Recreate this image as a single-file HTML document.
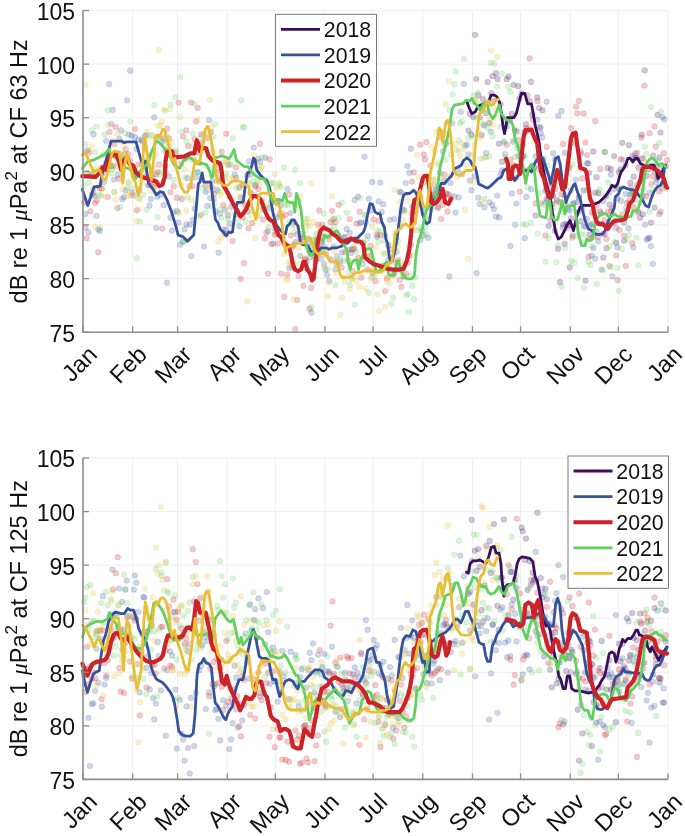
<!DOCTYPE html><html><head><meta charset="utf-8"><style>html,body{margin:0;padding:0;background:#fff;}svg{display:block;will-change:transform}text{font-family:"Liberation Sans", sans-serif;fill:#111}</style></head><body>
<svg width="685" height="836" viewBox="0 0 685 836">
<rect width="685" height="836" fill="#fff"/>
<line x1="132.68" y1="10.5" x2="132.68" y2="332.2" stroke="#efefef" stroke-width="1"/>
<line x1="177.56" y1="10.5" x2="177.56" y2="332.2" stroke="#efefef" stroke-width="1"/>
<line x1="227.25" y1="10.5" x2="227.25" y2="332.2" stroke="#efefef" stroke-width="1"/>
<line x1="275.33" y1="10.5" x2="275.33" y2="332.2" stroke="#efefef" stroke-width="1"/>
<line x1="325.01" y1="10.5" x2="325.01" y2="332.2" stroke="#efefef" stroke-width="1"/>
<line x1="373.10" y1="10.5" x2="373.10" y2="332.2" stroke="#efefef" stroke-width="1"/>
<line x1="422.78" y1="10.5" x2="422.78" y2="332.2" stroke="#efefef" stroke-width="1"/>
<line x1="472.47" y1="10.5" x2="472.47" y2="332.2" stroke="#efefef" stroke-width="1"/>
<line x1="520.55" y1="10.5" x2="520.55" y2="332.2" stroke="#efefef" stroke-width="1"/>
<line x1="570.23" y1="10.5" x2="570.23" y2="332.2" stroke="#efefef" stroke-width="1"/>
<line x1="618.32" y1="10.5" x2="618.32" y2="332.2" stroke="#efefef" stroke-width="1"/>
<line x1="668.00" y1="10.5" x2="668.00" y2="332.2" stroke="#efefef" stroke-width="1"/>
<line x1="83.0" y1="278.58" x2="668.0" y2="278.58" stroke="#efefef" stroke-width="1"/>
<line x1="83.0" y1="224.97" x2="668.0" y2="224.97" stroke="#efefef" stroke-width="1"/>
<line x1="83.0" y1="171.35" x2="668.0" y2="171.35" stroke="#efefef" stroke-width="1"/>
<line x1="83.0" y1="117.73" x2="668.0" y2="117.73" stroke="#efefef" stroke-width="1"/>
<line x1="83.0" y1="64.12" x2="668.0" y2="64.12" stroke="#efefef" stroke-width="1"/>
<line x1="83.0" y1="10.50" x2="668.0" y2="10.50" stroke="#efefef" stroke-width="1"/>
<g fill="#3b0f5e" fill-opacity="0.24" stroke="#3b0f5e" stroke-opacity="0.22" stroke-width="0.6"><circle cx="468.6" cy="130.6" r="2.85"/><circle cx="469.8" cy="113.8" r="2.85"/><circle cx="471.4" cy="134.7" r="2.85"/><circle cx="473.3" cy="117.0" r="2.85"/><circle cx="475.1" cy="34.8" r="2.85"/><circle cx="476.3" cy="79.0" r="2.85"/><circle cx="478.3" cy="95.2" r="2.85"/><circle cx="479.8" cy="117.5" r="2.85"/><circle cx="481.5" cy="135.1" r="2.85"/><circle cx="482.9" cy="99.0" r="2.85"/><circle cx="484.2" cy="125.3" r="2.85"/><circle cx="486.0" cy="113.2" r="2.85"/><circle cx="487.6" cy="82.0" r="2.85"/><circle cx="489.4" cy="122.9" r="2.85"/><circle cx="491.2" cy="93.2" r="2.85"/><circle cx="492.6" cy="76.2" r="2.85"/><circle cx="494.0" cy="101.1" r="2.85"/><circle cx="496.0" cy="73.1" r="2.85"/><circle cx="497.6" cy="78.9" r="2.85"/><circle cx="498.8" cy="143.7" r="2.85"/><circle cx="500.5" cy="104.4" r="2.85"/><circle cx="502.1" cy="161.7" r="2.85"/><circle cx="506.7" cy="79.2" r="2.85"/><circle cx="508.5" cy="76.4" r="2.85"/><circle cx="510.2" cy="120.9" r="2.85"/><circle cx="511.8" cy="113.9" r="2.85"/><circle cx="513.6" cy="84.8" r="2.85"/><circle cx="514.7" cy="130.1" r="2.85"/><circle cx="516.6" cy="131.5" r="2.85"/><circle cx="518.2" cy="86.1" r="2.85"/><circle cx="519.5" cy="98.6" r="2.85"/><circle cx="521.5" cy="93.3" r="2.85"/><circle cx="522.7" cy="156.6" r="2.85"/><circle cx="524.7" cy="131.9" r="2.85"/><circle cx="526.0" cy="124.3" r="2.85"/><circle cx="527.6" cy="131.0" r="2.85"/><circle cx="529.7" cy="101.1" r="2.85"/><circle cx="531.0" cy="81.8" r="2.85"/><circle cx="532.4" cy="114.6" r="2.85"/><circle cx="534.2" cy="167.0" r="2.85"/><circle cx="535.6" cy="215.5" r="2.85"/><circle cx="537.2" cy="97.4" r="2.85"/><circle cx="539.2" cy="108.0" r="2.85"/><circle cx="540.5" cy="127.6" r="2.85"/><circle cx="542.5" cy="110.3" r="2.85"/><circle cx="545.6" cy="190.3" r="2.85"/><circle cx="546.9" cy="199.4" r="2.85"/><circle cx="548.6" cy="225.9" r="2.85"/><circle cx="550.4" cy="187.6" r="2.85"/><circle cx="552.0" cy="204.4" r="2.85"/><circle cx="553.1" cy="195.7" r="2.85"/><circle cx="554.9" cy="231.0" r="2.85"/><circle cx="556.9" cy="200.2" r="2.85"/><circle cx="558.0" cy="248.7" r="2.85"/><circle cx="560.0" cy="282.1" r="2.85"/><circle cx="563.2" cy="224.7" r="2.85"/><circle cx="564.7" cy="243.8" r="2.85"/><circle cx="566.0" cy="223.6" r="2.85"/><circle cx="567.8" cy="225.2" r="2.85"/><circle cx="569.7" cy="267.3" r="2.85"/><circle cx="571.1" cy="218.3" r="2.85"/><circle cx="572.8" cy="203.8" r="2.85"/><circle cx="577.7" cy="212.9" r="2.85"/><circle cx="579.2" cy="196.3" r="2.85"/><circle cx="580.7" cy="221.2" r="2.85"/><circle cx="583.6" cy="190.3" r="2.85"/><circle cx="585.5" cy="280.6" r="2.85"/><circle cx="587.1" cy="163.4" r="2.85"/><circle cx="588.9" cy="173.0" r="2.85"/><circle cx="590.0" cy="234.6" r="2.85"/><circle cx="591.7" cy="224.1" r="2.85"/><circle cx="593.2" cy="151.4" r="2.85"/><circle cx="595.1" cy="192.7" r="2.85"/><circle cx="596.6" cy="177.2" r="2.85"/><circle cx="598.5" cy="193.3" r="2.85"/><circle cx="600.1" cy="211.4" r="2.85"/><circle cx="601.6" cy="224.0" r="2.85"/><circle cx="603.3" cy="257.5" r="2.85"/><circle cx="604.8" cy="152.1" r="2.85"/><circle cx="606.5" cy="248.2" r="2.85"/><circle cx="607.7" cy="167.9" r="2.85"/><circle cx="609.5" cy="204.7" r="2.85"/><circle cx="610.9" cy="169.1" r="2.85"/><circle cx="614.2" cy="156.1" r="2.85"/><circle cx="616.2" cy="242.8" r="2.85"/><circle cx="617.3" cy="198.7" r="2.85"/><circle cx="618.9" cy="172.2" r="2.85"/><circle cx="620.7" cy="169.3" r="2.85"/><circle cx="622.2" cy="142.8" r="2.85"/><circle cx="624.1" cy="240.6" r="2.85"/><circle cx="625.4" cy="165.5" r="2.85"/><circle cx="628.9" cy="145.2" r="2.85"/><circle cx="630.3" cy="182.6" r="2.85"/><circle cx="632.2" cy="156.1" r="2.85"/><circle cx="633.6" cy="176.6" r="2.85"/><circle cx="635.1" cy="157.9" r="2.85"/><circle cx="636.7" cy="158.2" r="2.85"/><circle cx="638.5" cy="167.6" r="2.85"/><circle cx="640.0" cy="217.8" r="2.85"/><circle cx="641.7" cy="134.8" r="2.85"/><circle cx="642.9" cy="214.3" r="2.85"/><circle cx="644.7" cy="70.3" r="2.85"/><circle cx="646.5" cy="175.9" r="2.85"/><circle cx="648.1" cy="169.2" r="2.85"/><circle cx="649.5" cy="237.6" r="2.85"/><circle cx="651.0" cy="222.6" r="2.85"/><circle cx="653.0" cy="155.5" r="2.85"/><circle cx="654.6" cy="207.5" r="2.85"/><circle cx="656.0" cy="166.5" r="2.85"/><circle cx="657.6" cy="114.8" r="2.85"/><circle cx="659.3" cy="157.7" r="2.85"/><circle cx="660.5" cy="132.5" r="2.85"/><circle cx="662.3" cy="165.8" r="2.85"/><circle cx="664.1" cy="182.4" r="2.85"/></g>
<g fill="#36529c" fill-opacity="0.24" stroke="#36529c" stroke-opacity="0.22" stroke-width="0.6"><circle cx="85.4" cy="213.9" r="2.85"/><circle cx="87.1" cy="150.3" r="2.85"/><circle cx="88.5" cy="232.2" r="2.85"/><circle cx="91.8" cy="194.7" r="2.85"/><circle cx="93.5" cy="134.2" r="2.85"/><circle cx="94.9" cy="196.0" r="2.85"/><circle cx="96.4" cy="215.9" r="2.85"/><circle cx="98.2" cy="229.6" r="2.85"/><circle cx="99.9" cy="230.8" r="2.85"/><circle cx="101.3" cy="169.1" r="2.85"/><circle cx="103.0" cy="173.0" r="2.85"/><circle cx="104.3" cy="181.8" r="2.85"/><circle cx="106.1" cy="140.9" r="2.85"/><circle cx="108.1" cy="161.1" r="2.85"/><circle cx="109.2" cy="84.1" r="2.85"/><circle cx="111.2" cy="124.0" r="2.85"/><circle cx="112.7" cy="109.9" r="2.85"/><circle cx="114.0" cy="179.6" r="2.85"/><circle cx="117.7" cy="174.8" r="2.85"/><circle cx="119.1" cy="138.7" r="2.85"/><circle cx="120.9" cy="130.4" r="2.85"/><circle cx="122.2" cy="199.1" r="2.85"/><circle cx="123.9" cy="197.2" r="2.85"/><circle cx="125.7" cy="190.4" r="2.85"/><circle cx="127.2" cy="100.3" r="2.85"/><circle cx="128.9" cy="134.6" r="2.85"/><circle cx="130.2" cy="70.7" r="2.85"/><circle cx="131.6" cy="135.7" r="2.85"/><circle cx="133.5" cy="195.4" r="2.85"/><circle cx="134.9" cy="137.1" r="2.85"/><circle cx="136.6" cy="149.0" r="2.85"/><circle cx="138.6" cy="139.5" r="2.85"/><circle cx="141.7" cy="140.2" r="2.85"/><circle cx="142.9" cy="141.9" r="2.85"/><circle cx="144.6" cy="136.0" r="2.85"/><circle cx="146.5" cy="135.1" r="2.85"/><circle cx="147.8" cy="185.3" r="2.85"/><circle cx="149.5" cy="205.4" r="2.85"/><circle cx="150.9" cy="199.0" r="2.85"/><circle cx="152.6" cy="176.8" r="2.85"/><circle cx="154.2" cy="117.3" r="2.85"/><circle cx="156.2" cy="228.0" r="2.85"/><circle cx="157.3" cy="196.7" r="2.85"/><circle cx="159.1" cy="136.9" r="2.85"/><circle cx="160.5" cy="194.9" r="2.85"/><circle cx="162.1" cy="141.8" r="2.85"/><circle cx="163.7" cy="205.2" r="2.85"/><circle cx="165.7" cy="150.7" r="2.85"/><circle cx="167.0" cy="282.7" r="2.85"/><circle cx="169.0" cy="176.4" r="2.85"/><circle cx="170.4" cy="217.8" r="2.85"/><circle cx="172.0" cy="230.7" r="2.85"/><circle cx="173.3" cy="212.5" r="2.85"/><circle cx="176.9" cy="210.8" r="2.85"/><circle cx="178.5" cy="222.6" r="2.85"/><circle cx="180.2" cy="244.7" r="2.85"/><circle cx="181.7" cy="199.1" r="2.85"/><circle cx="183.1" cy="241.8" r="2.85"/><circle cx="184.6" cy="229.3" r="2.85"/><circle cx="186.4" cy="224.4" r="2.85"/><circle cx="187.7" cy="178.2" r="2.85"/><circle cx="189.9" cy="224.7" r="2.85"/><circle cx="191.5" cy="256.1" r="2.85"/><circle cx="192.9" cy="219.9" r="2.85"/><circle cx="194.6" cy="208.9" r="2.85"/><circle cx="195.7" cy="177.3" r="2.85"/><circle cx="197.7" cy="172.2" r="2.85"/><circle cx="199.5" cy="162.9" r="2.85"/><circle cx="200.8" cy="215.1" r="2.85"/><circle cx="202.4" cy="142.2" r="2.85"/><circle cx="204.0" cy="246.5" r="2.85"/><circle cx="205.7" cy="192.0" r="2.85"/><circle cx="207.2" cy="205.9" r="2.85"/><circle cx="209.1" cy="120.2" r="2.85"/><circle cx="210.2" cy="198.1" r="2.85"/><circle cx="212.3" cy="180.8" r="2.85"/><circle cx="213.8" cy="199.0" r="2.85"/><circle cx="215.4" cy="211.4" r="2.85"/><circle cx="216.9" cy="189.9" r="2.85"/><circle cx="218.6" cy="252.7" r="2.85"/><circle cx="220.0" cy="213.6" r="2.85"/><circle cx="221.5" cy="180.5" r="2.85"/><circle cx="223.2" cy="229.6" r="2.85"/><circle cx="224.9" cy="210.0" r="2.85"/><circle cx="226.3" cy="229.7" r="2.85"/><circle cx="227.8" cy="215.4" r="2.85"/><circle cx="229.8" cy="223.8" r="2.85"/><circle cx="231.3" cy="206.9" r="2.85"/><circle cx="234.7" cy="174.7" r="2.85"/><circle cx="236.2" cy="177.8" r="2.85"/><circle cx="237.5" cy="214.4" r="2.85"/><circle cx="239.4" cy="226.3" r="2.85"/><circle cx="241.1" cy="197.7" r="2.85"/><circle cx="242.7" cy="184.5" r="2.85"/><circle cx="247.6" cy="211.6" r="2.85"/><circle cx="249.1" cy="161.4" r="2.85"/><circle cx="250.7" cy="174.5" r="2.85"/><circle cx="253.7" cy="147.5" r="2.85"/><circle cx="255.1" cy="185.0" r="2.85"/><circle cx="258.3" cy="158.8" r="2.85"/><circle cx="260.0" cy="161.9" r="2.85"/><circle cx="263.3" cy="208.5" r="2.85"/><circle cx="265.0" cy="157.7" r="2.85"/><circle cx="266.4" cy="180.5" r="2.85"/><circle cx="268.2" cy="231.1" r="2.85"/><circle cx="269.8" cy="208.2" r="2.85"/><circle cx="271.4" cy="202.3" r="2.85"/><circle cx="273.2" cy="243.6" r="2.85"/><circle cx="274.6" cy="228.4" r="2.85"/><circle cx="276.3" cy="202.7" r="2.85"/><circle cx="277.8" cy="202.0" r="2.85"/><circle cx="279.4" cy="217.0" r="2.85"/><circle cx="280.8" cy="205.5" r="2.85"/><circle cx="282.8" cy="237.8" r="2.85"/><circle cx="284.3" cy="243.9" r="2.85"/><circle cx="285.9" cy="244.8" r="2.85"/><circle cx="287.6" cy="189.1" r="2.85"/><circle cx="289.2" cy="268.0" r="2.85"/><circle cx="290.5" cy="213.0" r="2.85"/><circle cx="292.3" cy="247.0" r="2.85"/><circle cx="294.0" cy="222.2" r="2.85"/><circle cx="295.6" cy="241.9" r="2.85"/><circle cx="296.8" cy="234.5" r="2.85"/><circle cx="300.0" cy="255.8" r="2.85"/><circle cx="301.8" cy="233.9" r="2.85"/><circle cx="305.1" cy="259.7" r="2.85"/><circle cx="306.7" cy="262.2" r="2.85"/><circle cx="308.1" cy="238.4" r="2.85"/><circle cx="309.7" cy="257.2" r="2.85"/><circle cx="311.5" cy="312.6" r="2.85"/><circle cx="312.9" cy="240.2" r="2.85"/><circle cx="314.6" cy="256.2" r="2.85"/><circle cx="316.3" cy="261.5" r="2.85"/><circle cx="319.1" cy="250.1" r="2.85"/><circle cx="320.8" cy="258.7" r="2.85"/><circle cx="322.3" cy="242.3" r="2.85"/><circle cx="324.0" cy="264.0" r="2.85"/><circle cx="325.5" cy="269.7" r="2.85"/><circle cx="327.3" cy="275.1" r="2.85"/><circle cx="329.2" cy="281.0" r="2.85"/><circle cx="330.6" cy="259.4" r="2.85"/><circle cx="332.4" cy="169.2" r="2.85"/><circle cx="333.8" cy="246.6" r="2.85"/><circle cx="335.5" cy="269.4" r="2.85"/><circle cx="336.8" cy="256.4" r="2.85"/><circle cx="340.3" cy="261.6" r="2.85"/><circle cx="341.9" cy="252.4" r="2.85"/><circle cx="343.7" cy="237.0" r="2.85"/><circle cx="345.2" cy="237.4" r="2.85"/><circle cx="346.6" cy="229.1" r="2.85"/><circle cx="348.2" cy="249.7" r="2.85"/><circle cx="349.6" cy="232.8" r="2.85"/><circle cx="351.2" cy="253.0" r="2.85"/><circle cx="353.1" cy="248.7" r="2.85"/><circle cx="354.6" cy="199.9" r="2.85"/><circle cx="356.5" cy="238.5" r="2.85"/><circle cx="357.9" cy="196.6" r="2.85"/><circle cx="359.7" cy="223.2" r="2.85"/><circle cx="361.1" cy="222.3" r="2.85"/><circle cx="362.7" cy="263.9" r="2.85"/><circle cx="364.5" cy="156.8" r="2.85"/><circle cx="365.8" cy="222.1" r="2.85"/><circle cx="367.7" cy="235.8" r="2.85"/><circle cx="368.8" cy="198.7" r="2.85"/><circle cx="370.6" cy="210.4" r="2.85"/><circle cx="372.3" cy="182.0" r="2.85"/><circle cx="377.2" cy="237.0" r="2.85"/><circle cx="378.6" cy="201.3" r="2.85"/><circle cx="380.3" cy="182.6" r="2.85"/><circle cx="381.6" cy="212.0" r="2.85"/><circle cx="383.2" cy="204.2" r="2.85"/><circle cx="385.0" cy="235.6" r="2.85"/><circle cx="388.3" cy="260.2" r="2.85"/><circle cx="389.7" cy="219.8" r="2.85"/><circle cx="391.2" cy="259.8" r="2.85"/><circle cx="393.3" cy="274.5" r="2.85"/><circle cx="394.4" cy="219.0" r="2.85"/><circle cx="396.6" cy="251.8" r="2.85"/><circle cx="399.6" cy="191.8" r="2.85"/><circle cx="401.0" cy="192.3" r="2.85"/><circle cx="402.5" cy="209.4" r="2.85"/><circle cx="404.5" cy="210.3" r="2.85"/><circle cx="405.7" cy="183.0" r="2.85"/><circle cx="407.4" cy="166.0" r="2.85"/><circle cx="409.3" cy="172.8" r="2.85"/><circle cx="410.8" cy="148.7" r="2.85"/><circle cx="412.4" cy="206.0" r="2.85"/><circle cx="413.8" cy="210.6" r="2.85"/><circle cx="417.1" cy="204.8" r="2.85"/><circle cx="420.4" cy="240.0" r="2.85"/><circle cx="422.0" cy="230.3" r="2.85"/><circle cx="423.7" cy="235.1" r="2.85"/><circle cx="425.0" cy="208.1" r="2.85"/><circle cx="428.4" cy="237.8" r="2.85"/><circle cx="430.0" cy="207.3" r="2.85"/><circle cx="431.5" cy="195.4" r="2.85"/><circle cx="433.3" cy="198.1" r="2.85"/><circle cx="434.9" cy="191.0" r="2.85"/><circle cx="436.5" cy="189.3" r="2.85"/><circle cx="437.8" cy="206.4" r="2.85"/><circle cx="439.7" cy="172.7" r="2.85"/><circle cx="441.1" cy="137.1" r="2.85"/><circle cx="442.9" cy="151.4" r="2.85"/><circle cx="444.5" cy="180.9" r="2.85"/><circle cx="445.9" cy="143.7" r="2.85"/><circle cx="447.5" cy="193.7" r="2.85"/><circle cx="449.4" cy="276.4" r="2.85"/><circle cx="450.6" cy="183.0" r="2.85"/><circle cx="452.2" cy="123.3" r="2.85"/><circle cx="454.2" cy="196.4" r="2.85"/><circle cx="455.6" cy="212.6" r="2.85"/><circle cx="457.4" cy="169.8" r="2.85"/><circle cx="458.7" cy="197.4" r="2.85"/><circle cx="460.7" cy="111.8" r="2.85"/><circle cx="461.9" cy="174.2" r="2.85"/><circle cx="463.8" cy="83.9" r="2.85"/><circle cx="465.3" cy="145.6" r="2.85"/><circle cx="467.1" cy="144.5" r="2.85"/><circle cx="468.3" cy="154.3" r="2.85"/><circle cx="469.9" cy="180.5" r="2.85"/><circle cx="471.4" cy="190.2" r="2.85"/><circle cx="474.6" cy="176.0" r="2.85"/><circle cx="476.6" cy="273.0" r="2.85"/><circle cx="478.2" cy="197.6" r="2.85"/><circle cx="479.6" cy="204.1" r="2.85"/><circle cx="484.5" cy="207.2" r="2.85"/><circle cx="486.0" cy="153.1" r="2.85"/><circle cx="489.5" cy="202.3" r="2.85"/><circle cx="490.9" cy="131.6" r="2.85"/><circle cx="492.3" cy="205.1" r="2.85"/><circle cx="493.9" cy="209.2" r="2.85"/><circle cx="496.0" cy="216.6" r="2.85"/><circle cx="497.3" cy="195.6" r="2.85"/><circle cx="499.1" cy="217.4" r="2.85"/><circle cx="500.6" cy="174.6" r="2.85"/><circle cx="502.1" cy="170.4" r="2.85"/><circle cx="503.9" cy="141.6" r="2.85"/><circle cx="505.1" cy="154.0" r="2.85"/><circle cx="506.8" cy="126.7" r="2.85"/><circle cx="510.4" cy="245.9" r="2.85"/><circle cx="511.9" cy="193.4" r="2.85"/><circle cx="513.2" cy="141.8" r="2.85"/><circle cx="515.2" cy="224.7" r="2.85"/><circle cx="516.5" cy="203.5" r="2.85"/><circle cx="518.2" cy="155.9" r="2.85"/><circle cx="519.9" cy="171.9" r="2.85"/><circle cx="521.1" cy="159.5" r="2.85"/><circle cx="523.1" cy="156.2" r="2.85"/><circle cx="524.8" cy="238.2" r="2.85"/><circle cx="526.4" cy="196.9" r="2.85"/><circle cx="529.5" cy="170.0" r="2.85"/><circle cx="531.1" cy="189.2" r="2.85"/><circle cx="535.7" cy="156.1" r="2.85"/><circle cx="537.3" cy="119.6" r="2.85"/><circle cx="539.0" cy="126.8" r="2.85"/><circle cx="540.7" cy="132.9" r="2.85"/><circle cx="542.2" cy="137.4" r="2.85"/><circle cx="543.7" cy="158.5" r="2.85"/><circle cx="545.2" cy="202.3" r="2.85"/><circle cx="546.7" cy="101.7" r="2.85"/><circle cx="548.5" cy="196.9" r="2.85"/><circle cx="550.4" cy="220.3" r="2.85"/><circle cx="551.9" cy="194.9" r="2.85"/><circle cx="553.2" cy="153.2" r="2.85"/><circle cx="555.0" cy="159.4" r="2.85"/><circle cx="556.4" cy="172.0" r="2.85"/><circle cx="558.3" cy="115.9" r="2.85"/><circle cx="560.1" cy="175.0" r="2.85"/><circle cx="561.5" cy="110.9" r="2.85"/><circle cx="562.8" cy="227.8" r="2.85"/><circle cx="564.9" cy="152.8" r="2.85"/><circle cx="568.0" cy="208.8" r="2.85"/><circle cx="569.7" cy="210.6" r="2.85"/><circle cx="570.8" cy="190.4" r="2.85"/><circle cx="572.6" cy="235.3" r="2.85"/><circle cx="574.4" cy="202.8" r="2.85"/><circle cx="575.9" cy="179.5" r="2.85"/><circle cx="577.5" cy="202.0" r="2.85"/><circle cx="579.0" cy="197.8" r="2.85"/><circle cx="580.9" cy="154.0" r="2.85"/><circle cx="582.4" cy="209.4" r="2.85"/><circle cx="583.8" cy="226.1" r="2.85"/><circle cx="585.3" cy="226.6" r="2.85"/><circle cx="586.8" cy="218.9" r="2.85"/><circle cx="588.6" cy="163.2" r="2.85"/><circle cx="590.1" cy="225.4" r="2.85"/><circle cx="591.7" cy="255.6" r="2.85"/><circle cx="593.4" cy="248.1" r="2.85"/><circle cx="595.1" cy="258.7" r="2.85"/><circle cx="596.7" cy="231.7" r="2.85"/><circle cx="598.2" cy="241.3" r="2.85"/><circle cx="601.5" cy="269.5" r="2.85"/><circle cx="603.3" cy="201.2" r="2.85"/><circle cx="604.7" cy="234.0" r="2.85"/><circle cx="606.0" cy="196.2" r="2.85"/><circle cx="608.0" cy="224.7" r="2.85"/><circle cx="609.4" cy="192.3" r="2.85"/><circle cx="610.9" cy="174.7" r="2.85"/><circle cx="612.4" cy="276.4" r="2.85"/><circle cx="614.4" cy="189.1" r="2.85"/><circle cx="616.0" cy="228.0" r="2.85"/><circle cx="617.4" cy="247.4" r="2.85"/><circle cx="619.2" cy="189.1" r="2.85"/><circle cx="621.0" cy="200.8" r="2.85"/><circle cx="622.5" cy="159.6" r="2.85"/><circle cx="624.1" cy="222.8" r="2.85"/><circle cx="625.7" cy="194.0" r="2.85"/><circle cx="627.3" cy="210.1" r="2.85"/><circle cx="628.5" cy="228.3" r="2.85"/><circle cx="630.1" cy="194.3" r="2.85"/><circle cx="632.1" cy="193.7" r="2.85"/><circle cx="633.3" cy="247.4" r="2.85"/><circle cx="635.2" cy="153.6" r="2.85"/><circle cx="636.7" cy="185.0" r="2.85"/><circle cx="638.5" cy="212.6" r="2.85"/><circle cx="639.8" cy="181.7" r="2.85"/><circle cx="641.8" cy="158.2" r="2.85"/><circle cx="643.0" cy="195.8" r="2.85"/><circle cx="644.9" cy="224.6" r="2.85"/><circle cx="646.7" cy="239.4" r="2.85"/><circle cx="648.1" cy="238.9" r="2.85"/><circle cx="649.5" cy="192.8" r="2.85"/><circle cx="651.0" cy="246.1" r="2.85"/><circle cx="652.8" cy="263.8" r="2.85"/><circle cx="654.5" cy="171.8" r="2.85"/><circle cx="656.1" cy="182.2" r="2.85"/><circle cx="657.3" cy="179.1" r="2.85"/><circle cx="659.4" cy="214.0" r="2.85"/><circle cx="661.1" cy="171.4" r="2.85"/><circle cx="662.4" cy="117.1" r="2.85"/><circle cx="664.3" cy="119.6" r="2.85"/></g>
<g fill="#cd2228" fill-opacity="0.24" stroke="#cd2228" stroke-opacity="0.22" stroke-width="0.6"><circle cx="84.1" cy="202.4" r="2.85"/><circle cx="85.4" cy="227.7" r="2.85"/><circle cx="86.7" cy="238.2" r="2.85"/><circle cx="88.9" cy="152.5" r="2.85"/><circle cx="90.5" cy="211.3" r="2.85"/><circle cx="91.6" cy="174.3" r="2.85"/><circle cx="93.2" cy="192.9" r="2.85"/><circle cx="95.1" cy="203.1" r="2.85"/><circle cx="96.8" cy="200.6" r="2.85"/><circle cx="98.3" cy="252.3" r="2.85"/><circle cx="99.7" cy="188.2" r="2.85"/><circle cx="101.7" cy="188.8" r="2.85"/><circle cx="103.1" cy="167.1" r="2.85"/><circle cx="106.2" cy="164.0" r="2.85"/><circle cx="107.6" cy="197.1" r="2.85"/><circle cx="109.5" cy="132.0" r="2.85"/><circle cx="111.1" cy="165.9" r="2.85"/><circle cx="112.6" cy="166.5" r="2.85"/><circle cx="114.4" cy="144.0" r="2.85"/><circle cx="115.8" cy="127.0" r="2.85"/><circle cx="117.5" cy="208.0" r="2.85"/><circle cx="118.9" cy="178.7" r="2.85"/><circle cx="120.7" cy="154.3" r="2.85"/><circle cx="123.8" cy="159.0" r="2.85"/><circle cx="125.7" cy="149.3" r="2.85"/><circle cx="127.3" cy="160.2" r="2.85"/><circle cx="128.4" cy="154.2" r="2.85"/><circle cx="130.0" cy="160.6" r="2.85"/><circle cx="132.0" cy="192.6" r="2.85"/><circle cx="133.4" cy="172.1" r="2.85"/><circle cx="135.0" cy="129.0" r="2.85"/><circle cx="136.7" cy="210.3" r="2.85"/><circle cx="138.3" cy="164.5" r="2.85"/><circle cx="139.6" cy="189.8" r="2.85"/><circle cx="143.3" cy="161.3" r="2.85"/><circle cx="144.6" cy="147.2" r="2.85"/><circle cx="146.3" cy="176.1" r="2.85"/><circle cx="147.6" cy="165.5" r="2.85"/><circle cx="149.6" cy="185.1" r="2.85"/><circle cx="152.6" cy="184.6" r="2.85"/><circle cx="154.2" cy="187.0" r="2.85"/><circle cx="155.8" cy="174.4" r="2.85"/><circle cx="157.3" cy="172.2" r="2.85"/><circle cx="159.0" cy="164.7" r="2.85"/><circle cx="162.3" cy="228.5" r="2.85"/><circle cx="164.2" cy="138.4" r="2.85"/><circle cx="165.3" cy="166.4" r="2.85"/><circle cx="167.1" cy="128.7" r="2.85"/><circle cx="169.0" cy="138.3" r="2.85"/><circle cx="170.4" cy="192.1" r="2.85"/><circle cx="172.2" cy="152.6" r="2.85"/><circle cx="173.7" cy="186.2" r="2.85"/><circle cx="175.4" cy="152.6" r="2.85"/><circle cx="176.9" cy="197.7" r="2.85"/><circle cx="178.6" cy="102.5" r="2.85"/><circle cx="181.3" cy="163.8" r="2.85"/><circle cx="183.0" cy="136.5" r="2.85"/><circle cx="184.9" cy="158.9" r="2.85"/><circle cx="186.4" cy="130.4" r="2.85"/><circle cx="188.3" cy="146.1" r="2.85"/><circle cx="189.5" cy="186.1" r="2.85"/><circle cx="191.0" cy="102.5" r="2.85"/><circle cx="192.6" cy="186.2" r="2.85"/><circle cx="194.6" cy="139.2" r="2.85"/><circle cx="196.2" cy="121.4" r="2.85"/><circle cx="197.6" cy="107.8" r="2.85"/><circle cx="199.2" cy="152.3" r="2.85"/><circle cx="200.9" cy="134.4" r="2.85"/><circle cx="205.6" cy="185.8" r="2.85"/><circle cx="207.3" cy="138.2" r="2.85"/><circle cx="210.5" cy="132.0" r="2.85"/><circle cx="211.7" cy="186.9" r="2.85"/><circle cx="213.9" cy="193.9" r="2.85"/><circle cx="217.0" cy="164.4" r="2.85"/><circle cx="218.2" cy="177.9" r="2.85"/><circle cx="219.9" cy="171.0" r="2.85"/><circle cx="221.9" cy="151.8" r="2.85"/><circle cx="223.4" cy="205.0" r="2.85"/><circle cx="224.8" cy="233.5" r="2.85"/><circle cx="226.2" cy="133.7" r="2.85"/><circle cx="228.1" cy="164.8" r="2.85"/><circle cx="229.7" cy="196.7" r="2.85"/><circle cx="232.6" cy="241.1" r="2.85"/><circle cx="236.1" cy="167.3" r="2.85"/><circle cx="239.4" cy="187.3" r="2.85"/><circle cx="240.6" cy="278.8" r="2.85"/><circle cx="242.7" cy="217.3" r="2.85"/><circle cx="243.9" cy="263.0" r="2.85"/><circle cx="245.4" cy="204.8" r="2.85"/><circle cx="247.2" cy="175.9" r="2.85"/><circle cx="248.6" cy="228.3" r="2.85"/><circle cx="250.5" cy="192.3" r="2.85"/><circle cx="252.2" cy="223.1" r="2.85"/><circle cx="255.4" cy="186.3" r="2.85"/><circle cx="258.4" cy="189.0" r="2.85"/><circle cx="260.0" cy="143.8" r="2.85"/><circle cx="261.7" cy="200.3" r="2.85"/><circle cx="263.0" cy="219.5" r="2.85"/><circle cx="264.8" cy="238.3" r="2.85"/><circle cx="266.3" cy="232.7" r="2.85"/><circle cx="267.9" cy="273.5" r="2.85"/><circle cx="269.6" cy="159.3" r="2.85"/><circle cx="271.3" cy="244.1" r="2.85"/><circle cx="274.6" cy="234.7" r="2.85"/><circle cx="276.4" cy="232.7" r="2.85"/><circle cx="277.9" cy="243.6" r="2.85"/><circle cx="279.6" cy="214.1" r="2.85"/><circle cx="281.2" cy="273.6" r="2.85"/><circle cx="282.4" cy="216.9" r="2.85"/><circle cx="284.2" cy="296.9" r="2.85"/><circle cx="285.5" cy="215.1" r="2.85"/><circle cx="287.4" cy="274.6" r="2.85"/><circle cx="289.1" cy="194.6" r="2.85"/><circle cx="290.7" cy="235.5" r="2.85"/><circle cx="292.2" cy="267.1" r="2.85"/><circle cx="293.9" cy="245.0" r="2.85"/><circle cx="295.3" cy="329.0" r="2.85"/><circle cx="297.1" cy="300.0" r="2.85"/><circle cx="298.6" cy="275.9" r="2.85"/><circle cx="300.3" cy="239.0" r="2.85"/><circle cx="302.1" cy="237.5" r="2.85"/><circle cx="303.5" cy="285.7" r="2.85"/><circle cx="305.0" cy="259.1" r="2.85"/><circle cx="306.6" cy="268.4" r="2.85"/><circle cx="308.2" cy="243.7" r="2.85"/><circle cx="309.6" cy="308.7" r="2.85"/><circle cx="311.2" cy="287.9" r="2.85"/><circle cx="312.8" cy="277.0" r="2.85"/><circle cx="314.5" cy="248.7" r="2.85"/><circle cx="316.0" cy="259.0" r="2.85"/><circle cx="318.1" cy="224.6" r="2.85"/><circle cx="319.2" cy="210.6" r="2.85"/><circle cx="320.8" cy="244.5" r="2.85"/><circle cx="322.3" cy="224.8" r="2.85"/><circle cx="324.3" cy="236.6" r="2.85"/><circle cx="326.0" cy="254.4" r="2.85"/><circle cx="329.0" cy="239.3" r="2.85"/><circle cx="330.6" cy="222.2" r="2.85"/><circle cx="332.1" cy="210.8" r="2.85"/><circle cx="334.0" cy="218.6" r="2.85"/><circle cx="335.2" cy="222.2" r="2.85"/><circle cx="336.8" cy="263.9" r="2.85"/><circle cx="338.6" cy="204.8" r="2.85"/><circle cx="340.4" cy="238.8" r="2.85"/><circle cx="341.6" cy="267.4" r="2.85"/><circle cx="343.2" cy="241.5" r="2.85"/><circle cx="345.3" cy="252.4" r="2.85"/><circle cx="346.8" cy="241.2" r="2.85"/><circle cx="348.0" cy="260.0" r="2.85"/><circle cx="349.7" cy="219.0" r="2.85"/><circle cx="351.6" cy="249.8" r="2.85"/><circle cx="352.8" cy="270.9" r="2.85"/><circle cx="354.4" cy="249.0" r="2.85"/><circle cx="356.6" cy="223.6" r="2.85"/><circle cx="358.2" cy="257.9" r="2.85"/><circle cx="359.7" cy="211.7" r="2.85"/><circle cx="361.3" cy="277.6" r="2.85"/><circle cx="362.8" cy="242.7" r="2.85"/><circle cx="364.1" cy="257.5" r="2.85"/><circle cx="367.5" cy="269.3" r="2.85"/><circle cx="369.3" cy="256.2" r="2.85"/><circle cx="370.4" cy="245.9" r="2.85"/><circle cx="372.5" cy="273.3" r="2.85"/><circle cx="373.7" cy="219.5" r="2.85"/><circle cx="375.5" cy="280.9" r="2.85"/><circle cx="377.1" cy="234.7" r="2.85"/><circle cx="378.7" cy="220.8" r="2.85"/><circle cx="380.2" cy="234.9" r="2.85"/><circle cx="382.1" cy="266.0" r="2.85"/><circle cx="383.6" cy="268.5" r="2.85"/><circle cx="385.1" cy="291.0" r="2.85"/><circle cx="386.9" cy="278.1" r="2.85"/><circle cx="388.2" cy="245.6" r="2.85"/><circle cx="389.7" cy="249.3" r="2.85"/><circle cx="391.5" cy="259.2" r="2.85"/><circle cx="394.8" cy="272.3" r="2.85"/><circle cx="396.2" cy="262.7" r="2.85"/><circle cx="397.9" cy="260.0" r="2.85"/><circle cx="399.7" cy="279.9" r="2.85"/><circle cx="401.3" cy="286.9" r="2.85"/><circle cx="404.1" cy="276.6" r="2.85"/><circle cx="406.2" cy="273.6" r="2.85"/><circle cx="407.7" cy="262.7" r="2.85"/><circle cx="409.4" cy="255.7" r="2.85"/><circle cx="411.1" cy="244.7" r="2.85"/><circle cx="412.1" cy="181.5" r="2.85"/><circle cx="413.8" cy="172.4" r="2.85"/><circle cx="415.8" cy="211.4" r="2.85"/><circle cx="419.1" cy="196.5" r="2.85"/><circle cx="420.2" cy="144.7" r="2.85"/><circle cx="423.7" cy="154.7" r="2.85"/><circle cx="425.1" cy="159.5" r="2.85"/><circle cx="426.5" cy="142.1" r="2.85"/><circle cx="428.4" cy="178.8" r="2.85"/><circle cx="430.3" cy="165.7" r="2.85"/><circle cx="431.4" cy="202.4" r="2.85"/><circle cx="433.4" cy="185.0" r="2.85"/><circle cx="434.5" cy="194.5" r="2.85"/><circle cx="438.0" cy="208.2" r="2.85"/><circle cx="439.6" cy="199.9" r="2.85"/><circle cx="441.1" cy="219.0" r="2.85"/><circle cx="442.6" cy="204.9" r="2.85"/><circle cx="444.6" cy="174.7" r="2.85"/><circle cx="446.1" cy="193.7" r="2.85"/><circle cx="447.6" cy="211.6" r="2.85"/><circle cx="449.1" cy="195.0" r="2.85"/><circle cx="450.9" cy="198.4" r="2.85"/><circle cx="506.9" cy="144.6" r="2.85"/><circle cx="508.7" cy="169.9" r="2.85"/><circle cx="510.3" cy="159.6" r="2.85"/><circle cx="513.4" cy="165.3" r="2.85"/><circle cx="516.5" cy="177.6" r="2.85"/><circle cx="518.2" cy="140.1" r="2.85"/><circle cx="519.8" cy="191.6" r="2.85"/><circle cx="522.7" cy="144.5" r="2.85"/><circle cx="524.6" cy="170.5" r="2.85"/><circle cx="526.1" cy="127.8" r="2.85"/><circle cx="527.5" cy="95.4" r="2.85"/><circle cx="529.5" cy="58.4" r="2.85"/><circle cx="530.7" cy="128.9" r="2.85"/><circle cx="532.6" cy="119.7" r="2.85"/><circle cx="535.7" cy="203.4" r="2.85"/><circle cx="537.5" cy="101.2" r="2.85"/><circle cx="539.1" cy="168.7" r="2.85"/><circle cx="540.5" cy="203.3" r="2.85"/><circle cx="542.5" cy="175.6" r="2.85"/><circle cx="545.4" cy="235.5" r="2.85"/><circle cx="546.7" cy="146.9" r="2.85"/><circle cx="548.8" cy="193.0" r="2.85"/><circle cx="550.1" cy="182.4" r="2.85"/><circle cx="552.0" cy="216.9" r="2.85"/><circle cx="555.3" cy="188.8" r="2.85"/><circle cx="556.7" cy="171.6" r="2.85"/><circle cx="558.1" cy="202.4" r="2.85"/><circle cx="561.2" cy="194.2" r="2.85"/><circle cx="563.0" cy="144.0" r="2.85"/><circle cx="564.4" cy="195.3" r="2.85"/><circle cx="566.4" cy="205.8" r="2.85"/><circle cx="567.6" cy="227.8" r="2.85"/><circle cx="569.4" cy="168.0" r="2.85"/><circle cx="571.0" cy="128.1" r="2.85"/><circle cx="572.5" cy="237.5" r="2.85"/><circle cx="574.4" cy="143.0" r="2.85"/><circle cx="576.0" cy="106.5" r="2.85"/><circle cx="577.3" cy="113.4" r="2.85"/><circle cx="578.8" cy="100.8" r="2.85"/><circle cx="580.8" cy="151.5" r="2.85"/><circle cx="582.2" cy="178.4" r="2.85"/><circle cx="583.6" cy="113.4" r="2.85"/><circle cx="585.3" cy="142.5" r="2.85"/><circle cx="587.1" cy="155.1" r="2.85"/><circle cx="588.6" cy="256.7" r="2.85"/><circle cx="590.1" cy="239.0" r="2.85"/><circle cx="591.9" cy="212.4" r="2.85"/><circle cx="593.4" cy="236.7" r="2.85"/><circle cx="595.3" cy="121.1" r="2.85"/><circle cx="596.5" cy="205.6" r="2.85"/><circle cx="598.0" cy="237.0" r="2.85"/><circle cx="600.2" cy="168.8" r="2.85"/><circle cx="601.3" cy="213.6" r="2.85"/><circle cx="602.9" cy="233.9" r="2.85"/><circle cx="604.6" cy="220.4" r="2.85"/><circle cx="606.5" cy="238.9" r="2.85"/><circle cx="607.6" cy="211.9" r="2.85"/><circle cx="609.3" cy="266.0" r="2.85"/><circle cx="611.1" cy="210.8" r="2.85"/><circle cx="612.5" cy="208.2" r="2.85"/><circle cx="614.6" cy="222.7" r="2.85"/><circle cx="616.1" cy="255.5" r="2.85"/><circle cx="617.6" cy="280.2" r="2.85"/><circle cx="619.4" cy="230.0" r="2.85"/><circle cx="620.7" cy="159.1" r="2.85"/><circle cx="622.6" cy="214.3" r="2.85"/><circle cx="624.0" cy="235.6" r="2.85"/><circle cx="625.7" cy="266.0" r="2.85"/><circle cx="626.9" cy="203.2" r="2.85"/><circle cx="629.0" cy="200.6" r="2.85"/><circle cx="630.6" cy="187.7" r="2.85"/><circle cx="632.2" cy="243.2" r="2.85"/><circle cx="633.8" cy="207.1" r="2.85"/><circle cx="634.9" cy="193.4" r="2.85"/><circle cx="636.9" cy="152.9" r="2.85"/><circle cx="638.2" cy="211.3" r="2.85"/><circle cx="641.3" cy="137.7" r="2.85"/><circle cx="643.2" cy="159.0" r="2.85"/><circle cx="644.5" cy="85.6" r="2.85"/><circle cx="646.2" cy="196.4" r="2.85"/><circle cx="649.5" cy="133.2" r="2.85"/><circle cx="651.3" cy="184.1" r="2.85"/><circle cx="652.5" cy="176.5" r="2.85"/><circle cx="654.6" cy="126.4" r="2.85"/><circle cx="655.8" cy="146.7" r="2.85"/><circle cx="657.7" cy="176.2" r="2.85"/><circle cx="659.1" cy="191.3" r="2.85"/><circle cx="660.6" cy="211.7" r="2.85"/><circle cx="662.3" cy="188.6" r="2.85"/><circle cx="663.8" cy="153.2" r="2.85"/><circle cx="665.8" cy="165.7" r="2.85"/><circle cx="667.0" cy="159.9" r="2.85"/></g>
<g fill="#62d05e" fill-opacity="0.24" stroke="#62d05e" stroke-opacity="0.22" stroke-width="0.6"><circle cx="84.0" cy="185.8" r="2.85"/><circle cx="85.2" cy="143.8" r="2.85"/><circle cx="87.2" cy="174.0" r="2.85"/><circle cx="88.9" cy="183.0" r="2.85"/><circle cx="90.4" cy="173.8" r="2.85"/><circle cx="91.8" cy="130.3" r="2.85"/><circle cx="93.2" cy="176.8" r="2.85"/><circle cx="95.2" cy="152.0" r="2.85"/><circle cx="96.4" cy="126.5" r="2.85"/><circle cx="98.4" cy="195.0" r="2.85"/><circle cx="100.1" cy="227.8" r="2.85"/><circle cx="101.3" cy="195.0" r="2.85"/><circle cx="102.8" cy="154.4" r="2.85"/><circle cx="104.6" cy="134.4" r="2.85"/><circle cx="106.3" cy="167.5" r="2.85"/><circle cx="107.9" cy="110.2" r="2.85"/><circle cx="109.7" cy="164.5" r="2.85"/><circle cx="111.0" cy="173.3" r="2.85"/><circle cx="112.6" cy="169.6" r="2.85"/><circle cx="114.3" cy="191.7" r="2.85"/><circle cx="116.1" cy="166.5" r="2.85"/><circle cx="117.7" cy="162.9" r="2.85"/><circle cx="120.5" cy="207.2" r="2.85"/><circle cx="122.0" cy="159.6" r="2.85"/><circle cx="124.1" cy="154.0" r="2.85"/><circle cx="125.3" cy="133.2" r="2.85"/><circle cx="127.2" cy="188.0" r="2.85"/><circle cx="128.6" cy="183.0" r="2.85"/><circle cx="130.5" cy="121.6" r="2.85"/><circle cx="132.1" cy="188.5" r="2.85"/><circle cx="133.7" cy="175.3" r="2.85"/><circle cx="135.2" cy="168.2" r="2.85"/><circle cx="136.6" cy="258.1" r="2.85"/><circle cx="138.2" cy="198.3" r="2.85"/><circle cx="140.0" cy="221.4" r="2.85"/><circle cx="141.5" cy="163.9" r="2.85"/><circle cx="143.2" cy="194.7" r="2.85"/><circle cx="144.9" cy="161.2" r="2.85"/><circle cx="146.6" cy="209.8" r="2.85"/><circle cx="148.1" cy="158.8" r="2.85"/><circle cx="149.6" cy="155.2" r="2.85"/><circle cx="151.1" cy="134.9" r="2.85"/><circle cx="152.7" cy="167.0" r="2.85"/><circle cx="154.2" cy="105.2" r="2.85"/><circle cx="155.8" cy="138.8" r="2.85"/><circle cx="157.7" cy="217.0" r="2.85"/><circle cx="159.4" cy="174.5" r="2.85"/><circle cx="160.9" cy="171.5" r="2.85"/><circle cx="162.4" cy="183.4" r="2.85"/><circle cx="163.8" cy="140.7" r="2.85"/><circle cx="165.3" cy="110.7" r="2.85"/><circle cx="167.0" cy="136.1" r="2.85"/><circle cx="169.0" cy="147.0" r="2.85"/><circle cx="170.6" cy="104.7" r="2.85"/><circle cx="171.7" cy="156.2" r="2.85"/><circle cx="173.7" cy="179.8" r="2.85"/><circle cx="175.1" cy="97.0" r="2.85"/><circle cx="176.6" cy="150.0" r="2.85"/><circle cx="178.3" cy="212.5" r="2.85"/><circle cx="180.2" cy="77.0" r="2.85"/><circle cx="181.5" cy="131.7" r="2.85"/><circle cx="183.0" cy="241.8" r="2.85"/><circle cx="185.0" cy="177.5" r="2.85"/><circle cx="186.4" cy="141.3" r="2.85"/><circle cx="188.1" cy="197.3" r="2.85"/><circle cx="191.2" cy="159.6" r="2.85"/><circle cx="192.9" cy="133.4" r="2.85"/><circle cx="194.1" cy="103.8" r="2.85"/><circle cx="195.7" cy="203.6" r="2.85"/><circle cx="197.7" cy="172.3" r="2.85"/><circle cx="199.1" cy="148.2" r="2.85"/><circle cx="201.0" cy="136.6" r="2.85"/><circle cx="202.5" cy="187.6" r="2.85"/><circle cx="203.9" cy="134.1" r="2.85"/><circle cx="205.4" cy="212.4" r="2.85"/><circle cx="207.3" cy="190.2" r="2.85"/><circle cx="208.9" cy="155.6" r="2.85"/><circle cx="210.6" cy="131.9" r="2.85"/><circle cx="211.7" cy="206.1" r="2.85"/><circle cx="213.7" cy="136.8" r="2.85"/><circle cx="215.3" cy="123.8" r="2.85"/><circle cx="216.7" cy="181.1" r="2.85"/><circle cx="218.3" cy="191.2" r="2.85"/><circle cx="220.2" cy="209.4" r="2.85"/><circle cx="221.4" cy="217.5" r="2.85"/><circle cx="223.1" cy="162.8" r="2.85"/><circle cx="224.6" cy="176.8" r="2.85"/><circle cx="226.1" cy="173.8" r="2.85"/><circle cx="228.2" cy="218.9" r="2.85"/><circle cx="229.8" cy="164.5" r="2.85"/><circle cx="231.1" cy="164.7" r="2.85"/><circle cx="232.7" cy="138.3" r="2.85"/><circle cx="235.9" cy="187.6" r="2.85"/><circle cx="237.9" cy="221.3" r="2.85"/><circle cx="239.2" cy="188.1" r="2.85"/><circle cx="241.1" cy="100.4" r="2.85"/><circle cx="242.7" cy="127.1" r="2.85"/><circle cx="244.2" cy="127.2" r="2.85"/><circle cx="245.8" cy="221.4" r="2.85"/><circle cx="249.1" cy="182.6" r="2.85"/><circle cx="250.4" cy="193.1" r="2.85"/><circle cx="252.4" cy="211.0" r="2.85"/><circle cx="253.5" cy="180.9" r="2.85"/><circle cx="255.4" cy="194.6" r="2.85"/><circle cx="256.9" cy="182.3" r="2.85"/><circle cx="258.5" cy="214.9" r="2.85"/><circle cx="260.2" cy="170.0" r="2.85"/><circle cx="261.9" cy="157.3" r="2.85"/><circle cx="263.0" cy="209.7" r="2.85"/><circle cx="265.1" cy="206.6" r="2.85"/><circle cx="268.4" cy="227.2" r="2.85"/><circle cx="271.3" cy="183.0" r="2.85"/><circle cx="273.1" cy="183.2" r="2.85"/><circle cx="274.3" cy="221.7" r="2.85"/><circle cx="275.8" cy="218.4" r="2.85"/><circle cx="279.2" cy="185.0" r="2.85"/><circle cx="280.9" cy="186.9" r="2.85"/><circle cx="284.1" cy="167.4" r="2.85"/><circle cx="285.5" cy="204.7" r="2.85"/><circle cx="287.6" cy="204.9" r="2.85"/><circle cx="289.1" cy="222.1" r="2.85"/><circle cx="291.9" cy="224.9" r="2.85"/><circle cx="294.0" cy="232.1" r="2.85"/><circle cx="295.1" cy="169.8" r="2.85"/><circle cx="297.2" cy="204.8" r="2.85"/><circle cx="298.8" cy="202.1" r="2.85"/><circle cx="300.2" cy="183.0" r="2.85"/><circle cx="303.6" cy="243.7" r="2.85"/><circle cx="305.1" cy="218.9" r="2.85"/><circle cx="306.6" cy="225.1" r="2.85"/><circle cx="308.4" cy="270.4" r="2.85"/><circle cx="309.8" cy="246.3" r="2.85"/><circle cx="311.5" cy="307.2" r="2.85"/><circle cx="313.1" cy="244.7" r="2.85"/><circle cx="314.4" cy="277.1" r="2.85"/><circle cx="316.5" cy="233.7" r="2.85"/><circle cx="317.8" cy="256.5" r="2.85"/><circle cx="319.4" cy="234.0" r="2.85"/><circle cx="321.0" cy="248.7" r="2.85"/><circle cx="322.8" cy="250.3" r="2.85"/><circle cx="324.0" cy="213.6" r="2.85"/><circle cx="325.7" cy="246.5" r="2.85"/><circle cx="327.5" cy="269.1" r="2.85"/><circle cx="328.8" cy="236.3" r="2.85"/><circle cx="330.8" cy="230.1" r="2.85"/><circle cx="332.4" cy="219.9" r="2.85"/><circle cx="334.1" cy="226.6" r="2.85"/><circle cx="335.5" cy="285.0" r="2.85"/><circle cx="338.8" cy="218.1" r="2.85"/><circle cx="340.3" cy="258.9" r="2.85"/><circle cx="341.9" cy="202.7" r="2.85"/><circle cx="343.6" cy="260.9" r="2.85"/><circle cx="345.1" cy="243.1" r="2.85"/><circle cx="346.7" cy="212.7" r="2.85"/><circle cx="348.4" cy="272.5" r="2.85"/><circle cx="350.1" cy="284.9" r="2.85"/><circle cx="351.5" cy="278.7" r="2.85"/><circle cx="352.9" cy="239.0" r="2.85"/><circle cx="354.7" cy="304.6" r="2.85"/><circle cx="356.1" cy="251.5" r="2.85"/><circle cx="357.7" cy="262.9" r="2.85"/><circle cx="359.8" cy="197.8" r="2.85"/><circle cx="362.9" cy="242.5" r="2.85"/><circle cx="364.2" cy="215.2" r="2.85"/><circle cx="365.8" cy="214.5" r="2.85"/><circle cx="367.4" cy="239.6" r="2.85"/><circle cx="368.8" cy="292.7" r="2.85"/><circle cx="370.5" cy="257.4" r="2.85"/><circle cx="372.0" cy="277.3" r="2.85"/><circle cx="375.3" cy="274.7" r="2.85"/><circle cx="377.4" cy="230.7" r="2.85"/><circle cx="378.5" cy="242.0" r="2.85"/><circle cx="380.1" cy="231.5" r="2.85"/><circle cx="383.4" cy="240.6" r="2.85"/><circle cx="385.1" cy="253.8" r="2.85"/><circle cx="388.5" cy="244.2" r="2.85"/><circle cx="389.7" cy="268.5" r="2.85"/><circle cx="391.3" cy="303.8" r="2.85"/><circle cx="393.1" cy="297.8" r="2.85"/><circle cx="394.7" cy="233.6" r="2.85"/><circle cx="396.6" cy="268.8" r="2.85"/><circle cx="398.1" cy="241.1" r="2.85"/><circle cx="399.6" cy="224.2" r="2.85"/><circle cx="401.2" cy="272.3" r="2.85"/><circle cx="402.9" cy="275.5" r="2.85"/><circle cx="404.4" cy="265.5" r="2.85"/><circle cx="406.2" cy="295.5" r="2.85"/><circle cx="407.8" cy="294.1" r="2.85"/><circle cx="409.1" cy="312.1" r="2.85"/><circle cx="410.9" cy="275.8" r="2.85"/><circle cx="412.1" cy="285.7" r="2.85"/><circle cx="413.9" cy="299.1" r="2.85"/><circle cx="415.5" cy="277.3" r="2.85"/><circle cx="417.1" cy="230.3" r="2.85"/><circle cx="420.5" cy="227.9" r="2.85"/><circle cx="422.2" cy="236.1" r="2.85"/><circle cx="423.5" cy="213.2" r="2.85"/><circle cx="425.4" cy="227.2" r="2.85"/><circle cx="426.6" cy="234.2" r="2.85"/><circle cx="428.4" cy="218.6" r="2.85"/><circle cx="431.6" cy="209.1" r="2.85"/><circle cx="433.2" cy="179.5" r="2.85"/><circle cx="434.6" cy="195.4" r="2.85"/><circle cx="436.4" cy="192.7" r="2.85"/><circle cx="438.1" cy="164.5" r="2.85"/><circle cx="439.6" cy="182.2" r="2.85"/><circle cx="441.5" cy="131.9" r="2.85"/><circle cx="442.7" cy="195.0" r="2.85"/><circle cx="444.2" cy="141.7" r="2.85"/><circle cx="445.9" cy="159.8" r="2.85"/><circle cx="447.4" cy="141.5" r="2.85"/><circle cx="449.4" cy="110.1" r="2.85"/><circle cx="450.9" cy="154.6" r="2.85"/><circle cx="452.6" cy="94.4" r="2.85"/><circle cx="454.3" cy="84.4" r="2.85"/><circle cx="455.6" cy="71.4" r="2.85"/><circle cx="457.0" cy="149.7" r="2.85"/><circle cx="458.7" cy="140.5" r="2.85"/><circle cx="460.2" cy="123.4" r="2.85"/><circle cx="462.0" cy="121.3" r="2.85"/><circle cx="463.9" cy="59.2" r="2.85"/><circle cx="468.5" cy="137.9" r="2.85"/><circle cx="471.9" cy="136.0" r="2.85"/><circle cx="473.4" cy="95.7" r="2.85"/><circle cx="474.8" cy="100.0" r="2.85"/><circle cx="476.5" cy="117.8" r="2.85"/><circle cx="477.9" cy="92.7" r="2.85"/><circle cx="479.7" cy="104.7" r="2.85"/><circle cx="481.2" cy="158.6" r="2.85"/><circle cx="482.8" cy="123.5" r="2.85"/><circle cx="484.5" cy="198.6" r="2.85"/><circle cx="485.9" cy="157.0" r="2.85"/><circle cx="487.8" cy="127.9" r="2.85"/><circle cx="489.3" cy="156.6" r="2.85"/><circle cx="490.9" cy="62.6" r="2.85"/><circle cx="492.6" cy="136.3" r="2.85"/><circle cx="494.2" cy="63.4" r="2.85"/><circle cx="497.2" cy="86.7" r="2.85"/><circle cx="498.7" cy="109.7" r="2.85"/><circle cx="500.2" cy="126.8" r="2.85"/><circle cx="502.0" cy="73.8" r="2.85"/><circle cx="503.9" cy="143.3" r="2.85"/><circle cx="505.2" cy="157.3" r="2.85"/><circle cx="506.9" cy="121.2" r="2.85"/><circle cx="508.4" cy="86.8" r="2.85"/><circle cx="510.3" cy="91.9" r="2.85"/><circle cx="511.7" cy="165.2" r="2.85"/><circle cx="513.2" cy="139.9" r="2.85"/><circle cx="515.1" cy="156.9" r="2.85"/><circle cx="516.3" cy="147.9" r="2.85"/><circle cx="517.9" cy="146.0" r="2.85"/><circle cx="520.0" cy="163.2" r="2.85"/><circle cx="521.5" cy="165.5" r="2.85"/><circle cx="522.9" cy="224.0" r="2.85"/><circle cx="524.7" cy="155.9" r="2.85"/><circle cx="526.0" cy="224.7" r="2.85"/><circle cx="527.6" cy="187.5" r="2.85"/><circle cx="530.9" cy="222.7" r="2.85"/><circle cx="532.7" cy="165.2" r="2.85"/><circle cx="537.7" cy="233.5" r="2.85"/><circle cx="538.8" cy="144.1" r="2.85"/><circle cx="540.3" cy="192.9" r="2.85"/><circle cx="544.0" cy="205.3" r="2.85"/><circle cx="545.5" cy="261.6" r="2.85"/><circle cx="547.2" cy="165.7" r="2.85"/><circle cx="548.6" cy="238.1" r="2.85"/><circle cx="551.9" cy="201.8" r="2.85"/><circle cx="553.7" cy="207.5" r="2.85"/><circle cx="555.2" cy="184.6" r="2.85"/><circle cx="556.4" cy="262.3" r="2.85"/><circle cx="558.1" cy="245.2" r="2.85"/><circle cx="560.1" cy="201.7" r="2.85"/><circle cx="561.6" cy="286.5" r="2.85"/><circle cx="563.1" cy="211.1" r="2.85"/><circle cx="564.9" cy="248.0" r="2.85"/><circle cx="566.3" cy="184.7" r="2.85"/><circle cx="569.4" cy="165.8" r="2.85"/><circle cx="571.3" cy="260.6" r="2.85"/><circle cx="572.5" cy="164.3" r="2.85"/><circle cx="574.3" cy="262.9" r="2.85"/><circle cx="576.0" cy="235.6" r="2.85"/><circle cx="577.6" cy="278.1" r="2.85"/><circle cx="580.5" cy="234.2" r="2.85"/><circle cx="582.2" cy="243.0" r="2.85"/><circle cx="583.9" cy="287.8" r="2.85"/><circle cx="585.3" cy="234.3" r="2.85"/><circle cx="587.1" cy="190.0" r="2.85"/><circle cx="588.6" cy="261.6" r="2.85"/><circle cx="590.5" cy="264.9" r="2.85"/><circle cx="592.2" cy="246.4" r="2.85"/><circle cx="593.6" cy="214.4" r="2.85"/><circle cx="595.0" cy="211.9" r="2.85"/><circle cx="596.9" cy="284.0" r="2.85"/><circle cx="598.2" cy="192.4" r="2.85"/><circle cx="599.7" cy="189.0" r="2.85"/><circle cx="603.1" cy="270.3" r="2.85"/><circle cx="604.9" cy="151.7" r="2.85"/><circle cx="606.5" cy="196.6" r="2.85"/><circle cx="608.0" cy="182.4" r="2.85"/><circle cx="609.6" cy="246.3" r="2.85"/><circle cx="610.8" cy="267.2" r="2.85"/><circle cx="612.6" cy="218.8" r="2.85"/><circle cx="614.3" cy="241.8" r="2.85"/><circle cx="615.9" cy="187.0" r="2.85"/><circle cx="617.7" cy="268.0" r="2.85"/><circle cx="618.9" cy="290.8" r="2.85"/><circle cx="620.9" cy="187.9" r="2.85"/><circle cx="622.1" cy="248.9" r="2.85"/><circle cx="624.0" cy="222.5" r="2.85"/><circle cx="625.6" cy="208.5" r="2.85"/><circle cx="626.8" cy="239.5" r="2.85"/><circle cx="629.0" cy="234.8" r="2.85"/><circle cx="630.3" cy="194.9" r="2.85"/><circle cx="632.0" cy="207.5" r="2.85"/><circle cx="633.6" cy="192.6" r="2.85"/><circle cx="635.3" cy="200.2" r="2.85"/><circle cx="636.6" cy="237.5" r="2.85"/><circle cx="638.3" cy="265.3" r="2.85"/><circle cx="640.2" cy="202.9" r="2.85"/><circle cx="641.4" cy="192.4" r="2.85"/><circle cx="643.1" cy="187.9" r="2.85"/><circle cx="644.9" cy="146.5" r="2.85"/><circle cx="646.2" cy="154.0" r="2.85"/><circle cx="648.2" cy="164.5" r="2.85"/><circle cx="649.7" cy="211.7" r="2.85"/><circle cx="651.0" cy="107.0" r="2.85"/><circle cx="652.6" cy="189.8" r="2.85"/><circle cx="654.4" cy="163.0" r="2.85"/><circle cx="655.8" cy="170.4" r="2.85"/><circle cx="657.6" cy="160.4" r="2.85"/><circle cx="659.4" cy="143.0" r="2.85"/><circle cx="661.0" cy="111.6" r="2.85"/><circle cx="662.6" cy="183.5" r="2.85"/><circle cx="665.8" cy="187.2" r="2.85"/></g>
<g fill="#e8be35" fill-opacity="0.24" stroke="#e8be35" stroke-opacity="0.22" stroke-width="0.6"><circle cx="85.4" cy="85.1" r="2.85"/><circle cx="87.3" cy="172.6" r="2.85"/><circle cx="88.7" cy="150.2" r="2.85"/><circle cx="91.7" cy="146.0" r="2.85"/><circle cx="93.2" cy="189.4" r="2.85"/><circle cx="94.9" cy="226.6" r="2.85"/><circle cx="96.3" cy="168.0" r="2.85"/><circle cx="99.9" cy="184.3" r="2.85"/><circle cx="101.5" cy="196.4" r="2.85"/><circle cx="103.1" cy="187.9" r="2.85"/><circle cx="106.1" cy="154.8" r="2.85"/><circle cx="108.0" cy="125.1" r="2.85"/><circle cx="109.4" cy="147.8" r="2.85"/><circle cx="111.0" cy="164.2" r="2.85"/><circle cx="112.5" cy="140.9" r="2.85"/><circle cx="114.1" cy="192.3" r="2.85"/><circle cx="115.6" cy="199.8" r="2.85"/><circle cx="117.4" cy="133.8" r="2.85"/><circle cx="120.9" cy="141.0" r="2.85"/><circle cx="122.4" cy="189.1" r="2.85"/><circle cx="123.9" cy="145.4" r="2.85"/><circle cx="125.4" cy="154.0" r="2.85"/><circle cx="127.3" cy="196.1" r="2.85"/><circle cx="128.5" cy="181.9" r="2.85"/><circle cx="130.4" cy="195.8" r="2.85"/><circle cx="131.7" cy="194.7" r="2.85"/><circle cx="133.3" cy="170.9" r="2.85"/><circle cx="134.8" cy="174.8" r="2.85"/><circle cx="136.6" cy="220.9" r="2.85"/><circle cx="138.5" cy="208.6" r="2.85"/><circle cx="140.2" cy="199.5" r="2.85"/><circle cx="141.6" cy="181.3" r="2.85"/><circle cx="143.2" cy="168.7" r="2.85"/><circle cx="144.7" cy="168.9" r="2.85"/><circle cx="146.4" cy="131.5" r="2.85"/><circle cx="147.7" cy="137.7" r="2.85"/><circle cx="149.5" cy="158.1" r="2.85"/><circle cx="151.4" cy="191.1" r="2.85"/><circle cx="152.9" cy="135.9" r="2.85"/><circle cx="154.2" cy="184.6" r="2.85"/><circle cx="155.9" cy="154.8" r="2.85"/><circle cx="157.8" cy="125.7" r="2.85"/><circle cx="159.0" cy="50.0" r="2.85"/><circle cx="160.4" cy="125.5" r="2.85"/><circle cx="162.4" cy="121.5" r="2.85"/><circle cx="163.7" cy="109.5" r="2.85"/><circle cx="165.4" cy="150.6" r="2.85"/><circle cx="167.1" cy="173.2" r="2.85"/><circle cx="168.6" cy="141.2" r="2.85"/><circle cx="170.4" cy="109.3" r="2.85"/><circle cx="172.0" cy="142.1" r="2.85"/><circle cx="177.0" cy="156.7" r="2.85"/><circle cx="178.5" cy="212.6" r="2.85"/><circle cx="180.1" cy="117.0" r="2.85"/><circle cx="181.4" cy="184.9" r="2.85"/><circle cx="182.9" cy="197.8" r="2.85"/><circle cx="184.8" cy="169.2" r="2.85"/><circle cx="186.3" cy="210.7" r="2.85"/><circle cx="187.9" cy="240.2" r="2.85"/><circle cx="191.0" cy="199.7" r="2.85"/><circle cx="192.6" cy="144.3" r="2.85"/><circle cx="194.2" cy="152.4" r="2.85"/><circle cx="197.7" cy="119.6" r="2.85"/><circle cx="199.1" cy="216.5" r="2.85"/><circle cx="200.9" cy="178.3" r="2.85"/><circle cx="202.2" cy="150.1" r="2.85"/><circle cx="205.8" cy="137.0" r="2.85"/><circle cx="207.5" cy="166.6" r="2.85"/><circle cx="208.9" cy="184.1" r="2.85"/><circle cx="210.1" cy="99.9" r="2.85"/><circle cx="211.9" cy="127.4" r="2.85"/><circle cx="213.4" cy="151.2" r="2.85"/><circle cx="215.0" cy="202.6" r="2.85"/><circle cx="217.0" cy="181.6" r="2.85"/><circle cx="218.4" cy="241.7" r="2.85"/><circle cx="220.1" cy="195.1" r="2.85"/><circle cx="221.5" cy="237.5" r="2.85"/><circle cx="223.0" cy="191.8" r="2.85"/><circle cx="224.8" cy="207.5" r="2.85"/><circle cx="226.2" cy="160.7" r="2.85"/><circle cx="227.8" cy="161.3" r="2.85"/><circle cx="229.7" cy="179.1" r="2.85"/><circle cx="231.3" cy="213.5" r="2.85"/><circle cx="233.0" cy="177.0" r="2.85"/><circle cx="236.2" cy="178.0" r="2.85"/><circle cx="239.3" cy="196.4" r="2.85"/><circle cx="241.2" cy="184.7" r="2.85"/><circle cx="242.5" cy="202.8" r="2.85"/><circle cx="244.3" cy="205.7" r="2.85"/><circle cx="245.7" cy="210.3" r="2.85"/><circle cx="247.5" cy="301.4" r="2.85"/><circle cx="248.9" cy="184.9" r="2.85"/><circle cx="250.6" cy="215.1" r="2.85"/><circle cx="252.0" cy="222.7" r="2.85"/><circle cx="254.0" cy="155.3" r="2.85"/><circle cx="255.1" cy="238.1" r="2.85"/><circle cx="256.9" cy="216.1" r="2.85"/><circle cx="258.6" cy="164.7" r="2.85"/><circle cx="260.2" cy="183.2" r="2.85"/><circle cx="261.9" cy="166.9" r="2.85"/><circle cx="263.5" cy="210.0" r="2.85"/><circle cx="266.7" cy="205.3" r="2.85"/><circle cx="268.4" cy="193.5" r="2.85"/><circle cx="269.6" cy="184.2" r="2.85"/><circle cx="271.5" cy="194.0" r="2.85"/><circle cx="273.0" cy="217.7" r="2.85"/><circle cx="274.7" cy="174.2" r="2.85"/><circle cx="276.3" cy="187.9" r="2.85"/><circle cx="279.4" cy="182.8" r="2.85"/><circle cx="280.7" cy="212.7" r="2.85"/><circle cx="282.5" cy="213.1" r="2.85"/><circle cx="283.9" cy="254.1" r="2.85"/><circle cx="285.9" cy="278.6" r="2.85"/><circle cx="287.6" cy="280.6" r="2.85"/><circle cx="288.8" cy="262.0" r="2.85"/><circle cx="290.4" cy="263.4" r="2.85"/><circle cx="292.3" cy="246.2" r="2.85"/><circle cx="293.5" cy="299.3" r="2.85"/><circle cx="295.5" cy="226.9" r="2.85"/><circle cx="296.9" cy="263.0" r="2.85"/><circle cx="298.7" cy="248.5" r="2.85"/><circle cx="300.0" cy="196.7" r="2.85"/><circle cx="301.7" cy="227.3" r="2.85"/><circle cx="303.2" cy="257.0" r="2.85"/><circle cx="305.2" cy="230.6" r="2.85"/><circle cx="306.8" cy="222.0" r="2.85"/><circle cx="307.9" cy="218.8" r="2.85"/><circle cx="309.8" cy="226.1" r="2.85"/><circle cx="311.2" cy="183.4" r="2.85"/><circle cx="313.2" cy="222.2" r="2.85"/><circle cx="314.3" cy="258.2" r="2.85"/><circle cx="316.3" cy="237.4" r="2.85"/><circle cx="317.6" cy="243.8" r="2.85"/><circle cx="319.7" cy="228.4" r="2.85"/><circle cx="322.6" cy="231.8" r="2.85"/><circle cx="324.0" cy="267.1" r="2.85"/><circle cx="325.9" cy="250.7" r="2.85"/><circle cx="327.6" cy="296.4" r="2.85"/><circle cx="329.3" cy="282.7" r="2.85"/><circle cx="330.7" cy="259.8" r="2.85"/><circle cx="332.0" cy="196.3" r="2.85"/><circle cx="333.9" cy="251.2" r="2.85"/><circle cx="335.7" cy="272.6" r="2.85"/><circle cx="340.4" cy="315.0" r="2.85"/><circle cx="341.9" cy="297.7" r="2.85"/><circle cx="343.3" cy="277.1" r="2.85"/><circle cx="344.9" cy="281.7" r="2.85"/><circle cx="348.4" cy="260.2" r="2.85"/><circle cx="349.8" cy="289.1" r="2.85"/><circle cx="351.6" cy="278.4" r="2.85"/><circle cx="353.1" cy="246.7" r="2.85"/><circle cx="354.6" cy="276.8" r="2.85"/><circle cx="356.2" cy="281.4" r="2.85"/><circle cx="358.0" cy="257.8" r="2.85"/><circle cx="359.3" cy="287.1" r="2.85"/><circle cx="362.9" cy="259.1" r="2.85"/><circle cx="364.4" cy="250.0" r="2.85"/><circle cx="365.6" cy="288.5" r="2.85"/><circle cx="367.8" cy="255.8" r="2.85"/><circle cx="368.9" cy="271.0" r="2.85"/><circle cx="370.4" cy="278.5" r="2.85"/><circle cx="372.1" cy="226.4" r="2.85"/><circle cx="373.7" cy="268.6" r="2.85"/><circle cx="375.8" cy="247.2" r="2.85"/><circle cx="377.2" cy="294.2" r="2.85"/><circle cx="379.0" cy="311.0" r="2.85"/><circle cx="380.0" cy="265.0" r="2.85"/><circle cx="381.8" cy="267.2" r="2.85"/><circle cx="383.3" cy="253.2" r="2.85"/><circle cx="385.1" cy="306.9" r="2.85"/><circle cx="386.8" cy="281.0" r="2.85"/><circle cx="388.2" cy="277.2" r="2.85"/><circle cx="389.8" cy="283.2" r="2.85"/><circle cx="393.1" cy="276.4" r="2.85"/><circle cx="394.5" cy="189.8" r="2.85"/><circle cx="396.4" cy="237.8" r="2.85"/><circle cx="397.8" cy="246.5" r="2.85"/><circle cx="399.6" cy="202.1" r="2.85"/><circle cx="400.9" cy="261.2" r="2.85"/><circle cx="402.7" cy="219.6" r="2.85"/><circle cx="404.2" cy="211.7" r="2.85"/><circle cx="406.0" cy="194.3" r="2.85"/><circle cx="407.7" cy="200.6" r="2.85"/><circle cx="408.9" cy="246.6" r="2.85"/><circle cx="410.9" cy="213.5" r="2.85"/><circle cx="412.1" cy="255.2" r="2.85"/><circle cx="414.1" cy="228.9" r="2.85"/><circle cx="415.5" cy="204.1" r="2.85"/><circle cx="417.1" cy="155.1" r="2.85"/><circle cx="418.9" cy="176.8" r="2.85"/><circle cx="420.5" cy="196.6" r="2.85"/><circle cx="423.6" cy="182.0" r="2.85"/><circle cx="425.0" cy="181.7" r="2.85"/><circle cx="426.6" cy="216.5" r="2.85"/><circle cx="428.5" cy="198.6" r="2.85"/><circle cx="431.8" cy="147.2" r="2.85"/><circle cx="433.2" cy="179.6" r="2.85"/><circle cx="434.6" cy="151.5" r="2.85"/><circle cx="436.3" cy="131.9" r="2.85"/><circle cx="438.3" cy="162.7" r="2.85"/><circle cx="439.6" cy="130.9" r="2.85"/><circle cx="441.1" cy="134.1" r="2.85"/><circle cx="442.7" cy="176.6" r="2.85"/><circle cx="444.3" cy="144.8" r="2.85"/><circle cx="445.9" cy="104.5" r="2.85"/><circle cx="447.6" cy="134.1" r="2.85"/><circle cx="449.0" cy="80.9" r="2.85"/><circle cx="450.6" cy="176.2" r="2.85"/><circle cx="455.4" cy="143.9" r="2.85"/><circle cx="457.2" cy="177.0" r="2.85"/><circle cx="458.8" cy="151.5" r="2.85"/><circle cx="460.4" cy="156.4" r="2.85"/><circle cx="461.9" cy="143.6" r="2.85"/><circle cx="463.7" cy="149.0" r="2.85"/><circle cx="465.0" cy="210.1" r="2.85"/><circle cx="466.6" cy="165.1" r="2.85"/><circle cx="468.4" cy="259.2" r="2.85"/><circle cx="471.6" cy="155.3" r="2.85"/><circle cx="473.4" cy="181.2" r="2.85"/><circle cx="474.8" cy="145.3" r="2.85"/><circle cx="476.6" cy="99.8" r="2.85"/><circle cx="478.3" cy="131.8" r="2.85"/><circle cx="479.8" cy="182.9" r="2.85"/><circle cx="481.3" cy="137.5" r="2.85"/><circle cx="483.0" cy="201.8" r="2.85"/><circle cx="484.5" cy="157.4" r="2.85"/><circle cx="486.3" cy="101.2" r="2.85"/><circle cx="489.3" cy="119.4" r="2.85"/><circle cx="491.0" cy="50.6" r="2.85"/><circle cx="492.7" cy="124.3" r="2.85"/><circle cx="493.9" cy="118.0" r="2.85"/><circle cx="495.9" cy="109.2" r="2.85"/><circle cx="497.4" cy="57.2" r="2.85"/></g>
<path d="M466.9 101.8 L469.4 108.5 L471.9 113.6 L475.2 111.9 L477.7 106.9 L480.3 105.2 L488.6 101.8 L491.1 95.1 L494.5 95.1 L497.0 96.8 L499.5 101.8 L501.2 111.9 L502.9 125.3 L504.5 133.7 L506.2 125.3 L507.1 117.7 L513.8 117.7 L516.3 113.6 L518.8 103.5 L521.3 93.5 L524.8 93.4 L527.7 103.9 L531.5 103.9 L533.4 114.5 L535.3 126.0 L537.2 133.6 L539.2 143.2 L540.1 150.9 L542.0 162.4 L543.9 172.0 L545.9 181.5 L547.8 189.2 L549.7 194.9 L551.6 206.4 L553.5 219.8 L555.4 231.3 L558.3 239.0 L561.2 237.1 L564.1 231.3 L566.9 225.6 L570.0 220.5 L573.4 230.6 L575.0 223.9 L577.5 213.8 L580.1 207.1 L583.4 205.4 L590.9 205.4 L595.1 203.8 L599.3 202.1 L602.7 198.7 L606.0 195.4 L609.4 190.4 L611.9 185.3 L615.2 187.0 L617.7 183.7 L619.4 177.0 L621.1 171.9 L623.6 168.6 L626.1 163.6 L627.8 158.5 L630.3 158.5 L632.8 161.9 L635.3 158.5 L637.8 158.5 L640.4 163.6 L643.7 165.2 L647.1 166.9 L650.4 165.2 L653.8 165.2 L656.3 170.3 L657.9 178.6 L660.5 175.3 L663.0 170.3 L665.5 165.2" fill="none" stroke="#3b0f5e" stroke-width="2.8" stroke-linejoin="round" stroke-linecap="round"/>
<path d="M82.3 189.3 L87.8 205.6 L94.0 187.0 L100.2 186.2 L101.8 175.3 L105.7 161.3 L111.1 141.1 L121.2 141.1 L124.3 142.7 L126.7 141.9 L136.0 141.9 L141.4 161.3 L145.3 161.3 L148.4 183.1 L153.1 189.3 L156.2 194.8 L160.1 191.6 L163.2 192.4 L167.1 200.2 L171.8 212.6 L176.6 228.9 L178.1 235.1 L182.8 236.6 L187.4 241.3 L190.6 238.2 L193.7 235.1 L195.2 219.5 L198.3 183.8 L199.9 182.2 L202.2 172.9 L203.8 182.2 L208.4 182.2 L210.8 182.2 L213.1 200.9 L215.4 219.5 L217.8 222.6 L220.1 228.9 L223.2 232.0 L226.3 235.9 L228.7 232.0 L231.0 232.8 L232.5 232.0 L234.1 219.5 L235.7 210.2 L237.2 202.4 L241.9 202.4 L243.4 200.9 L245.0 188.4 L247.3 172.9 L249.7 172.1 L252.0 165.1 L253.5 158.1 L255.1 159.7 L256.6 169.8 L259.8 174.4 L263.6 178.3 L266.8 180.7 L269.9 188.4 L271.4 204.0 L273.1 213.5 L276.2 224.4 L279.3 229.1 L282.4 232.2 L285.6 233.8 L287.1 226.0 L289.4 224.4 L291.8 219.8 L294.1 219.8 L295.7 222.9 L298.0 226.0 L300.3 241.5 L302.7 244.7 L305.8 244.7 L308.1 246.2 L310.4 250.9 L312.8 252.4 L315.1 252.4 L318.2 250.9 L321.3 247.8 L326.0 247.8 L329.1 249.3 L332.2 247.8 L336.9 247.8 L341.5 246.2 L344.7 243.1 L347.8 243.1 L350.9 240.0 L354.0 238.4 L357.1 238.4 L360.2 235.3 L363.3 232.2 L365.0 228.0 L367.5 215.3 L370.0 203.6 L372.5 204.4 L375.0 211.9 L377.6 213.6 L380.1 213.6 L381.8 222.0 L384.3 227.0 L385.9 238.7 L387.6 243.8 L389.3 257.2 L391.0 260.5 L392.6 258.8 L394.3 253.8 L396.8 240.4 L398.5 227.0 L401.0 206.9 L403.5 195.2 L406.0 193.5 L409.4 193.5 L411.9 191.8 L413.6 190.2 L415.3 191.8 L417.8 196.9 L420.3 203.6 L422.8 215.3 L425.3 222.0 L427.0 223.7 L429.5 222.0 L431.2 210.3 L432.8 200.2 L435.4 198.5 L438.7 190.2 L441.2 183.5 L444.6 183.5 L448.4 178.9 L451.8 175.5 L454.3 168.8 L457.6 167.2 L461.0 165.5 L463.5 160.5 L466.9 157.9 L470.2 160.5 L472.7 165.5 L475.2 167.2 L476.9 173.9 L478.6 183.9 L481.9 185.6 L485.3 187.3 L487.8 188.1 L491.1 185.6 L494.5 182.2 L497.8 178.9 L501.2 177.2 L503.7 170.5 L506.2 168.8 L508.7 172.2 L512.1 173.9 L514.6 180.6 L517.1 177.2 L519.6 173.9 L522.1 172.2 L525.5 170.5 L529.0 170.0 L531.5 172.0 L533.4 166.2 L536.3 160.5 L540.1 156.6 L543.0 158.5 L544.9 164.3 L548.7 175.8 L550.7 183.4 L553.5 170.0 L555.4 158.5 L558.3 156.6 L560.2 164.3 L562.1 179.6 L564.1 191.1 L566.0 202.6 L567.9 196.9 L570.8 191.1 L573.4 185.3 L575.0 183.7 L577.5 192.0 L580.1 198.7 L582.6 210.5 L585.1 220.5 L588.4 228.9 L591.8 230.6 L595.1 233.9 L598.5 234.7 L602.7 233.9 L605.2 230.6 L608.5 220.5 L611.9 213.8 L614.4 207.1 L615.2 197.1 L618.6 193.7 L620.3 188.7 L623.6 187.0 L627.0 188.7 L630.3 189.5 L635.3 190.4 L638.7 195.4 L642.0 198.7 L645.4 205.4 L648.7 207.1 L651.2 198.7 L653.8 192.0 L657.1 187.0 L660.5 185.3 L663.0 180.3 L664.6 166.9" fill="none" stroke="#36529c" stroke-width="2.8" stroke-linejoin="round" stroke-linecap="round"/>
<path d="M82.3 168.3 L87.8 161.3 L94.0 159.8 L100.2 156.7 L105.7 153.5 L108.8 148.9 L111.1 155.1 L115.8 158.2 L120.4 161.3 L125.1 167.5 L129.8 169.1 L133.7 172.2 L136.0 178.4 L139.1 172.2 L142.2 169.1 L146.9 164.4 L151.5 152.0 L156.2 141.1 L159.3 142.7 L162.4 145.8 L167.1 152.0 L171.8 159.8 L175.0 166.0 L179.7 168.2 L183.6 160.4 L189.0 157.3 L192.1 158.9 L196.0 163.5 L203.0 163.5 L206.1 164.3 L209.2 169.8 L211.5 177.5 L213.1 176.0 L214.7 157.3 L217.8 157.3 L221.7 155.8 L226.3 157.3 L228.7 158.9 L231.0 155.8 L234.1 149.5 L236.4 160.4 L240.3 163.5 L244.2 166.7 L248.1 166.7 L251.2 171.3 L255.9 176.0 L259.8 178.3 L264.4 179.1 L267.5 185.3 L269.9 194.6 L273.1 202.7 L276.2 199.5 L279.3 199.5 L282.4 201.1 L284.8 193.3 L287.1 201.1 L290.2 202.7 L293.3 202.7 L294.9 212.0 L296.4 193.3 L298.8 199.5 L301.1 210.4 L302.7 227.5 L304.2 235.3 L305.8 243.1 L308.1 252.4 L311.2 255.5 L313.5 254.0 L315.9 238.4 L319.8 238.4 L322.9 241.5 L324.4 235.3 L327.5 236.9 L330.7 235.3 L333.8 232.2 L336.9 230.7 L339.2 233.8 L341.5 241.5 L344.7 246.2 L347.0 250.9 L348.5 263.3 L350.1 269.5 L351.6 263.3 L354.0 260.2 L357.1 260.2 L358.6 269.5 L360.2 261.8 L363.3 254.0 L366.7 248.8 L370.9 248.8 L373.4 258.8 L375.9 270.6 L378.4 271.4 L381.8 268.9 L384.3 263.9 L386.8 262.2 L388.5 273.9 L391.0 275.6 L394.3 275.6 L396.8 262.2 L398.5 260.5 L401.0 270.6 L404.4 277.3 L407.7 278.9 L411.9 278.9 L414.4 275.6 L416.1 253.8 L418.6 240.4 L421.1 233.7 L422.8 227.0 L424.5 217.0 L427.0 208.6 L430.3 205.2 L433.7 205.2 L435.0 204.0 L437.5 187.3 L440.1 167.2 L442.6 157.1 L445.1 147.1 L447.6 137.0 L450.1 123.6 L451.8 110.2 L454.3 105.2 L458.5 104.3 L463.5 103.5 L466.0 100.2 L469.4 101.0 L471.9 98.5 L474.4 103.5 L476.9 105.2 L480.3 110.2 L482.8 105.2 L484.4 102.7 L487.0 103.5 L489.5 113.6 L492.8 118.6 L495.3 115.2 L497.8 108.5 L499.5 105.2 L501.2 113.6 L503.7 116.9 L507.1 120.3 L510.4 120.3 L512.9 125.3 L515.4 140.4 L517.9 145.4 L520.0 156.6 L522.9 166.2 L525.7 183.4 L528.6 168.1 L531.5 164.3 L534.4 170.0 L536.3 189.2 L538.2 204.5 L540.1 216.0 L545.9 217.9 L547.8 202.6 L549.7 200.7 L551.6 216.0 L554.5 219.8 L557.4 219.8 L560.2 210.3 L562.1 200.7 L565.0 214.1 L566.9 206.4 L574.2 205.4 L576.7 220.5 L578.4 233.9 L581.7 245.6 L585.1 245.6 L586.8 238.9 L589.3 240.6 L592.6 238.9 L594.3 228.9 L596.0 220.5 L599.3 215.5 L602.7 213.8 L606.0 213.8 L609.4 217.2 L611.9 215.5 L614.4 213.8 L617.7 216.3 L621.9 217.2 L627.0 217.2 L631.1 216.3 L632.8 211.3 L637.0 210.5 L638.7 207.1 L641.2 198.7 L643.7 183.7 L645.4 170.3 L647.1 161.9 L650.4 158.5 L653.8 158.5 L656.3 161.9 L658.8 165.2 L661.3 163.6 L664.6 165.2 L666.3 167.7" fill="none" stroke="#62d05e" stroke-width="2.8" stroke-linejoin="round" stroke-linecap="round"/>
<path d="M82.3 176.1 L95.6 176.9 L100.2 172.2 L102.6 167.5 L105.7 169.9 L108.8 159.8 L111.1 155.1 L115.8 153.5 L118.9 161.3 L121.2 169.9 L123.5 161.3 L126.7 156.7 L129.8 164.4 L132.9 165.2 L136.0 172.2 L139.1 175.3 L142.2 176.9 L146.9 178.4 L151.5 180.0 L156.2 181.5 L159.3 186.2 L162.4 184.6 L164.8 176.9 L165.5 161.3 L167.1 152.0 L171.8 151.2 L173.3 156.7 L175.0 157.3 L184.3 156.5 L190.6 153.4 L194.4 153.4 L196.8 140.2 L198.3 143.3 L199.9 151.1 L203.0 148.0 L206.1 148.0 L208.4 155.8 L212.3 160.4 L217.0 162.0 L220.1 163.5 L221.7 171.3 L223.2 185.3 L226.3 190.0 L229.4 196.2 L232.5 202.4 L234.9 207.1 L237.2 210.2 L240.3 216.4 L243.4 213.3 L246.5 208.6 L249.7 200.9 L252.8 196.2 L255.9 196.2 L259.0 197.8 L261.3 200.9 L263.6 207.1 L266.0 213.3 L268.3 218.0 L270.0 219.8 L273.1 221.3 L276.2 229.1 L278.6 235.3 L280.9 236.9 L283.2 241.5 L285.6 244.7 L288.7 246.2 L291.0 254.0 L292.6 263.3 L294.9 269.5 L298.0 271.1 L301.1 269.5 L303.4 261.8 L305.0 261.8 L307.3 269.5 L310.4 274.2 L312.0 280.4 L313.5 278.9 L315.1 266.4 L316.7 250.9 L318.2 240.0 L320.5 230.7 L323.7 227.5 L326.8 229.1 L329.9 230.7 L332.2 233.8 L335.3 235.3 L338.4 238.4 L341.5 241.5 L344.7 241.5 L347.8 240.0 L350.9 238.4 L354.0 240.0 L357.1 241.5 L360.2 241.5 L363.3 244.7 L365.0 257.2 L368.4 260.5 L373.4 263.9 L378.4 265.5 L383.4 267.2 L388.5 268.9 L393.5 269.7 L398.5 269.7 L403.5 268.9 L406.9 260.5 L409.4 248.8 L411.1 233.7 L412.7 210.3 L414.4 200.2 L416.9 198.5 L418.6 196.9 L420.3 188.5 L422.8 178.4 L424.5 175.9 L427.8 175.9 L429.5 190.2 L431.2 201.9 L433.4 204.0 L436.7 202.3 L440.0 197.3 L442.6 188.9 L445.1 202.3 L448.4 204.0 L450.9 199.0" fill="none" stroke="#cd2228" stroke-width="4.2" stroke-linejoin="round" stroke-linecap="round"/>
<path d="M506.2 158.8 L507.9 163.8 L508.7 178.9 L511.2 178.9 L512.9 167.2 L515.4 165.5 L517.9 166.3 L520.0 173.9 L521.9 152.8 L523.8 135.6 L525.7 129.8 L531.5 129.8 L534.4 137.5 L537.2 143.2 L539.2 160.5 L541.1 172.0 L543.9 177.7 L545.9 187.3 L548.7 196.9 L551.6 196.9 L554.5 183.4 L557.4 170.0 L560.2 179.6 L562.1 189.2 L565.0 187.3 L566.9 172.0 L568.9 156.6 L570.8 139.4 L572.7 133.6 L575.6 132.7 L577.5 147.0 L579.2 158.5 L580.3 168.0 L585.1 169.4 L586.8 173.6 L588.4 187.0 L590.1 198.7 L592.6 203.8 L594.3 213.8 L596.0 220.5 L598.5 223.9 L602.7 223.9 L606.0 227.2 L607.7 228.9 L610.2 225.5 L612.7 222.2 L616.1 220.5 L620.3 220.5 L625.3 218.8 L627.8 210.5 L629.5 203.8 L632.8 200.4 L635.3 193.7 L637.8 187.0 L640.4 180.3 L642.0 170.3 L643.7 166.9 L650.4 166.9 L653.8 168.6 L657.1 170.3 L660.5 173.6 L663.8 178.6 L666.3 187.0 L667.2 187.8" fill="none" stroke="#cd2228" stroke-width="4.2" stroke-linejoin="round" stroke-linecap="round"/>
<path d="M82.3 155.1 L84.7 152.0 L87.8 158.2 L90.9 166.0 L94.0 172.2 L97.1 169.9 L100.2 170.6 L103.3 180.0 L106.4 178.4 L109.5 164.4 L111.9 153.5 L114.2 151.2 L118.9 152.0 L121.2 164.4 L122.8 183.1 L124.3 167.5 L126.7 153.5 L129.8 164.4 L132.9 178.4 L135.2 181.5 L138.3 195.5 L140.7 186.2 L142.2 169.1 L144.5 136.4 L146.9 152.0 L149.2 164.4 L151.5 180.0 L153.9 156.7 L155.4 136.4 L157.8 134.9 L160.1 137.2 L162.4 129.4 L164.8 130.2 L167.1 141.1 L169.4 147.3 L171.8 161.3 L174.9 158.2 L176.0 167.0 L178.1 174.4 L181.2 186.9 L184.3 192.3 L187.4 192.3 L190.6 185.3 L192.9 172.9 L195.2 158.9 L197.6 163.5 L199.9 160.4 L203.0 143.3 L205.3 129.3 L207.7 126.2 L209.2 130.9 L211.5 141.8 L213.9 157.3 L216.2 174.4 L217.8 182.2 L220.1 182.2 L223.2 185.3 L227.9 185.3 L231.0 182.2 L234.1 180.7 L240.3 181.4 L243.4 183.8 L246.5 185.3 L248.9 186.9 L250.4 197.8 L252.0 207.1 L254.3 213.3 L255.9 219.5 L257.4 210.2 L259.0 194.6 L262.1 193.1 L268.3 193.1 L273.1 193.3 L276.2 204.2 L279.3 205.8 L280.9 215.1 L282.4 227.5 L284.0 241.5 L285.6 252.4 L287.1 247.8 L290.2 246.2 L293.3 246.2 L296.4 243.1 L304.2 243.1 L307.3 238.4 L310.4 238.4 L312.8 243.1 L315.1 250.9 L318.2 254.0 L321.3 254.0 L324.4 252.4 L327.5 257.1 L330.7 261.8 L333.8 261.8 L336.1 260.2 L338.4 266.4 L340.0 274.2 L342.3 277.3 L347.8 277.3 L352.4 275.8 L355.5 272.6 L360.2 272.6 L363.3 271.1 L371.7 270.6 L376.7 272.2 L381.8 272.2 L385.1 267.2 L388.5 263.9 L391.8 262.2 L393.5 248.8 L395.2 233.7 L397.7 230.4 L400.2 228.7 L402.7 225.3 L406.0 223.7 L409.4 227.0 L411.9 227.0 L413.6 223.7 L415.3 223.7 L416.9 210.3 L418.6 193.5 L420.3 190.2 L422.0 200.2 L423.6 206.9 L427.0 206.9 L428.7 193.5 L430.3 173.4 L432.5 163.8 L435.0 150.4 L437.5 138.7 L439.2 127.8 L440.9 130.3 L442.6 142.0 L444.2 133.7 L445.9 121.9 L447.6 120.3 L449.3 125.3 L450.9 137.0 L452.6 157.1 L453.5 170.5 L456.0 173.9 L459.3 175.5 L462.7 173.9 L466.0 170.5 L471.0 170.5 L473.6 168.8 L475.2 145.4 L476.9 133.7 L478.6 120.3 L479.4 113.6 L481.9 111.9 L484.4 108.5 L487.0 101.8 L488.6 101.0 L490.3 105.2 L492.8 105.2 L495.3 100.2 L498.7 99.3" fill="none" stroke="#e8be35" stroke-width="2.8" stroke-linejoin="round" stroke-linecap="round"/>
<path d="M83.0 10.5 V332.2 H668.0" fill="none" stroke="#8c8c8c" stroke-width="1.6"/>
<line x1="83.00" y1="332.2" x2="83.00" y2="326.2" stroke="#8c8c8c" stroke-width="1.3"/>
<line x1="132.68" y1="332.2" x2="132.68" y2="326.2" stroke="#8c8c8c" stroke-width="1.3"/>
<line x1="177.56" y1="332.2" x2="177.56" y2="326.2" stroke="#8c8c8c" stroke-width="1.3"/>
<line x1="227.25" y1="332.2" x2="227.25" y2="326.2" stroke="#8c8c8c" stroke-width="1.3"/>
<line x1="275.33" y1="332.2" x2="275.33" y2="326.2" stroke="#8c8c8c" stroke-width="1.3"/>
<line x1="325.01" y1="332.2" x2="325.01" y2="326.2" stroke="#8c8c8c" stroke-width="1.3"/>
<line x1="373.10" y1="332.2" x2="373.10" y2="326.2" stroke="#8c8c8c" stroke-width="1.3"/>
<line x1="422.78" y1="332.2" x2="422.78" y2="326.2" stroke="#8c8c8c" stroke-width="1.3"/>
<line x1="472.47" y1="332.2" x2="472.47" y2="326.2" stroke="#8c8c8c" stroke-width="1.3"/>
<line x1="520.55" y1="332.2" x2="520.55" y2="326.2" stroke="#8c8c8c" stroke-width="1.3"/>
<line x1="570.23" y1="332.2" x2="570.23" y2="326.2" stroke="#8c8c8c" stroke-width="1.3"/>
<line x1="618.32" y1="332.2" x2="618.32" y2="326.2" stroke="#8c8c8c" stroke-width="1.3"/>
<line x1="668.00" y1="332.2" x2="668.00" y2="326.2" stroke="#8c8c8c" stroke-width="1.3"/>
<line x1="83.0" y1="332.20" x2="89.0" y2="332.20" stroke="#8c8c8c" stroke-width="1.3"/>
<text x="75.0" y="341.60" font-size="23" text-anchor="end">75</text>
<line x1="83.0" y1="278.58" x2="89.0" y2="278.58" stroke="#8c8c8c" stroke-width="1.3"/>
<text x="75.0" y="287.98" font-size="23" text-anchor="end">80</text>
<line x1="83.0" y1="224.97" x2="89.0" y2="224.97" stroke="#8c8c8c" stroke-width="1.3"/>
<text x="75.0" y="234.37" font-size="23" text-anchor="end">85</text>
<line x1="83.0" y1="171.35" x2="89.0" y2="171.35" stroke="#8c8c8c" stroke-width="1.3"/>
<text x="75.0" y="180.75" font-size="23" text-anchor="end">90</text>
<line x1="83.0" y1="117.73" x2="89.0" y2="117.73" stroke="#8c8c8c" stroke-width="1.3"/>
<text x="75.0" y="127.13" font-size="23" text-anchor="end">95</text>
<line x1="83.0" y1="64.12" x2="89.0" y2="64.12" stroke="#8c8c8c" stroke-width="1.3"/>
<text x="75.0" y="73.52" font-size="23" text-anchor="end">100</text>
<line x1="83.0" y1="10.50" x2="89.0" y2="10.50" stroke="#8c8c8c" stroke-width="1.3"/>
<text x="75.0" y="19.90" font-size="23" text-anchor="end">105</text>
<text transform="translate(98.60,356.0) rotate(-45)" font-size="23.6" text-anchor="end">Jan</text>
<text transform="translate(148.28,356.0) rotate(-45)" font-size="23.6" text-anchor="end">Feb</text>
<text transform="translate(193.16,356.0) rotate(-45)" font-size="23.6" text-anchor="end">Mar</text>
<text transform="translate(242.85,356.0) rotate(-45)" font-size="23.6" text-anchor="end">Apr</text>
<text transform="translate(290.93,356.0) rotate(-45)" font-size="23.6" text-anchor="end">May</text>
<text transform="translate(340.61,356.0) rotate(-45)" font-size="23.6" text-anchor="end">Jun</text>
<text transform="translate(388.70,356.0) rotate(-45)" font-size="23.6" text-anchor="end">Jul</text>
<text transform="translate(438.38,356.0) rotate(-45)" font-size="23.6" text-anchor="end">Aug</text>
<text transform="translate(488.07,356.0) rotate(-45)" font-size="23.6" text-anchor="end">Sep</text>
<text transform="translate(536.15,356.0) rotate(-45)" font-size="23.6" text-anchor="end">Oct</text>
<text transform="translate(585.83,356.0) rotate(-45)" font-size="23.6" text-anchor="end">Nov</text>
<text transform="translate(633.92,356.0) rotate(-45)" font-size="23.6" text-anchor="end">Dec</text>
<text transform="translate(683.60,356.0) rotate(-45)" font-size="23.6" text-anchor="end">Jan</text>
<text transform="translate(27,171.3) rotate(-90)" font-size="23.5" text-anchor="middle">dB re 1 <tspan font-family="Liberation Serif" font-style="italic">μ</tspan>Pa<tspan dy="-10" font-size="17">2</tspan><tspan dy="10"> at CF 63 Hz</tspan></text>
<line x1="132.68" y1="458.0" x2="132.68" y2="779.4" stroke="#efefef" stroke-width="1"/>
<line x1="177.56" y1="458.0" x2="177.56" y2="779.4" stroke="#efefef" stroke-width="1"/>
<line x1="227.25" y1="458.0" x2="227.25" y2="779.4" stroke="#efefef" stroke-width="1"/>
<line x1="275.33" y1="458.0" x2="275.33" y2="779.4" stroke="#efefef" stroke-width="1"/>
<line x1="325.01" y1="458.0" x2="325.01" y2="779.4" stroke="#efefef" stroke-width="1"/>
<line x1="373.10" y1="458.0" x2="373.10" y2="779.4" stroke="#efefef" stroke-width="1"/>
<line x1="422.78" y1="458.0" x2="422.78" y2="779.4" stroke="#efefef" stroke-width="1"/>
<line x1="472.47" y1="458.0" x2="472.47" y2="779.4" stroke="#efefef" stroke-width="1"/>
<line x1="520.55" y1="458.0" x2="520.55" y2="779.4" stroke="#efefef" stroke-width="1"/>
<line x1="570.23" y1="458.0" x2="570.23" y2="779.4" stroke="#efefef" stroke-width="1"/>
<line x1="618.32" y1="458.0" x2="618.32" y2="779.4" stroke="#efefef" stroke-width="1"/>
<line x1="668.00" y1="458.0" x2="668.00" y2="779.4" stroke="#efefef" stroke-width="1"/>
<line x1="83.0" y1="725.83" x2="668.0" y2="725.83" stroke="#efefef" stroke-width="1"/>
<line x1="83.0" y1="672.27" x2="668.0" y2="672.27" stroke="#efefef" stroke-width="1"/>
<line x1="83.0" y1="618.70" x2="668.0" y2="618.70" stroke="#efefef" stroke-width="1"/>
<line x1="83.0" y1="565.13" x2="668.0" y2="565.13" stroke="#efefef" stroke-width="1"/>
<line x1="83.0" y1="511.57" x2="668.0" y2="511.57" stroke="#efefef" stroke-width="1"/>
<line x1="83.0" y1="458.00" x2="668.0" y2="458.00" stroke="#efefef" stroke-width="1"/>
<g fill="#3b0f5e" fill-opacity="0.24" stroke="#3b0f5e" stroke-opacity="0.22" stroke-width="0.6"><circle cx="468.6" cy="593.8" r="2.85"/><circle cx="469.8" cy="591.6" r="2.85"/><circle cx="471.8" cy="519.8" r="2.85"/><circle cx="473.5" cy="604.7" r="2.85"/><circle cx="474.9" cy="550.8" r="2.85"/><circle cx="476.5" cy="570.7" r="2.85"/><circle cx="478.3" cy="549.0" r="2.85"/><circle cx="479.9" cy="566.8" r="2.85"/><circle cx="481.5" cy="610.2" r="2.85"/><circle cx="483.0" cy="621.7" r="2.85"/><circle cx="484.6" cy="585.7" r="2.85"/><circle cx="486.3" cy="545.8" r="2.85"/><circle cx="489.6" cy="540.9" r="2.85"/><circle cx="490.9" cy="572.9" r="2.85"/><circle cx="492.8" cy="624.6" r="2.85"/><circle cx="493.9" cy="524.0" r="2.85"/><circle cx="497.3" cy="605.8" r="2.85"/><circle cx="498.6" cy="629.9" r="2.85"/><circle cx="500.8" cy="577.8" r="2.85"/><circle cx="502.0" cy="577.6" r="2.85"/><circle cx="503.9" cy="519.5" r="2.85"/><circle cx="505.4" cy="589.4" r="2.85"/><circle cx="508.6" cy="615.1" r="2.85"/><circle cx="510.4" cy="571.9" r="2.85"/><circle cx="511.9" cy="571.9" r="2.85"/><circle cx="513.4" cy="599.8" r="2.85"/><circle cx="514.9" cy="579.9" r="2.85"/><circle cx="516.5" cy="588.1" r="2.85"/><circle cx="521.6" cy="527.6" r="2.85"/><circle cx="522.8" cy="531.3" r="2.85"/><circle cx="524.7" cy="560.0" r="2.85"/><circle cx="526.0" cy="538.5" r="2.85"/><circle cx="527.6" cy="589.9" r="2.85"/><circle cx="529.5" cy="561.2" r="2.85"/><circle cx="530.8" cy="584.8" r="2.85"/><circle cx="532.7" cy="572.7" r="2.85"/><circle cx="534.3" cy="579.3" r="2.85"/><circle cx="535.7" cy="631.1" r="2.85"/><circle cx="537.4" cy="512.7" r="2.85"/><circle cx="539.1" cy="615.0" r="2.85"/><circle cx="540.7" cy="578.0" r="2.85"/><circle cx="541.9" cy="597.7" r="2.85"/><circle cx="544.0" cy="656.3" r="2.85"/><circle cx="545.5" cy="588.9" r="2.85"/><circle cx="547.0" cy="599.3" r="2.85"/><circle cx="548.6" cy="623.1" r="2.85"/><circle cx="550.1" cy="669.6" r="2.85"/><circle cx="551.8" cy="687.3" r="2.85"/><circle cx="553.3" cy="655.9" r="2.85"/><circle cx="555.1" cy="632.4" r="2.85"/><circle cx="556.8" cy="683.4" r="2.85"/><circle cx="558.5" cy="678.8" r="2.85"/><circle cx="559.8" cy="662.3" r="2.85"/><circle cx="561.3" cy="609.3" r="2.85"/><circle cx="563.2" cy="724.3" r="2.85"/><circle cx="564.5" cy="654.1" r="2.85"/><circle cx="566.2" cy="671.1" r="2.85"/><circle cx="567.9" cy="643.8" r="2.85"/><circle cx="569.3" cy="658.0" r="2.85"/><circle cx="571.2" cy="649.6" r="2.85"/><circle cx="572.6" cy="652.0" r="2.85"/><circle cx="576.1" cy="674.1" r="2.85"/><circle cx="577.7" cy="709.7" r="2.85"/><circle cx="579.1" cy="760.6" r="2.85"/><circle cx="582.4" cy="733.3" r="2.85"/><circle cx="585.2" cy="672.3" r="2.85"/><circle cx="586.9" cy="663.0" r="2.85"/><circle cx="588.8" cy="640.2" r="2.85"/><circle cx="590.3" cy="666.8" r="2.85"/><circle cx="591.8" cy="746.0" r="2.85"/><circle cx="593.5" cy="702.0" r="2.85"/><circle cx="596.4" cy="722.6" r="2.85"/><circle cx="598.3" cy="688.4" r="2.85"/><circle cx="599.7" cy="668.1" r="2.85"/><circle cx="601.6" cy="640.9" r="2.85"/><circle cx="604.4" cy="674.0" r="2.85"/><circle cx="608.0" cy="674.8" r="2.85"/><circle cx="609.5" cy="660.4" r="2.85"/><circle cx="611.3" cy="689.3" r="2.85"/><circle cx="612.7" cy="559.8" r="2.85"/><circle cx="615.9" cy="722.2" r="2.85"/><circle cx="617.4" cy="680.5" r="2.85"/><circle cx="619.0" cy="643.7" r="2.85"/><circle cx="620.6" cy="661.2" r="2.85"/><circle cx="622.4" cy="643.8" r="2.85"/><circle cx="623.8" cy="666.3" r="2.85"/><circle cx="625.3" cy="668.7" r="2.85"/><circle cx="627.0" cy="618.3" r="2.85"/><circle cx="628.9" cy="660.6" r="2.85"/><circle cx="630.3" cy="654.9" r="2.85"/><circle cx="632.1" cy="613.1" r="2.85"/><circle cx="633.8" cy="637.9" r="2.85"/><circle cx="636.8" cy="640.1" r="2.85"/><circle cx="638.4" cy="649.8" r="2.85"/><circle cx="640.0" cy="613.5" r="2.85"/><circle cx="641.3" cy="623.7" r="2.85"/><circle cx="642.9" cy="644.3" r="2.85"/><circle cx="644.9" cy="630.6" r="2.85"/><circle cx="646.2" cy="637.1" r="2.85"/><circle cx="648.0" cy="641.3" r="2.85"/><circle cx="651.0" cy="620.9" r="2.85"/><circle cx="653.1" cy="674.7" r="2.85"/><circle cx="654.6" cy="608.1" r="2.85"/><circle cx="655.8" cy="664.4" r="2.85"/><circle cx="657.7" cy="653.0" r="2.85"/><circle cx="659.5" cy="682.7" r="2.85"/><circle cx="660.7" cy="678.7" r="2.85"/><circle cx="662.1" cy="582.6" r="2.85"/><circle cx="664.1" cy="702.7" r="2.85"/><circle cx="665.7" cy="610.5" r="2.85"/></g>
<g fill="#36529c" fill-opacity="0.24" stroke="#36529c" stroke-opacity="0.22" stroke-width="0.6"><circle cx="85.3" cy="669.1" r="2.85"/><circle cx="86.9" cy="668.9" r="2.85"/><circle cx="88.5" cy="717.8" r="2.85"/><circle cx="89.9" cy="766.0" r="2.85"/><circle cx="91.9" cy="704.1" r="2.85"/><circle cx="93.3" cy="703.3" r="2.85"/><circle cx="95.1" cy="690.8" r="2.85"/><circle cx="96.5" cy="648.8" r="2.85"/><circle cx="98.2" cy="682.4" r="2.85"/><circle cx="99.9" cy="638.3" r="2.85"/><circle cx="101.7" cy="706.7" r="2.85"/><circle cx="102.9" cy="596.2" r="2.85"/><circle cx="104.6" cy="684.6" r="2.85"/><circle cx="106.0" cy="677.8" r="2.85"/><circle cx="109.6" cy="647.9" r="2.85"/><circle cx="110.8" cy="614.0" r="2.85"/><circle cx="112.4" cy="569.6" r="2.85"/><circle cx="114.2" cy="637.3" r="2.85"/><circle cx="115.6" cy="614.7" r="2.85"/><circle cx="117.6" cy="627.1" r="2.85"/><circle cx="119.0" cy="588.5" r="2.85"/><circle cx="120.6" cy="629.5" r="2.85"/><circle cx="122.2" cy="601.8" r="2.85"/><circle cx="124.1" cy="629.3" r="2.85"/><circle cx="125.3" cy="589.7" r="2.85"/><circle cx="126.8" cy="580.5" r="2.85"/><circle cx="128.7" cy="616.1" r="2.85"/><circle cx="131.8" cy="646.5" r="2.85"/><circle cx="133.8" cy="589.5" r="2.85"/><circle cx="134.9" cy="575.5" r="2.85"/><circle cx="136.4" cy="582.7" r="2.85"/><circle cx="138.3" cy="612.1" r="2.85"/><circle cx="139.6" cy="692.4" r="2.85"/><circle cx="141.6" cy="650.9" r="2.85"/><circle cx="143.2" cy="597.1" r="2.85"/><circle cx="144.4" cy="597.3" r="2.85"/><circle cx="146.4" cy="667.9" r="2.85"/><circle cx="147.8" cy="656.1" r="2.85"/><circle cx="149.7" cy="689.4" r="2.85"/><circle cx="151.2" cy="673.0" r="2.85"/><circle cx="153.0" cy="698.1" r="2.85"/><circle cx="154.3" cy="719.4" r="2.85"/><circle cx="155.9" cy="703.6" r="2.85"/><circle cx="157.7" cy="641.9" r="2.85"/><circle cx="159.1" cy="656.0" r="2.85"/><circle cx="160.9" cy="690.5" r="2.85"/><circle cx="165.7" cy="735.7" r="2.85"/><circle cx="166.9" cy="670.0" r="2.85"/><circle cx="170.2" cy="651.3" r="2.85"/><circle cx="172.2" cy="655.7" r="2.85"/><circle cx="173.4" cy="611.9" r="2.85"/><circle cx="175.4" cy="689.6" r="2.85"/><circle cx="176.8" cy="748.5" r="2.85"/><circle cx="179.8" cy="700.0" r="2.85"/><circle cx="181.4" cy="733.5" r="2.85"/><circle cx="183.1" cy="739.6" r="2.85"/><circle cx="184.5" cy="760.6" r="2.85"/><circle cx="186.5" cy="706.4" r="2.85"/><circle cx="187.9" cy="748.1" r="2.85"/><circle cx="189.7" cy="773.5" r="2.85"/><circle cx="190.9" cy="697.9" r="2.85"/><circle cx="194.2" cy="746.0" r="2.85"/><circle cx="195.9" cy="692.7" r="2.85"/><circle cx="199.1" cy="670.2" r="2.85"/><circle cx="200.9" cy="666.1" r="2.85"/><circle cx="202.1" cy="645.6" r="2.85"/><circle cx="204.0" cy="637.5" r="2.85"/><circle cx="205.7" cy="709.0" r="2.85"/><circle cx="207.3" cy="641.2" r="2.85"/><circle cx="208.9" cy="692.4" r="2.85"/><circle cx="210.3" cy="620.0" r="2.85"/><circle cx="211.7" cy="638.1" r="2.85"/><circle cx="213.6" cy="686.9" r="2.85"/><circle cx="215.3" cy="710.1" r="2.85"/><circle cx="216.5" cy="709.1" r="2.85"/><circle cx="218.4" cy="718.9" r="2.85"/><circle cx="220.2" cy="740.4" r="2.85"/><circle cx="221.4" cy="659.8" r="2.85"/><circle cx="223.2" cy="700.2" r="2.85"/><circle cx="226.3" cy="705.9" r="2.85"/><circle cx="229.4" cy="749.0" r="2.85"/><circle cx="231.0" cy="739.4" r="2.85"/><circle cx="232.6" cy="723.1" r="2.85"/><circle cx="234.6" cy="665.8" r="2.85"/><circle cx="236.1" cy="677.7" r="2.85"/><circle cx="237.9" cy="727.5" r="2.85"/><circle cx="240.8" cy="703.6" r="2.85"/><circle cx="242.2" cy="720.4" r="2.85"/><circle cx="244.2" cy="705.1" r="2.85"/><circle cx="245.7" cy="633.6" r="2.85"/><circle cx="247.1" cy="662.0" r="2.85"/><circle cx="248.7" cy="678.5" r="2.85"/><circle cx="250.2" cy="604.4" r="2.85"/><circle cx="252.0" cy="630.6" r="2.85"/><circle cx="253.7" cy="619.8" r="2.85"/><circle cx="255.2" cy="609.2" r="2.85"/><circle cx="256.9" cy="637.3" r="2.85"/><circle cx="258.5" cy="598.4" r="2.85"/><circle cx="260.1" cy="693.3" r="2.85"/><circle cx="263.1" cy="607.9" r="2.85"/><circle cx="265.1" cy="644.2" r="2.85"/><circle cx="266.7" cy="592.0" r="2.85"/><circle cx="268.3" cy="632.1" r="2.85"/><circle cx="269.9" cy="683.8" r="2.85"/><circle cx="271.4" cy="652.9" r="2.85"/><circle cx="272.9" cy="647.6" r="2.85"/><circle cx="274.4" cy="681.2" r="2.85"/><circle cx="276.1" cy="681.8" r="2.85"/><circle cx="277.8" cy="701.6" r="2.85"/><circle cx="279.3" cy="671.4" r="2.85"/><circle cx="280.7" cy="690.3" r="2.85"/><circle cx="282.6" cy="650.8" r="2.85"/><circle cx="283.8" cy="676.2" r="2.85"/><circle cx="289.2" cy="699.1" r="2.85"/><circle cx="290.6" cy="651.7" r="2.85"/><circle cx="295.5" cy="655.1" r="2.85"/><circle cx="296.9" cy="683.4" r="2.85"/><circle cx="298.8" cy="706.4" r="2.85"/><circle cx="300.4" cy="677.0" r="2.85"/><circle cx="301.7" cy="669.2" r="2.85"/><circle cx="305.2" cy="725.4" r="2.85"/><circle cx="306.7" cy="687.6" r="2.85"/><circle cx="308.3" cy="669.4" r="2.85"/><circle cx="309.8" cy="652.8" r="2.85"/><circle cx="311.4" cy="660.2" r="2.85"/><circle cx="313.1" cy="643.4" r="2.85"/><circle cx="314.6" cy="692.5" r="2.85"/><circle cx="316.2" cy="672.6" r="2.85"/><circle cx="318.0" cy="654.8" r="2.85"/><circle cx="319.2" cy="702.6" r="2.85"/><circle cx="321.2" cy="674.3" r="2.85"/><circle cx="322.3" cy="666.9" r="2.85"/><circle cx="324.4" cy="654.0" r="2.85"/><circle cx="325.7" cy="704.7" r="2.85"/><circle cx="327.4" cy="671.2" r="2.85"/><circle cx="328.9" cy="671.7" r="2.85"/><circle cx="330.4" cy="681.8" r="2.85"/><circle cx="331.9" cy="646.8" r="2.85"/><circle cx="333.7" cy="675.7" r="2.85"/><circle cx="335.4" cy="711.8" r="2.85"/><circle cx="337.0" cy="666.6" r="2.85"/><circle cx="340.1" cy="717.3" r="2.85"/><circle cx="341.6" cy="684.7" r="2.85"/><circle cx="343.6" cy="691.1" r="2.85"/><circle cx="345.0" cy="672.9" r="2.85"/><circle cx="346.5" cy="687.9" r="2.85"/><circle cx="348.0" cy="700.9" r="2.85"/><circle cx="349.7" cy="719.0" r="2.85"/><circle cx="351.2" cy="685.8" r="2.85"/><circle cx="352.9" cy="674.3" r="2.85"/><circle cx="354.8" cy="667.4" r="2.85"/><circle cx="356.3" cy="703.4" r="2.85"/><circle cx="357.6" cy="672.5" r="2.85"/><circle cx="359.2" cy="677.1" r="2.85"/><circle cx="361.3" cy="654.3" r="2.85"/><circle cx="362.7" cy="694.7" r="2.85"/><circle cx="364.0" cy="680.1" r="2.85"/><circle cx="365.9" cy="620.2" r="2.85"/><circle cx="367.6" cy="629.7" r="2.85"/><circle cx="369.1" cy="660.6" r="2.85"/><circle cx="370.7" cy="659.7" r="2.85"/><circle cx="372.6" cy="655.2" r="2.85"/><circle cx="373.7" cy="640.0" r="2.85"/><circle cx="375.3" cy="648.6" r="2.85"/><circle cx="377.0" cy="644.9" r="2.85"/><circle cx="378.8" cy="673.4" r="2.85"/><circle cx="380.3" cy="664.9" r="2.85"/><circle cx="381.8" cy="675.3" r="2.85"/><circle cx="383.5" cy="661.6" r="2.85"/><circle cx="386.8" cy="707.8" r="2.85"/><circle cx="388.3" cy="678.7" r="2.85"/><circle cx="390.0" cy="667.0" r="2.85"/><circle cx="391.7" cy="675.5" r="2.85"/><circle cx="392.9" cy="727.8" r="2.85"/><circle cx="394.6" cy="639.9" r="2.85"/><circle cx="396.4" cy="695.3" r="2.85"/><circle cx="398.2" cy="656.9" r="2.85"/><circle cx="399.8" cy="657.3" r="2.85"/><circle cx="401.0" cy="627.8" r="2.85"/><circle cx="402.5" cy="678.2" r="2.85"/><circle cx="404.3" cy="649.9" r="2.85"/><circle cx="406.2" cy="638.1" r="2.85"/><circle cx="407.4" cy="604.9" r="2.85"/><circle cx="409.0" cy="653.6" r="2.85"/><circle cx="410.7" cy="636.7" r="2.85"/><circle cx="412.2" cy="620.3" r="2.85"/><circle cx="414.1" cy="637.5" r="2.85"/><circle cx="415.8" cy="656.1" r="2.85"/><circle cx="417.2" cy="640.8" r="2.85"/><circle cx="418.7" cy="634.4" r="2.85"/><circle cx="420.5" cy="654.4" r="2.85"/><circle cx="422.2" cy="635.2" r="2.85"/><circle cx="423.5" cy="674.3" r="2.85"/><circle cx="425.1" cy="656.4" r="2.85"/><circle cx="426.7" cy="682.7" r="2.85"/><circle cx="428.4" cy="654.2" r="2.85"/><circle cx="430.2" cy="672.8" r="2.85"/><circle cx="431.6" cy="683.5" r="2.85"/><circle cx="433.2" cy="663.4" r="2.85"/><circle cx="434.6" cy="660.6" r="2.85"/><circle cx="436.1" cy="596.8" r="2.85"/><circle cx="438.2" cy="668.3" r="2.85"/><circle cx="439.9" cy="680.2" r="2.85"/><circle cx="441.4" cy="633.0" r="2.85"/><circle cx="443.1" cy="625.5" r="2.85"/><circle cx="444.3" cy="623.7" r="2.85"/><circle cx="446.0" cy="624.3" r="2.85"/><circle cx="447.7" cy="672.6" r="2.85"/><circle cx="449.3" cy="643.2" r="2.85"/><circle cx="451.0" cy="652.1" r="2.85"/><circle cx="452.7" cy="585.8" r="2.85"/><circle cx="453.9" cy="643.8" r="2.85"/><circle cx="455.3" cy="641.0" r="2.85"/><circle cx="457.4" cy="627.1" r="2.85"/><circle cx="459.1" cy="607.3" r="2.85"/><circle cx="460.3" cy="555.6" r="2.85"/><circle cx="462.0" cy="642.7" r="2.85"/><circle cx="463.8" cy="576.3" r="2.85"/><circle cx="470.0" cy="630.6" r="2.85"/><circle cx="471.8" cy="560.5" r="2.85"/><circle cx="473.3" cy="624.3" r="2.85"/><circle cx="475.1" cy="676.3" r="2.85"/><circle cx="476.7" cy="621.6" r="2.85"/><circle cx="478.0" cy="625.9" r="2.85"/><circle cx="479.5" cy="633.5" r="2.85"/><circle cx="481.2" cy="626.3" r="2.85"/><circle cx="486.1" cy="631.1" r="2.85"/><circle cx="487.5" cy="618.2" r="2.85"/><circle cx="489.1" cy="719.5" r="2.85"/><circle cx="491.1" cy="673.5" r="2.85"/><circle cx="492.5" cy="624.8" r="2.85"/><circle cx="494.2" cy="642.1" r="2.85"/><circle cx="495.9" cy="650.3" r="2.85"/><circle cx="497.5" cy="712.8" r="2.85"/><circle cx="499.1" cy="643.0" r="2.85"/><circle cx="500.6" cy="609.6" r="2.85"/><circle cx="502.3" cy="607.3" r="2.85"/><circle cx="504.0" cy="590.2" r="2.85"/><circle cx="505.2" cy="642.7" r="2.85"/><circle cx="507.1" cy="657.4" r="2.85"/><circle cx="508.4" cy="640.5" r="2.85"/><circle cx="510.1" cy="656.0" r="2.85"/><circle cx="511.6" cy="604.6" r="2.85"/><circle cx="513.4" cy="623.2" r="2.85"/><circle cx="515.2" cy="613.9" r="2.85"/><circle cx="516.5" cy="641.4" r="2.85"/><circle cx="519.5" cy="626.9" r="2.85"/><circle cx="521.1" cy="609.7" r="2.85"/><circle cx="522.7" cy="674.3" r="2.85"/><circle cx="524.6" cy="614.5" r="2.85"/><circle cx="526.1" cy="654.5" r="2.85"/><circle cx="527.6" cy="655.3" r="2.85"/><circle cx="529.5" cy="669.3" r="2.85"/><circle cx="532.7" cy="582.4" r="2.85"/><circle cx="534.0" cy="580.6" r="2.85"/><circle cx="535.8" cy="551.9" r="2.85"/><circle cx="537.5" cy="635.9" r="2.85"/><circle cx="538.9" cy="624.7" r="2.85"/><circle cx="542.5" cy="588.3" r="2.85"/><circle cx="543.5" cy="594.0" r="2.85"/><circle cx="545.4" cy="616.6" r="2.85"/><circle cx="547.0" cy="641.8" r="2.85"/><circle cx="550.4" cy="624.8" r="2.85"/><circle cx="552.1" cy="637.6" r="2.85"/><circle cx="555.2" cy="600.9" r="2.85"/><circle cx="556.4" cy="593.1" r="2.85"/><circle cx="558.5" cy="565.1" r="2.85"/><circle cx="559.7" cy="643.0" r="2.85"/><circle cx="561.5" cy="649.4" r="2.85"/><circle cx="563.2" cy="577.0" r="2.85"/><circle cx="564.5" cy="721.4" r="2.85"/><circle cx="566.0" cy="647.5" r="2.85"/><circle cx="568.0" cy="632.7" r="2.85"/><circle cx="569.5" cy="658.3" r="2.85"/><circle cx="570.9" cy="672.2" r="2.85"/><circle cx="572.4" cy="631.2" r="2.85"/><circle cx="574.0" cy="617.1" r="2.85"/><circle cx="575.9" cy="570.8" r="2.85"/><circle cx="577.7" cy="619.1" r="2.85"/><circle cx="579.1" cy="677.9" r="2.85"/><circle cx="580.8" cy="704.3" r="2.85"/><circle cx="582.4" cy="636.7" r="2.85"/><circle cx="585.4" cy="689.4" r="2.85"/><circle cx="588.4" cy="691.2" r="2.85"/><circle cx="590.3" cy="641.6" r="2.85"/><circle cx="591.9" cy="664.1" r="2.85"/><circle cx="593.3" cy="676.5" r="2.85"/><circle cx="594.8" cy="677.7" r="2.85"/><circle cx="596.6" cy="705.5" r="2.85"/><circle cx="598.2" cy="759.5" r="2.85"/><circle cx="599.8" cy="721.5" r="2.85"/><circle cx="603.1" cy="725.1" r="2.85"/><circle cx="605.0" cy="727.4" r="2.85"/><circle cx="606.4" cy="689.5" r="2.85"/><circle cx="607.8" cy="667.6" r="2.85"/><circle cx="609.4" cy="677.5" r="2.85"/><circle cx="611.0" cy="673.1" r="2.85"/><circle cx="612.7" cy="677.2" r="2.85"/><circle cx="615.8" cy="615.1" r="2.85"/><circle cx="617.6" cy="685.6" r="2.85"/><circle cx="619.1" cy="691.3" r="2.85"/><circle cx="620.4" cy="673.4" r="2.85"/><circle cx="622.5" cy="658.4" r="2.85"/><circle cx="623.8" cy="683.9" r="2.85"/><circle cx="625.7" cy="680.9" r="2.85"/><circle cx="628.5" cy="621.3" r="2.85"/><circle cx="630.3" cy="656.4" r="2.85"/><circle cx="631.7" cy="722.8" r="2.85"/><circle cx="633.7" cy="661.4" r="2.85"/><circle cx="635.3" cy="583.6" r="2.85"/><circle cx="636.9" cy="656.7" r="2.85"/><circle cx="638.3" cy="676.8" r="2.85"/><circle cx="639.9" cy="675.0" r="2.85"/><circle cx="641.3" cy="687.1" r="2.85"/><circle cx="643.3" cy="668.7" r="2.85"/><circle cx="644.5" cy="662.3" r="2.85"/><circle cx="646.6" cy="700.3" r="2.85"/><circle cx="648.0" cy="692.8" r="2.85"/><circle cx="649.6" cy="742.5" r="2.85"/><circle cx="651.3" cy="707.6" r="2.85"/><circle cx="653.0" cy="681.7" r="2.85"/><circle cx="654.3" cy="705.9" r="2.85"/><circle cx="656.1" cy="659.2" r="2.85"/><circle cx="657.5" cy="610.5" r="2.85"/><circle cx="659.3" cy="678.3" r="2.85"/><circle cx="661.0" cy="603.4" r="2.85"/><circle cx="662.6" cy="702.6" r="2.85"/><circle cx="663.7" cy="688.4" r="2.85"/><circle cx="665.5" cy="641.6" r="2.85"/></g>
<g fill="#cd2228" fill-opacity="0.24" stroke="#cd2228" stroke-opacity="0.22" stroke-width="0.6"><circle cx="84.0" cy="675.6" r="2.85"/><circle cx="85.3" cy="692.2" r="2.85"/><circle cx="86.8" cy="647.0" r="2.85"/><circle cx="88.4" cy="684.1" r="2.85"/><circle cx="90.3" cy="666.4" r="2.85"/><circle cx="91.9" cy="679.1" r="2.85"/><circle cx="93.6" cy="672.3" r="2.85"/><circle cx="95.1" cy="678.2" r="2.85"/><circle cx="96.5" cy="630.9" r="2.85"/><circle cx="100.1" cy="631.1" r="2.85"/><circle cx="101.5" cy="699.2" r="2.85"/><circle cx="103.2" cy="630.2" r="2.85"/><circle cx="104.5" cy="663.2" r="2.85"/><circle cx="106.5" cy="675.6" r="2.85"/><circle cx="107.8" cy="659.9" r="2.85"/><circle cx="109.7" cy="644.8" r="2.85"/><circle cx="111.3" cy="629.8" r="2.85"/><circle cx="112.9" cy="589.3" r="2.85"/><circle cx="114.0" cy="635.6" r="2.85"/><circle cx="115.8" cy="573.2" r="2.85"/><circle cx="117.7" cy="557.2" r="2.85"/><circle cx="119.4" cy="667.9" r="2.85"/><circle cx="120.7" cy="691.6" r="2.85"/><circle cx="122.3" cy="649.6" r="2.85"/><circle cx="124.0" cy="693.1" r="2.85"/><circle cx="125.2" cy="643.1" r="2.85"/><circle cx="127.0" cy="617.4" r="2.85"/><circle cx="128.8" cy="633.4" r="2.85"/><circle cx="130.2" cy="661.6" r="2.85"/><circle cx="131.9" cy="678.6" r="2.85"/><circle cx="133.4" cy="617.4" r="2.85"/><circle cx="134.9" cy="620.7" r="2.85"/><circle cx="136.4" cy="618.5" r="2.85"/><circle cx="138.2" cy="664.2" r="2.85"/><circle cx="139.7" cy="715.4" r="2.85"/><circle cx="141.5" cy="656.3" r="2.85"/><circle cx="143.0" cy="634.3" r="2.85"/><circle cx="144.9" cy="631.7" r="2.85"/><circle cx="146.5" cy="687.4" r="2.85"/><circle cx="148.0" cy="631.0" r="2.85"/><circle cx="151.4" cy="626.1" r="2.85"/><circle cx="152.7" cy="664.7" r="2.85"/><circle cx="154.5" cy="664.7" r="2.85"/><circle cx="155.8" cy="673.3" r="2.85"/><circle cx="160.9" cy="627.1" r="2.85"/><circle cx="162.5" cy="626.5" r="2.85"/><circle cx="164.2" cy="668.3" r="2.85"/><circle cx="165.8" cy="650.7" r="2.85"/><circle cx="167.2" cy="579.2" r="2.85"/><circle cx="168.9" cy="606.3" r="2.85"/><circle cx="170.3" cy="665.6" r="2.85"/><circle cx="171.9" cy="667.0" r="2.85"/><circle cx="173.4" cy="599.4" r="2.85"/><circle cx="175.2" cy="612.2" r="2.85"/><circle cx="176.6" cy="619.5" r="2.85"/><circle cx="178.3" cy="611.5" r="2.85"/><circle cx="181.3" cy="628.4" r="2.85"/><circle cx="183.3" cy="633.9" r="2.85"/><circle cx="184.6" cy="643.7" r="2.85"/><circle cx="186.2" cy="638.7" r="2.85"/><circle cx="188.0" cy="651.4" r="2.85"/><circle cx="189.5" cy="644.2" r="2.85"/><circle cx="192.8" cy="549.2" r="2.85"/><circle cx="194.2" cy="601.4" r="2.85"/><circle cx="195.8" cy="562.1" r="2.85"/><circle cx="197.5" cy="584.0" r="2.85"/><circle cx="199.2" cy="620.7" r="2.85"/><circle cx="200.7" cy="597.7" r="2.85"/><circle cx="202.2" cy="614.0" r="2.85"/><circle cx="205.6" cy="631.6" r="2.85"/><circle cx="207.4" cy="618.1" r="2.85"/><circle cx="208.9" cy="696.0" r="2.85"/><circle cx="210.3" cy="668.7" r="2.85"/><circle cx="212.2" cy="684.2" r="2.85"/><circle cx="213.6" cy="662.0" r="2.85"/><circle cx="215.0" cy="684.0" r="2.85"/><circle cx="216.5" cy="658.1" r="2.85"/><circle cx="218.3" cy="682.9" r="2.85"/><circle cx="220.0" cy="668.3" r="2.85"/><circle cx="221.7" cy="686.9" r="2.85"/><circle cx="223.1" cy="709.9" r="2.85"/><circle cx="224.9" cy="680.5" r="2.85"/><circle cx="226.4" cy="641.0" r="2.85"/><circle cx="228.3" cy="701.9" r="2.85"/><circle cx="231.4" cy="698.6" r="2.85"/><circle cx="233.1" cy="704.0" r="2.85"/><circle cx="234.2" cy="689.2" r="2.85"/><circle cx="236.1" cy="709.3" r="2.85"/><circle cx="237.4" cy="696.2" r="2.85"/><circle cx="239.3" cy="726.0" r="2.85"/><circle cx="241.0" cy="736.4" r="2.85"/><circle cx="242.4" cy="675.9" r="2.85"/><circle cx="243.8" cy="680.0" r="2.85"/><circle cx="247.2" cy="657.5" r="2.85"/><circle cx="250.2" cy="714.8" r="2.85"/><circle cx="253.4" cy="679.2" r="2.85"/><circle cx="255.1" cy="718.4" r="2.85"/><circle cx="256.7" cy="638.1" r="2.85"/><circle cx="258.6" cy="672.3" r="2.85"/><circle cx="259.9" cy="696.4" r="2.85"/><circle cx="261.5" cy="700.3" r="2.85"/><circle cx="263.5" cy="660.5" r="2.85"/><circle cx="265.1" cy="663.4" r="2.85"/><circle cx="266.5" cy="683.1" r="2.85"/><circle cx="268.3" cy="672.7" r="2.85"/><circle cx="269.5" cy="736.8" r="2.85"/><circle cx="271.0" cy="707.5" r="2.85"/><circle cx="272.7" cy="671.5" r="2.85"/><circle cx="274.7" cy="747.2" r="2.85"/><circle cx="277.6" cy="728.6" r="2.85"/><circle cx="279.4" cy="737.4" r="2.85"/><circle cx="280.7" cy="737.5" r="2.85"/><circle cx="282.3" cy="759.6" r="2.85"/><circle cx="285.8" cy="759.9" r="2.85"/><circle cx="287.5" cy="741.6" r="2.85"/><circle cx="289.0" cy="761.7" r="2.85"/><circle cx="291.9" cy="743.7" r="2.85"/><circle cx="295.5" cy="730.3" r="2.85"/><circle cx="297.2" cy="739.7" r="2.85"/><circle cx="298.7" cy="735.6" r="2.85"/><circle cx="299.9" cy="763.8" r="2.85"/><circle cx="301.9" cy="762.5" r="2.85"/><circle cx="303.5" cy="727.3" r="2.85"/><circle cx="305.0" cy="725.3" r="2.85"/><circle cx="306.6" cy="758.5" r="2.85"/><circle cx="308.1" cy="762.6" r="2.85"/><circle cx="309.9" cy="728.5" r="2.85"/><circle cx="311.3" cy="720.4" r="2.85"/><circle cx="313.0" cy="707.8" r="2.85"/><circle cx="314.5" cy="761.2" r="2.85"/><circle cx="316.1" cy="745.4" r="2.85"/><circle cx="317.9" cy="735.3" r="2.85"/><circle cx="319.6" cy="650.0" r="2.85"/><circle cx="322.5" cy="686.3" r="2.85"/><circle cx="324.3" cy="692.0" r="2.85"/><circle cx="325.6" cy="706.4" r="2.85"/><circle cx="327.3" cy="691.7" r="2.85"/><circle cx="329.2" cy="673.5" r="2.85"/><circle cx="330.6" cy="625.7" r="2.85"/><circle cx="332.5" cy="601.4" r="2.85"/><circle cx="334.0" cy="673.6" r="2.85"/><circle cx="335.5" cy="662.9" r="2.85"/><circle cx="338.8" cy="682.1" r="2.85"/><circle cx="340.3" cy="657.5" r="2.85"/><circle cx="341.6" cy="708.8" r="2.85"/><circle cx="343.4" cy="687.5" r="2.85"/><circle cx="345.3" cy="679.4" r="2.85"/><circle cx="346.9" cy="656.3" r="2.85"/><circle cx="348.1" cy="658.3" r="2.85"/><circle cx="349.8" cy="673.4" r="2.85"/><circle cx="351.5" cy="658.1" r="2.85"/><circle cx="354.6" cy="677.7" r="2.85"/><circle cx="357.9" cy="683.9" r="2.85"/><circle cx="359.4" cy="744.8" r="2.85"/><circle cx="361.0" cy="652.6" r="2.85"/><circle cx="362.4" cy="693.5" r="2.85"/><circle cx="364.2" cy="719.4" r="2.85"/><circle cx="365.8" cy="682.8" r="2.85"/><circle cx="367.2" cy="709.6" r="2.85"/><circle cx="369.2" cy="670.7" r="2.85"/><circle cx="373.7" cy="696.4" r="2.85"/><circle cx="375.3" cy="685.2" r="2.85"/><circle cx="376.9" cy="694.9" r="2.85"/><circle cx="378.5" cy="721.9" r="2.85"/><circle cx="380.4" cy="746.9" r="2.85"/><circle cx="382.2" cy="707.5" r="2.85"/><circle cx="383.2" cy="677.5" r="2.85"/><circle cx="385.1" cy="724.9" r="2.85"/><circle cx="386.8" cy="699.8" r="2.85"/><circle cx="388.3" cy="714.4" r="2.85"/><circle cx="390.1" cy="702.8" r="2.85"/><circle cx="391.4" cy="680.5" r="2.85"/><circle cx="393.2" cy="738.7" r="2.85"/><circle cx="394.9" cy="691.1" r="2.85"/><circle cx="396.4" cy="730.5" r="2.85"/><circle cx="398.0" cy="718.1" r="2.85"/><circle cx="399.8" cy="700.8" r="2.85"/><circle cx="401.0" cy="684.6" r="2.85"/><circle cx="402.7" cy="711.5" r="2.85"/><circle cx="404.4" cy="727.7" r="2.85"/><circle cx="406.0" cy="716.3" r="2.85"/><circle cx="407.3" cy="698.6" r="2.85"/><circle cx="409.2" cy="692.1" r="2.85"/><circle cx="410.9" cy="673.9" r="2.85"/><circle cx="412.5" cy="676.3" r="2.85"/><circle cx="413.8" cy="669.8" r="2.85"/><circle cx="415.6" cy="688.4" r="2.85"/><circle cx="417.2" cy="668.0" r="2.85"/><circle cx="418.9" cy="625.1" r="2.85"/><circle cx="420.6" cy="642.0" r="2.85"/><circle cx="421.9" cy="622.9" r="2.85"/><circle cx="423.9" cy="614.7" r="2.85"/><circle cx="425.2" cy="634.4" r="2.85"/><circle cx="426.5" cy="662.1" r="2.85"/><circle cx="428.2" cy="619.0" r="2.85"/><circle cx="430.0" cy="641.9" r="2.85"/><circle cx="431.7" cy="675.5" r="2.85"/><circle cx="433.4" cy="650.9" r="2.85"/><circle cx="434.6" cy="673.2" r="2.85"/><circle cx="436.4" cy="671.1" r="2.85"/><circle cx="437.8" cy="648.0" r="2.85"/><circle cx="439.7" cy="641.5" r="2.85"/><circle cx="441.0" cy="669.2" r="2.85"/><circle cx="442.8" cy="640.2" r="2.85"/><circle cx="444.4" cy="643.7" r="2.85"/><circle cx="445.9" cy="619.9" r="2.85"/><circle cx="447.4" cy="626.6" r="2.85"/><circle cx="506.7" cy="594.3" r="2.85"/><circle cx="508.5" cy="565.1" r="2.85"/><circle cx="510.4" cy="659.7" r="2.85"/><circle cx="511.8" cy="609.2" r="2.85"/><circle cx="513.6" cy="684.7" r="2.85"/><circle cx="514.8" cy="675.0" r="2.85"/><circle cx="516.8" cy="518.7" r="2.85"/><circle cx="520.0" cy="593.6" r="2.85"/><circle cx="521.4" cy="680.2" r="2.85"/><circle cx="523.1" cy="659.4" r="2.85"/><circle cx="524.4" cy="656.0" r="2.85"/><circle cx="526.4" cy="613.6" r="2.85"/><circle cx="527.6" cy="613.2" r="2.85"/><circle cx="529.2" cy="638.3" r="2.85"/><circle cx="531.1" cy="579.8" r="2.85"/><circle cx="532.4" cy="616.9" r="2.85"/><circle cx="534.0" cy="619.5" r="2.85"/><circle cx="535.9" cy="614.6" r="2.85"/><circle cx="537.3" cy="592.7" r="2.85"/><circle cx="539.0" cy="606.5" r="2.85"/><circle cx="540.4" cy="606.6" r="2.85"/><circle cx="541.9" cy="634.1" r="2.85"/><circle cx="546.8" cy="607.0" r="2.85"/><circle cx="548.5" cy="663.0" r="2.85"/><circle cx="550.1" cy="581.7" r="2.85"/><circle cx="551.6" cy="632.9" r="2.85"/><circle cx="553.6" cy="612.4" r="2.85"/><circle cx="554.8" cy="625.8" r="2.85"/><circle cx="556.5" cy="628.1" r="2.85"/><circle cx="558.4" cy="727.2" r="2.85"/><circle cx="559.7" cy="723.3" r="2.85"/><circle cx="561.5" cy="656.6" r="2.85"/><circle cx="563.2" cy="613.4" r="2.85"/><circle cx="564.4" cy="646.8" r="2.85"/><circle cx="569.6" cy="597.3" r="2.85"/><circle cx="572.6" cy="605.9" r="2.85"/><circle cx="576.0" cy="660.7" r="2.85"/><circle cx="577.2" cy="671.8" r="2.85"/><circle cx="579.2" cy="593.5" r="2.85"/><circle cx="580.7" cy="646.6" r="2.85"/><circle cx="582.5" cy="678.8" r="2.85"/><circle cx="583.7" cy="650.2" r="2.85"/><circle cx="585.6" cy="681.5" r="2.85"/><circle cx="587.3" cy="642.9" r="2.85"/><circle cx="588.8" cy="602.6" r="2.85"/><circle cx="590.4" cy="645.3" r="2.85"/><circle cx="592.1" cy="664.6" r="2.85"/><circle cx="593.5" cy="655.5" r="2.85"/><circle cx="594.9" cy="629.5" r="2.85"/><circle cx="596.8" cy="704.9" r="2.85"/><circle cx="598.5" cy="671.1" r="2.85"/><circle cx="600.0" cy="673.1" r="2.85"/><circle cx="601.7" cy="687.3" r="2.85"/><circle cx="603.2" cy="704.5" r="2.85"/><circle cx="604.7" cy="735.1" r="2.85"/><circle cx="606.3" cy="733.9" r="2.85"/><circle cx="609.4" cy="635.8" r="2.85"/><circle cx="611.2" cy="690.1" r="2.85"/><circle cx="612.7" cy="683.5" r="2.85"/><circle cx="614.6" cy="683.2" r="2.85"/><circle cx="617.7" cy="677.5" r="2.85"/><circle cx="618.8" cy="669.4" r="2.85"/><circle cx="622.6" cy="670.1" r="2.85"/><circle cx="625.6" cy="679.0" r="2.85"/><circle cx="627.1" cy="721.5" r="2.85"/><circle cx="629.0" cy="672.6" r="2.85"/><circle cx="630.4" cy="703.6" r="2.85"/><circle cx="632.0" cy="696.4" r="2.85"/><circle cx="633.3" cy="647.4" r="2.85"/><circle cx="635.1" cy="680.8" r="2.85"/><circle cx="636.9" cy="756.9" r="2.85"/><circle cx="638.5" cy="672.9" r="2.85"/><circle cx="640.2" cy="621.6" r="2.85"/><circle cx="642.9" cy="663.7" r="2.85"/><circle cx="644.7" cy="613.3" r="2.85"/><circle cx="646.7" cy="622.1" r="2.85"/><circle cx="647.7" cy="617.8" r="2.85"/><circle cx="649.8" cy="684.5" r="2.85"/><circle cx="651.4" cy="631.1" r="2.85"/><circle cx="652.9" cy="639.3" r="2.85"/><circle cx="654.5" cy="597.4" r="2.85"/><circle cx="655.7" cy="656.2" r="2.85"/><circle cx="657.6" cy="641.4" r="2.85"/><circle cx="658.9" cy="677.7" r="2.85"/><circle cx="660.9" cy="659.2" r="2.85"/><circle cx="662.4" cy="638.4" r="2.85"/><circle cx="664.3" cy="665.2" r="2.85"/><circle cx="665.9" cy="635.2" r="2.85"/></g>
<g fill="#62d05e" fill-opacity="0.24" stroke="#62d05e" stroke-opacity="0.22" stroke-width="0.6"><circle cx="84.0" cy="602.1" r="2.85"/><circle cx="85.4" cy="597.5" r="2.85"/><circle cx="86.8" cy="587.1" r="2.85"/><circle cx="88.7" cy="630.0" r="2.85"/><circle cx="90.2" cy="584.9" r="2.85"/><circle cx="91.7" cy="621.6" r="2.85"/><circle cx="93.4" cy="621.0" r="2.85"/><circle cx="95.1" cy="637.2" r="2.85"/><circle cx="96.7" cy="634.1" r="2.85"/><circle cx="98.2" cy="631.0" r="2.85"/><circle cx="101.3" cy="603.1" r="2.85"/><circle cx="103.3" cy="623.1" r="2.85"/><circle cx="106.1" cy="591.8" r="2.85"/><circle cx="107.8" cy="605.2" r="2.85"/><circle cx="109.2" cy="638.9" r="2.85"/><circle cx="111.0" cy="599.0" r="2.85"/><circle cx="112.9" cy="639.5" r="2.85"/><circle cx="114.2" cy="655.7" r="2.85"/><circle cx="115.8" cy="646.1" r="2.85"/><circle cx="117.3" cy="616.7" r="2.85"/><circle cx="119.2" cy="604.8" r="2.85"/><circle cx="120.9" cy="655.2" r="2.85"/><circle cx="122.2" cy="637.0" r="2.85"/><circle cx="123.8" cy="574.7" r="2.85"/><circle cx="125.2" cy="589.2" r="2.85"/><circle cx="127.3" cy="603.2" r="2.85"/><circle cx="129.0" cy="626.9" r="2.85"/><circle cx="130.4" cy="637.6" r="2.85"/><circle cx="132.1" cy="676.5" r="2.85"/><circle cx="133.2" cy="615.4" r="2.85"/><circle cx="135.1" cy="638.8" r="2.85"/><circle cx="136.5" cy="677.1" r="2.85"/><circle cx="138.4" cy="651.1" r="2.85"/><circle cx="139.9" cy="647.1" r="2.85"/><circle cx="141.8" cy="634.6" r="2.85"/><circle cx="143.4" cy="678.9" r="2.85"/><circle cx="144.6" cy="635.4" r="2.85"/><circle cx="146.3" cy="694.0" r="2.85"/><circle cx="147.9" cy="614.6" r="2.85"/><circle cx="149.7" cy="631.3" r="2.85"/><circle cx="151.0" cy="649.7" r="2.85"/><circle cx="152.6" cy="625.6" r="2.85"/><circle cx="154.3" cy="631.2" r="2.85"/><circle cx="155.6" cy="568.6" r="2.85"/><circle cx="157.3" cy="696.4" r="2.85"/><circle cx="159.0" cy="629.8" r="2.85"/><circle cx="160.9" cy="572.7" r="2.85"/><circle cx="162.0" cy="576.0" r="2.85"/><circle cx="165.8" cy="561.8" r="2.85"/><circle cx="167.1" cy="591.5" r="2.85"/><circle cx="168.6" cy="593.1" r="2.85"/><circle cx="170.3" cy="638.9" r="2.85"/><circle cx="172.1" cy="617.2" r="2.85"/><circle cx="173.8" cy="699.6" r="2.85"/><circle cx="175.2" cy="595.2" r="2.85"/><circle cx="176.7" cy="659.7" r="2.85"/><circle cx="178.3" cy="698.1" r="2.85"/><circle cx="180.2" cy="625.3" r="2.85"/><circle cx="181.5" cy="606.5" r="2.85"/><circle cx="183.4" cy="615.5" r="2.85"/><circle cx="185.0" cy="646.0" r="2.85"/><circle cx="186.3" cy="649.7" r="2.85"/><circle cx="188.1" cy="611.1" r="2.85"/><circle cx="189.5" cy="602.4" r="2.85"/><circle cx="191.3" cy="659.8" r="2.85"/><circle cx="192.9" cy="577.0" r="2.85"/><circle cx="194.4" cy="617.0" r="2.85"/><circle cx="196.1" cy="650.0" r="2.85"/><circle cx="197.9" cy="644.8" r="2.85"/><circle cx="199.3" cy="599.8" r="2.85"/><circle cx="201.0" cy="610.4" r="2.85"/><circle cx="202.3" cy="643.9" r="2.85"/><circle cx="203.8" cy="633.6" r="2.85"/><circle cx="205.4" cy="662.4" r="2.85"/><circle cx="207.0" cy="614.6" r="2.85"/><circle cx="208.9" cy="733.8" r="2.85"/><circle cx="210.6" cy="619.9" r="2.85"/><circle cx="212.1" cy="696.4" r="2.85"/><circle cx="213.7" cy="643.4" r="2.85"/><circle cx="215.1" cy="685.6" r="2.85"/><circle cx="217.0" cy="605.8" r="2.85"/><circle cx="218.4" cy="609.9" r="2.85"/><circle cx="220.0" cy="561.2" r="2.85"/><circle cx="221.6" cy="576.0" r="2.85"/><circle cx="223.1" cy="597.5" r="2.85"/><circle cx="225.0" cy="584.2" r="2.85"/><circle cx="226.4" cy="612.6" r="2.85"/><circle cx="227.8" cy="638.9" r="2.85"/><circle cx="229.7" cy="688.9" r="2.85"/><circle cx="231.2" cy="632.9" r="2.85"/><circle cx="233.0" cy="578.5" r="2.85"/><circle cx="234.2" cy="607.4" r="2.85"/><circle cx="235.8" cy="602.6" r="2.85"/><circle cx="237.8" cy="645.5" r="2.85"/><circle cx="239.3" cy="651.5" r="2.85"/><circle cx="241.0" cy="668.8" r="2.85"/><circle cx="242.6" cy="653.8" r="2.85"/><circle cx="244.2" cy="636.3" r="2.85"/><circle cx="245.9" cy="620.4" r="2.85"/><circle cx="247.1" cy="695.9" r="2.85"/><circle cx="249.0" cy="605.2" r="2.85"/><circle cx="250.3" cy="631.1" r="2.85"/><circle cx="252.1" cy="628.1" r="2.85"/><circle cx="253.4" cy="592.4" r="2.85"/><circle cx="255.5" cy="621.0" r="2.85"/><circle cx="256.8" cy="629.2" r="2.85"/><circle cx="258.6" cy="622.6" r="2.85"/><circle cx="261.5" cy="604.6" r="2.85"/><circle cx="263.4" cy="691.8" r="2.85"/><circle cx="265.0" cy="676.8" r="2.85"/><circle cx="266.5" cy="620.4" r="2.85"/><circle cx="269.9" cy="649.7" r="2.85"/><circle cx="271.1" cy="656.6" r="2.85"/><circle cx="272.8" cy="614.8" r="2.85"/><circle cx="274.5" cy="651.0" r="2.85"/><circle cx="276.0" cy="610.5" r="2.85"/><circle cx="278.0" cy="685.3" r="2.85"/><circle cx="279.6" cy="589.1" r="2.85"/><circle cx="281.0" cy="665.7" r="2.85"/><circle cx="284.0" cy="681.0" r="2.85"/><circle cx="285.5" cy="672.3" r="2.85"/><circle cx="287.3" cy="626.5" r="2.85"/><circle cx="294.0" cy="685.8" r="2.85"/><circle cx="295.3" cy="658.2" r="2.85"/><circle cx="297.1" cy="659.7" r="2.85"/><circle cx="298.5" cy="702.2" r="2.85"/><circle cx="299.9" cy="681.5" r="2.85"/><circle cx="301.8" cy="710.5" r="2.85"/><circle cx="303.2" cy="667.7" r="2.85"/><circle cx="305.1" cy="700.1" r="2.85"/><circle cx="306.7" cy="703.3" r="2.85"/><circle cx="311.1" cy="703.6" r="2.85"/><circle cx="313.1" cy="686.8" r="2.85"/><circle cx="314.7" cy="695.1" r="2.85"/><circle cx="316.2" cy="670.8" r="2.85"/><circle cx="317.7" cy="671.8" r="2.85"/><circle cx="319.2" cy="686.7" r="2.85"/><circle cx="320.8" cy="712.0" r="2.85"/><circle cx="322.4" cy="668.2" r="2.85"/><circle cx="324.3" cy="731.7" r="2.85"/><circle cx="326.1" cy="741.7" r="2.85"/><circle cx="327.5" cy="656.0" r="2.85"/><circle cx="328.8" cy="706.6" r="2.85"/><circle cx="330.8" cy="696.0" r="2.85"/><circle cx="332.2" cy="699.2" r="2.85"/><circle cx="333.6" cy="689.6" r="2.85"/><circle cx="335.5" cy="704.8" r="2.85"/><circle cx="337.3" cy="711.5" r="2.85"/><circle cx="338.3" cy="667.5" r="2.85"/><circle cx="340.4" cy="692.8" r="2.85"/><circle cx="341.6" cy="673.3" r="2.85"/><circle cx="343.3" cy="696.7" r="2.85"/><circle cx="345.1" cy="727.5" r="2.85"/><circle cx="346.5" cy="690.2" r="2.85"/><circle cx="348.4" cy="690.1" r="2.85"/><circle cx="349.9" cy="716.7" r="2.85"/><circle cx="353.2" cy="713.3" r="2.85"/><circle cx="354.4" cy="724.0" r="2.85"/><circle cx="356.6" cy="736.6" r="2.85"/><circle cx="359.7" cy="700.1" r="2.85"/><circle cx="362.5" cy="667.0" r="2.85"/><circle cx="364.4" cy="689.4" r="2.85"/><circle cx="365.8" cy="677.6" r="2.85"/><circle cx="367.2" cy="684.0" r="2.85"/><circle cx="369.3" cy="666.2" r="2.85"/><circle cx="370.7" cy="675.6" r="2.85"/><circle cx="372.3" cy="697.5" r="2.85"/><circle cx="373.9" cy="671.6" r="2.85"/><circle cx="375.3" cy="722.7" r="2.85"/><circle cx="377.2" cy="700.9" r="2.85"/><circle cx="378.8" cy="717.0" r="2.85"/><circle cx="380.6" cy="698.2" r="2.85"/><circle cx="381.9" cy="729.1" r="2.85"/><circle cx="383.6" cy="735.9" r="2.85"/><circle cx="385.3" cy="723.0" r="2.85"/><circle cx="386.9" cy="716.5" r="2.85"/><circle cx="388.2" cy="699.4" r="2.85"/><circle cx="389.9" cy="737.0" r="2.85"/><circle cx="391.3" cy="733.2" r="2.85"/><circle cx="392.8" cy="713.5" r="2.85"/><circle cx="394.6" cy="744.1" r="2.85"/><circle cx="396.1" cy="717.0" r="2.85"/><circle cx="398.1" cy="714.1" r="2.85"/><circle cx="399.5" cy="721.6" r="2.85"/><circle cx="401.1" cy="693.5" r="2.85"/><circle cx="403.0" cy="732.0" r="2.85"/><circle cx="404.2" cy="696.5" r="2.85"/><circle cx="405.7" cy="732.5" r="2.85"/><circle cx="407.4" cy="705.8" r="2.85"/><circle cx="408.9" cy="720.3" r="2.85"/><circle cx="412.3" cy="736.6" r="2.85"/><circle cx="414.2" cy="746.6" r="2.85"/><circle cx="415.7" cy="689.7" r="2.85"/><circle cx="417.3" cy="688.0" r="2.85"/><circle cx="418.6" cy="659.6" r="2.85"/><circle cx="420.3" cy="695.0" r="2.85"/><circle cx="422.0" cy="699.5" r="2.85"/><circle cx="423.9" cy="658.7" r="2.85"/><circle cx="425.2" cy="671.1" r="2.85"/><circle cx="427.0" cy="684.0" r="2.85"/><circle cx="428.2" cy="628.8" r="2.85"/><circle cx="430.0" cy="622.7" r="2.85"/><circle cx="431.9" cy="650.7" r="2.85"/><circle cx="433.1" cy="697.7" r="2.85"/><circle cx="434.7" cy="647.2" r="2.85"/><circle cx="436.2" cy="604.5" r="2.85"/><circle cx="437.8" cy="632.0" r="2.85"/><circle cx="439.6" cy="616.6" r="2.85"/><circle cx="441.1" cy="596.7" r="2.85"/><circle cx="442.9" cy="586.6" r="2.85"/><circle cx="444.1" cy="645.2" r="2.85"/><circle cx="445.8" cy="579.0" r="2.85"/><circle cx="447.6" cy="568.0" r="2.85"/><circle cx="449.4" cy="578.4" r="2.85"/><circle cx="450.9" cy="628.1" r="2.85"/><circle cx="454.2" cy="554.6" r="2.85"/><circle cx="455.5" cy="618.9" r="2.85"/><circle cx="457.2" cy="644.8" r="2.85"/><circle cx="459.1" cy="540.7" r="2.85"/><circle cx="460.6" cy="674.3" r="2.85"/><circle cx="462.2" cy="614.8" r="2.85"/><circle cx="466.7" cy="622.5" r="2.85"/><circle cx="468.4" cy="569.9" r="2.85"/><circle cx="470.2" cy="668.8" r="2.85"/><circle cx="471.9" cy="571.5" r="2.85"/><circle cx="473.5" cy="534.5" r="2.85"/><circle cx="474.8" cy="587.3" r="2.85"/><circle cx="476.7" cy="534.7" r="2.85"/><circle cx="478.2" cy="613.6" r="2.85"/><circle cx="481.3" cy="589.6" r="2.85"/><circle cx="482.7" cy="602.6" r="2.85"/><circle cx="484.7" cy="617.7" r="2.85"/><circle cx="486.0" cy="607.6" r="2.85"/><circle cx="487.4" cy="569.9" r="2.85"/><circle cx="489.4" cy="608.3" r="2.85"/><circle cx="490.7" cy="641.6" r="2.85"/><circle cx="492.6" cy="571.1" r="2.85"/><circle cx="494.4" cy="621.4" r="2.85"/><circle cx="495.7" cy="577.2" r="2.85"/><circle cx="497.3" cy="578.1" r="2.85"/><circle cx="498.7" cy="580.4" r="2.85"/><circle cx="500.6" cy="549.8" r="2.85"/><circle cx="502.4" cy="630.6" r="2.85"/><circle cx="504.0" cy="583.9" r="2.85"/><circle cx="505.2" cy="614.9" r="2.85"/><circle cx="509.9" cy="567.7" r="2.85"/><circle cx="511.6" cy="536.8" r="2.85"/><circle cx="513.3" cy="625.0" r="2.85"/><circle cx="515.1" cy="582.7" r="2.85"/><circle cx="516.7" cy="575.5" r="2.85"/><circle cx="519.8" cy="604.1" r="2.85"/><circle cx="521.2" cy="679.0" r="2.85"/><circle cx="523.0" cy="613.7" r="2.85"/><circle cx="526.2" cy="617.6" r="2.85"/><circle cx="527.9" cy="627.3" r="2.85"/><circle cx="529.1" cy="587.9" r="2.85"/><circle cx="530.8" cy="618.2" r="2.85"/><circle cx="532.4" cy="672.5" r="2.85"/><circle cx="534.1" cy="618.0" r="2.85"/><circle cx="535.5" cy="619.3" r="2.85"/><circle cx="537.6" cy="642.4" r="2.85"/><circle cx="539.2" cy="670.3" r="2.85"/><circle cx="540.3" cy="651.1" r="2.85"/><circle cx="542.5" cy="623.3" r="2.85"/><circle cx="545.2" cy="594.3" r="2.85"/><circle cx="547.0" cy="647.1" r="2.85"/><circle cx="550.4" cy="663.6" r="2.85"/><circle cx="556.3" cy="604.6" r="2.85"/><circle cx="558.4" cy="675.0" r="2.85"/><circle cx="559.6" cy="682.4" r="2.85"/><circle cx="561.2" cy="720.1" r="2.85"/><circle cx="564.8" cy="647.9" r="2.85"/><circle cx="567.6" cy="600.8" r="2.85"/><circle cx="569.2" cy="680.3" r="2.85"/><circle cx="579.2" cy="687.9" r="2.85"/><circle cx="580.5" cy="772.9" r="2.85"/><circle cx="582.5" cy="764.0" r="2.85"/><circle cx="583.6" cy="715.1" r="2.85"/><circle cx="585.5" cy="634.7" r="2.85"/><circle cx="587.2" cy="731.8" r="2.85"/><circle cx="588.9" cy="744.9" r="2.85"/><circle cx="590.3" cy="735.1" r="2.85"/><circle cx="591.7" cy="718.1" r="2.85"/><circle cx="593.4" cy="616.0" r="2.85"/><circle cx="595.3" cy="725.3" r="2.85"/><circle cx="596.5" cy="657.6" r="2.85"/><circle cx="600.2" cy="751.6" r="2.85"/><circle cx="601.4" cy="716.9" r="2.85"/><circle cx="603.2" cy="653.1" r="2.85"/><circle cx="606.3" cy="689.7" r="2.85"/><circle cx="607.9" cy="702.7" r="2.85"/><circle cx="609.5" cy="729.4" r="2.85"/><circle cx="612.6" cy="726.8" r="2.85"/><circle cx="614.2" cy="676.6" r="2.85"/><circle cx="615.6" cy="654.8" r="2.85"/><circle cx="619.1" cy="685.1" r="2.85"/><circle cx="620.9" cy="697.9" r="2.85"/><circle cx="622.1" cy="683.4" r="2.85"/><circle cx="623.8" cy="699.5" r="2.85"/><circle cx="625.4" cy="710.8" r="2.85"/><circle cx="628.5" cy="674.8" r="2.85"/><circle cx="630.1" cy="712.5" r="2.85"/><circle cx="631.8" cy="687.0" r="2.85"/><circle cx="633.5" cy="654.6" r="2.85"/><circle cx="634.9" cy="664.1" r="2.85"/><circle cx="637.0" cy="622.4" r="2.85"/><circle cx="638.1" cy="732.9" r="2.85"/><circle cx="639.9" cy="665.6" r="2.85"/><circle cx="642.9" cy="634.0" r="2.85"/><circle cx="646.5" cy="609.7" r="2.85"/><circle cx="647.7" cy="620.5" r="2.85"/><circle cx="649.4" cy="625.1" r="2.85"/><circle cx="651.4" cy="643.5" r="2.85"/><circle cx="654.6" cy="647.5" r="2.85"/><circle cx="656.1" cy="715.8" r="2.85"/><circle cx="659.1" cy="655.0" r="2.85"/><circle cx="661.0" cy="631.5" r="2.85"/><circle cx="662.4" cy="608.7" r="2.85"/><circle cx="665.4" cy="640.0" r="2.85"/></g>
<g fill="#e8be35" fill-opacity="0.24" stroke="#e8be35" stroke-opacity="0.22" stroke-width="0.6"><circle cx="85.2" cy="610.0" r="2.85"/><circle cx="87.2" cy="624.7" r="2.85"/><circle cx="90.4" cy="644.3" r="2.85"/><circle cx="93.2" cy="593.7" r="2.85"/><circle cx="94.9" cy="632.6" r="2.85"/><circle cx="96.5" cy="685.1" r="2.85"/><circle cx="97.9" cy="611.6" r="2.85"/><circle cx="99.6" cy="628.8" r="2.85"/><circle cx="101.6" cy="629.8" r="2.85"/><circle cx="103.3" cy="695.6" r="2.85"/><circle cx="104.9" cy="642.7" r="2.85"/><circle cx="106.5" cy="654.0" r="2.85"/><circle cx="108.1" cy="650.0" r="2.85"/><circle cx="109.5" cy="628.5" r="2.85"/><circle cx="111.3" cy="601.5" r="2.85"/><circle cx="112.5" cy="591.4" r="2.85"/><circle cx="114.1" cy="676.2" r="2.85"/><circle cx="117.7" cy="605.2" r="2.85"/><circle cx="119.3" cy="673.2" r="2.85"/><circle cx="120.9" cy="637.6" r="2.85"/><circle cx="122.1" cy="661.2" r="2.85"/><circle cx="123.8" cy="659.0" r="2.85"/><circle cx="125.6" cy="651.2" r="2.85"/><circle cx="128.5" cy="616.1" r="2.85"/><circle cx="130.5" cy="641.3" r="2.85"/><circle cx="132.2" cy="637.5" r="2.85"/><circle cx="133.4" cy="661.0" r="2.85"/><circle cx="135.1" cy="679.6" r="2.85"/><circle cx="136.6" cy="690.4" r="2.85"/><circle cx="138.5" cy="742.3" r="2.85"/><circle cx="139.9" cy="702.1" r="2.85"/><circle cx="141.8" cy="653.9" r="2.85"/><circle cx="143.0" cy="668.5" r="2.85"/><circle cx="144.7" cy="588.5" r="2.85"/><circle cx="146.6" cy="607.9" r="2.85"/><circle cx="148.1" cy="661.9" r="2.85"/><circle cx="150.9" cy="619.0" r="2.85"/><circle cx="152.9" cy="597.6" r="2.85"/><circle cx="154.0" cy="640.6" r="2.85"/><circle cx="156.2" cy="547.6" r="2.85"/><circle cx="157.6" cy="573.7" r="2.85"/><circle cx="159.0" cy="565.3" r="2.85"/><circle cx="161.0" cy="507.1" r="2.85"/><circle cx="162.4" cy="579.8" r="2.85"/><circle cx="163.8" cy="590.0" r="2.85"/><circle cx="165.7" cy="563.0" r="2.85"/><circle cx="166.8" cy="610.0" r="2.85"/><circle cx="168.5" cy="643.9" r="2.85"/><circle cx="170.4" cy="640.7" r="2.85"/><circle cx="171.9" cy="670.5" r="2.85"/><circle cx="173.6" cy="669.6" r="2.85"/><circle cx="175.3" cy="622.0" r="2.85"/><circle cx="176.7" cy="705.7" r="2.85"/><circle cx="178.2" cy="609.1" r="2.85"/><circle cx="180.1" cy="673.7" r="2.85"/><circle cx="181.7" cy="605.0" r="2.85"/><circle cx="184.9" cy="673.8" r="2.85"/><circle cx="186.3" cy="668.0" r="2.85"/><circle cx="187.9" cy="670.6" r="2.85"/><circle cx="189.8" cy="634.0" r="2.85"/><circle cx="191.4" cy="706.5" r="2.85"/><circle cx="192.8" cy="584.1" r="2.85"/><circle cx="194.3" cy="635.0" r="2.85"/><circle cx="196.0" cy="575.8" r="2.85"/><circle cx="199.4" cy="633.4" r="2.85"/><circle cx="200.5" cy="648.4" r="2.85"/><circle cx="203.9" cy="625.6" r="2.85"/><circle cx="205.4" cy="596.9" r="2.85"/><circle cx="207.0" cy="575.9" r="2.85"/><circle cx="208.7" cy="590.9" r="2.85"/><circle cx="210.6" cy="632.0" r="2.85"/><circle cx="211.9" cy="651.4" r="2.85"/><circle cx="214.9" cy="635.0" r="2.85"/><circle cx="216.7" cy="667.5" r="2.85"/><circle cx="220.1" cy="646.0" r="2.85"/><circle cx="221.9" cy="666.7" r="2.85"/><circle cx="223.2" cy="613.0" r="2.85"/><circle cx="225.0" cy="632.7" r="2.85"/><circle cx="226.3" cy="661.5" r="2.85"/><circle cx="228.1" cy="654.3" r="2.85"/><circle cx="229.9" cy="658.7" r="2.85"/><circle cx="231.6" cy="660.7" r="2.85"/><circle cx="233.1" cy="615.8" r="2.85"/><circle cx="234.4" cy="632.3" r="2.85"/><circle cx="236.1" cy="640.9" r="2.85"/><circle cx="237.6" cy="664.4" r="2.85"/><circle cx="239.3" cy="672.2" r="2.85"/><circle cx="240.9" cy="596.3" r="2.85"/><circle cx="242.3" cy="649.5" r="2.85"/><circle cx="244.2" cy="625.0" r="2.85"/><circle cx="247.4" cy="658.1" r="2.85"/><circle cx="249.0" cy="703.3" r="2.85"/><circle cx="250.2" cy="620.6" r="2.85"/><circle cx="252.1" cy="706.6" r="2.85"/><circle cx="253.8" cy="706.6" r="2.85"/><circle cx="255.5" cy="675.3" r="2.85"/><circle cx="256.8" cy="680.7" r="2.85"/><circle cx="258.4" cy="689.1" r="2.85"/><circle cx="260.2" cy="666.4" r="2.85"/><circle cx="261.6" cy="648.6" r="2.85"/><circle cx="263.5" cy="625.5" r="2.85"/><circle cx="266.8" cy="658.5" r="2.85"/><circle cx="267.9" cy="624.8" r="2.85"/><circle cx="269.8" cy="672.2" r="2.85"/><circle cx="271.1" cy="669.5" r="2.85"/><circle cx="272.8" cy="729.4" r="2.85"/><circle cx="274.8" cy="654.8" r="2.85"/><circle cx="276.2" cy="630.7" r="2.85"/><circle cx="277.7" cy="651.7" r="2.85"/><circle cx="279.5" cy="621.2" r="2.85"/><circle cx="280.7" cy="673.3" r="2.85"/><circle cx="282.5" cy="714.8" r="2.85"/><circle cx="284.4" cy="697.6" r="2.85"/><circle cx="285.8" cy="719.4" r="2.85"/><circle cx="287.6" cy="699.0" r="2.85"/><circle cx="289.1" cy="704.2" r="2.85"/><circle cx="290.3" cy="708.3" r="2.85"/><circle cx="292.2" cy="700.2" r="2.85"/><circle cx="293.5" cy="698.9" r="2.85"/><circle cx="295.2" cy="667.7" r="2.85"/><circle cx="297.2" cy="691.0" r="2.85"/><circle cx="298.6" cy="711.5" r="2.85"/><circle cx="299.9" cy="745.6" r="2.85"/><circle cx="301.6" cy="738.3" r="2.85"/><circle cx="303.5" cy="689.7" r="2.85"/><circle cx="304.8" cy="708.6" r="2.85"/><circle cx="306.3" cy="717.9" r="2.85"/><circle cx="308.2" cy="669.9" r="2.85"/><circle cx="309.6" cy="667.2" r="2.85"/><circle cx="311.1" cy="684.3" r="2.85"/><circle cx="313.0" cy="677.3" r="2.85"/><circle cx="314.7" cy="708.5" r="2.85"/><circle cx="316.2" cy="717.2" r="2.85"/><circle cx="321.1" cy="662.1" r="2.85"/><circle cx="324.1" cy="706.6" r="2.85"/><circle cx="325.6" cy="708.6" r="2.85"/><circle cx="328.9" cy="729.3" r="2.85"/><circle cx="330.6" cy="723.4" r="2.85"/><circle cx="332.4" cy="704.8" r="2.85"/><circle cx="334.0" cy="720.8" r="2.85"/><circle cx="335.3" cy="688.8" r="2.85"/><circle cx="337.0" cy="660.4" r="2.85"/><circle cx="340.3" cy="715.5" r="2.85"/><circle cx="341.6" cy="696.3" r="2.85"/><circle cx="343.2" cy="743.3" r="2.85"/><circle cx="345.0" cy="709.4" r="2.85"/><circle cx="346.7" cy="708.5" r="2.85"/><circle cx="350.1" cy="694.1" r="2.85"/><circle cx="351.7" cy="711.6" r="2.85"/><circle cx="353.2" cy="725.2" r="2.85"/><circle cx="354.9" cy="713.8" r="2.85"/><circle cx="356.0" cy="711.9" r="2.85"/><circle cx="357.7" cy="690.3" r="2.85"/><circle cx="359.6" cy="640.2" r="2.85"/><circle cx="361.0" cy="689.9" r="2.85"/><circle cx="365.7" cy="737.6" r="2.85"/><circle cx="367.2" cy="708.4" r="2.85"/><circle cx="370.7" cy="721.5" r="2.85"/><circle cx="372.1" cy="672.0" r="2.85"/><circle cx="374.0" cy="701.6" r="2.85"/><circle cx="375.5" cy="699.1" r="2.85"/><circle cx="377.1" cy="705.9" r="2.85"/><circle cx="378.7" cy="715.6" r="2.85"/><circle cx="380.1" cy="742.7" r="2.85"/><circle cx="382.0" cy="698.4" r="2.85"/><circle cx="383.4" cy="728.1" r="2.85"/><circle cx="384.9" cy="677.6" r="2.85"/><circle cx="387.0" cy="734.8" r="2.85"/><circle cx="388.4" cy="683.4" r="2.85"/><circle cx="389.8" cy="698.3" r="2.85"/><circle cx="391.6" cy="716.1" r="2.85"/><circle cx="393.1" cy="723.5" r="2.85"/><circle cx="394.5" cy="689.3" r="2.85"/><circle cx="396.1" cy="689.7" r="2.85"/><circle cx="398.2" cy="724.8" r="2.85"/><circle cx="401.2" cy="674.4" r="2.85"/><circle cx="402.5" cy="655.1" r="2.85"/><circle cx="405.8" cy="653.8" r="2.85"/><circle cx="407.8" cy="628.3" r="2.85"/><circle cx="409.0" cy="670.1" r="2.85"/><circle cx="410.8" cy="696.3" r="2.85"/><circle cx="412.3" cy="694.5" r="2.85"/><circle cx="413.7" cy="642.1" r="2.85"/><circle cx="415.4" cy="651.7" r="2.85"/><circle cx="417.1" cy="614.6" r="2.85"/><circle cx="418.7" cy="616.5" r="2.85"/><circle cx="420.3" cy="633.7" r="2.85"/><circle cx="421.8" cy="622.4" r="2.85"/><circle cx="423.5" cy="665.3" r="2.85"/><circle cx="424.9" cy="676.6" r="2.85"/><circle cx="426.6" cy="687.1" r="2.85"/><circle cx="428.2" cy="637.1" r="2.85"/><circle cx="429.9" cy="613.4" r="2.85"/><circle cx="431.7" cy="606.0" r="2.85"/><circle cx="434.6" cy="575.2" r="2.85"/><circle cx="436.3" cy="562.5" r="2.85"/><circle cx="437.9" cy="597.5" r="2.85"/><circle cx="439.4" cy="571.9" r="2.85"/><circle cx="441.2" cy="591.2" r="2.85"/><circle cx="443.1" cy="578.0" r="2.85"/><circle cx="444.6" cy="614.6" r="2.85"/><circle cx="445.9" cy="604.8" r="2.85"/><circle cx="447.7" cy="525.9" r="2.85"/><circle cx="449.5" cy="572.8" r="2.85"/><circle cx="452.4" cy="630.1" r="2.85"/><circle cx="454.0" cy="670.2" r="2.85"/><circle cx="455.9" cy="622.7" r="2.85"/><circle cx="457.2" cy="624.2" r="2.85"/><circle cx="458.8" cy="599.0" r="2.85"/><circle cx="460.7" cy="605.8" r="2.85"/><circle cx="461.9" cy="653.7" r="2.85"/><circle cx="463.5" cy="642.2" r="2.85"/><circle cx="465.4" cy="600.4" r="2.85"/><circle cx="467.2" cy="586.2" r="2.85"/><circle cx="468.7" cy="603.6" r="2.85"/><circle cx="470.1" cy="669.1" r="2.85"/><circle cx="471.9" cy="637.5" r="2.85"/><circle cx="473.1" cy="640.3" r="2.85"/><circle cx="474.9" cy="610.8" r="2.85"/><circle cx="478.2" cy="557.8" r="2.85"/><circle cx="481.4" cy="506.3" r="2.85"/><circle cx="483.0" cy="508.0" r="2.85"/><circle cx="484.5" cy="583.1" r="2.85"/><circle cx="486.4" cy="548.7" r="2.85"/><circle cx="488.0" cy="561.9" r="2.85"/><circle cx="489.4" cy="527.1" r="2.85"/><circle cx="492.3" cy="580.0" r="2.85"/><circle cx="494.3" cy="553.4" r="2.85"/><circle cx="496.0" cy="547.6" r="2.85"/><circle cx="497.1" cy="545.7" r="2.85"/></g>
<path d="M466.4 572.3 L468.3 573.2 L470.2 563.6 L473.1 560.8 L476.9 560.8 L479.8 559.8 L482.7 561.7 L485.6 563.6 L488.4 557.9 L491.3 547.4 L494.2 546.4 L496.1 553.1 L499.0 553.1 L500.9 563.6 L501.8 577.0 L502.8 586.6 L503.8 596.2 L505.7 586.6 L507.6 584.7 L510.5 584.7 L513.3 582.8 L515.2 575.1 L517.2 563.6 L519.1 558.9 L522.0 556.9 L524.3 557.2 L529.7 558.3 L532.9 561.6 L535.1 576.6 L537.2 580.9 L539.4 591.7 L541.6 604.7 L543.7 617.6 L545.9 626.2 L548.0 624.1 L550.2 630.5 L552.3 643.4 L554.5 654.2 L556.6 662.8 L558.8 675.8 L560.9 680.1 L563.1 688.7 L565.3 688.7 L567.4 675.8 L569.6 675.8 L571.7 688.7 L575.0 690.9 L579.3 690.9 L583.6 691.9 L587.9 693.0 L593.3 692.1 L596.7 688.7 L599.2 685.4 L601.7 680.4 L604.2 677.0 L605.9 670.3 L607.6 662.0 L609.2 653.6 L611.8 651.9 L614.3 653.6 L615.9 662.0 L617.6 656.9 L619.3 648.6 L621.0 645.2 L622.6 639.4 L625.1 641.9 L627.7 638.5 L631.0 638.5 L633.5 635.2 L636.0 630.2 L637.7 630.2 L639.4 635.2 L641.0 635.2 L643.6 636.9 L646.1 640.2 L647.7 646.9 L650.3 651.9 L651.9 646.9 L654.4 651.9 L656.9 656.9 L658.6 660.3 L661.1 655.3 L663.6 651.9 L667.0 646.9" fill="none" stroke="#3b0f5e" stroke-width="2.8" stroke-linejoin="round" stroke-linecap="round"/>
<path d="M82.5 670.5 L85.0 683.9 L87.5 692.3 L90.0 683.9 L93.4 673.9 L95.9 672.2 L99.3 670.5 L100.9 657.1 L103.5 640.4 L106.0 633.7 L108.5 621.9 L111.8 615.2 L115.2 611.9 L117.7 612.7 L121.0 613.6 L124.4 613.6 L127.7 608.5 L130.3 610.2 L133.6 610.2 L137.0 620.3 L138.6 628.6 L141.1 633.7 L143.7 637.0 L146.2 642.0 L148.7 652.1 L151.2 667.2 L153.7 673.9 L156.2 678.9 L158.7 680.6 L162.1 682.2 L165.4 685.6 L167.9 688.9 L170.5 692.3 L173.0 697.3 L174.6 704.0 L176.9 717.9 L178.8 731.3 L182.7 735.2 L186.5 736.1 L190.3 736.1 L193.2 733.3 L195.1 714.1 L197.0 675.8 L198.9 664.3 L201.8 662.4 L203.7 658.5 L205.7 662.4 L209.5 664.3 L211.4 668.1 L213.3 687.3 L215.2 702.6 L218.1 706.4 L221.0 712.2 L223.9 717.9 L225.8 719.8 L227.7 714.1 L229.6 710.3 L232.5 706.4 L234.4 694.9 L236.3 687.3 L239.2 679.6 L243.0 679.6 L244.9 670.0 L246.8 656.6 L248.8 647.1 L250.7 637.5 L253.2 629.8 L255.1 633.6 L257.0 645.1 L259.3 656.6 L262.2 658.5 L266.0 658.5 L268.9 660.5 L270.8 672.0 L272.7 679.6 L275.7 679.4 L277.7 689.0 L279.6 696.6 L281.5 692.8 L283.4 685.1 L285.3 681.3 L289.2 679.4 L293.0 681.3 L294.9 685.1 L297.8 689.0 L299.7 683.2 L302.6 681.3 L304.5 681.3 L307.4 677.5 L311.2 673.6 L315.0 669.8 L319.8 669.8 L322.7 671.7 L324.6 677.5 L327.5 679.4 L331.3 683.2 L335.1 690.9 L338.9 694.7 L341.8 696.6 L343.8 694.7 L345.7 690.9 L348.5 690.9 L351.4 692.8 L354.3 687.0 L357.2 683.2 L360.0 681.3 L362.9 675.6 L365.8 662.1 L367.7 650.7 L369.8 649.0 L372.7 648.0 L374.6 654.7 L376.5 662.4 L379.4 662.4 L381.3 670.0 L383.2 675.8 L385.1 681.5 L387.0 695.0 L388.9 702.6 L390.9 708.4 L393.7 706.4 L395.7 693.0 L397.6 681.5 L399.5 664.3 L401.4 649.0 L403.3 639.4 L406.2 635.6 L410.0 636.5 L412.9 629.8 L415.8 631.7 L417.7 637.5 L420.6 652.8 L422.5 662.4 L424.4 660.5 L426.3 672.0 L429.2 672.0 L431.0 642.2 L433.8 640.3 L437.7 636.4 L441.5 634.5 L445.3 632.6 L449.2 628.8 L452.0 625.0 L454.9 619.2 L457.8 619.2 L460.7 623.0 L462.6 619.2 L465.4 611.5 L468.3 611.5 L471.2 619.2 L474.1 624.9 L476.9 634.5 L478.9 642.2 L481.7 644.1 L483.6 644.1 L485.6 655.6 L487.5 661.3 L490.3 661.3 L492.3 646.0 L495.1 640.3 L497.0 634.5 L499.9 630.7 L502.8 624.9 L505.7 621.1 L508.5 621.1 L511.4 623.0 L513.3 626.9 L516.2 624.9 L520.0 623.0 L523.9 619.2 L526.5 617.6 L530.8 617.6 L535.1 615.4 L539.4 613.3 L543.7 615.4 L546.9 621.9 L550.2 626.2 L553.4 626.2 L555.6 604.7 L557.7 598.2 L559.9 604.7 L562.0 630.5 L564.2 643.4 L566.3 645.6 L569.6 639.1 L572.8 630.5 L576.0 632.7 L579.3 639.1 L582.5 645.6 L584.7 660.7 L586.8 673.6 L590.0 682.2 L592.5 683.7 L595.0 703.8 L597.5 708.8 L601.7 709.7 L605.1 707.2 L608.4 705.5 L610.9 698.8 L612.6 690.4 L614.3 680.4 L615.9 677.0 L618.5 675.4 L621.0 673.7 L623.5 668.7 L625.1 672.0 L628.5 672.0 L631.8 672.8 L635.2 672.8 L641.9 673.7 L644.4 678.7 L646.9 680.4 L649.4 680.4 L651.9 675.4 L654.4 668.7 L656.9 665.3 L659.5 665.3 L662.0 660.3 L664.5 653.6 L667.0 647.7" fill="none" stroke="#36529c" stroke-width="2.8" stroke-linejoin="round" stroke-linecap="round"/>
<path d="M82.5 637.0 L85.0 628.6 L88.4 625.3 L91.7 623.6 L95.1 621.9 L98.4 621.1 L101.8 621.9 L105.1 620.3 L107.6 618.6 L109.3 612.7 L111.0 616.9 L113.5 620.3 L116.0 623.6 L118.5 630.3 L121.9 633.7 L125.2 633.7 L128.6 635.3 L131.9 642.0 L135.3 647.1 L138.6 648.7 L142.0 647.9 L144.5 643.7 L147.0 637.0 L149.5 625.3 L152.0 613.6 L153.7 603.5 L156.2 601.8 L158.7 605.2 L161.2 608.5 L163.8 613.6 L166.3 620.3 L168.8 628.6 L171.3 637.0 L173.8 640.4 L178.8 640.3 L182.7 637.5 L185.5 629.8 L188.4 626.0 L192.2 626.9 L195.1 631.7 L197.0 635.6 L200.9 634.6 L204.7 634.6 L207.6 633.6 L209.5 639.4 L211.4 641.3 L213.3 633.6 L215.2 618.3 L218.1 614.5 L221.0 610.7 L223.9 614.5 L225.8 617.4 L227.7 620.2 L230.6 622.1 L233.4 619.3 L235.3 627.9 L237.3 637.5 L239.2 643.2 L241.1 637.5 L243.0 645.1 L245.9 641.3 L248.8 637.5 L251.6 633.6 L253.5 631.7 L256.4 636.5 L259.3 637.5 L262.2 639.4 L265.0 645.1 L267.9 650.9 L270.8 656.4 L273.8 656.4 L277.7 658.3 L281.5 657.4 L284.4 654.5 L287.2 658.3 L290.1 664.1 L293.0 669.8 L295.9 675.6 L297.8 675.6 L300.7 683.2 L303.5 689.0 L305.4 696.6 L307.4 706.2 L309.3 719.6 L311.2 713.9 L314.1 702.4 L316.9 698.5 L320.8 698.5 L324.6 700.5 L327.5 696.6 L331.3 692.8 L335.1 689.0 L338.0 692.8 L340.9 696.6 L343.8 700.5 L346.6 710.0 L349.5 723.4 L352.4 717.7 L355.2 713.9 L359.1 713.9 L362.0 700.5 L364.8 696.6 L367.9 691.1 L370.7 693.0 L373.6 700.7 L375.5 706.4 L378.4 710.3 L382.2 712.2 L386.1 712.2 L389.9 714.1 L393.7 714.1 L397.6 712.2 L400.4 714.1 L403.3 717.9 L407.1 719.8 L411.0 720.8 L413.9 717.9 L415.8 704.5 L416.7 691.1 L419.6 689.2 L421.5 685.4 L423.4 677.7 L425.3 670.0 L427.3 664.3 L429.2 656.6 L431.1 653.8 L433.8 653.7 L435.7 644.1 L437.7 624.9 L439.6 613.4 L442.5 605.8 L445.3 596.2 L448.2 594.3 L451.1 594.3 L453.0 590.5 L454.9 582.8 L457.8 582.8 L460.7 592.4 L463.5 605.8 L465.4 600.0 L467.4 588.5 L470.2 584.7 L473.1 577.0 L476.0 578.0 L478.9 582.8 L481.7 586.6 L485.6 586.6 L488.4 592.4 L491.3 594.3 L495.1 592.4 L499.0 586.6 L501.8 592.4 L504.7 594.3 L507.6 586.6 L510.5 584.7 L513.3 582.8 L516.2 590.5 L518.1 600.0 L521.0 615.4 L523.2 630.5 L526.5 639.1 L529.7 626.2 L531.9 619.7 L535.1 621.9 L537.2 630.5 L540.5 647.8 L543.7 652.1 L546.9 654.2 L550.2 658.5 L553.4 658.5 L555.6 660.7 L557.7 669.3 L559.9 660.7 L562.0 654.2 L565.3 660.7 L567.4 654.2 L571.7 654.2 L575.0 658.5 L577.2 673.6 L579.3 688.7 L581.4 706.0 L584.7 710.3 L587.9 710.3 L590.0 716.7 L592.2 718.9 L594.2 707.2 L595.9 697.1 L599.2 695.4 L602.6 693.8 L606.7 695.4 L610.1 702.1 L612.6 693.8 L614.3 688.7 L616.8 688.7 L618.5 690.4 L620.1 697.1 L623.5 698.8 L626.0 700.5 L628.5 697.1 L631.0 690.4 L633.5 688.7 L636.0 685.4 L638.5 683.7 L640.2 678.7 L641.9 670.3 L643.6 657.0 L645.2 640.2 L647.7 636.9 L651.1 635.2 L653.6 633.5 L656.1 631.9 L658.6 635.2 L661.1 635.2 L663.6 638.5 L666.2 640.2" fill="none" stroke="#62d05e" stroke-width="2.8" stroke-linejoin="round" stroke-linecap="round"/>
<path d="M82.5 663.8 L85.0 670.5 L87.5 675.5 L90.0 668.8 L92.6 663.8 L95.9 662.1 L99.3 661.3 L103.5 660.5 L106.0 658.8 L108.5 653.8 L111.0 642.0 L113.5 635.3 L116.0 632.8 L118.5 633.7 L121.0 638.7 L123.6 640.4 L126.9 637.0 L130.3 642.0 L133.6 647.1 L137.0 652.1 L140.3 655.4 L143.7 658.8 L147.0 661.3 L150.4 662.1 L153.7 662.1 L157.1 660.5 L160.4 658.8 L162.9 655.4 L164.6 647.1 L166.3 640.4 L167.9 635.3 L171.3 636.2 L175.5 637.0 L178.8 637.5 L182.7 635.6 L186.5 627.9 L189.4 627.9 L192.2 629.8 L194.2 618.3 L196.1 601.1 L198.0 603.0 L199.9 612.6 L205.7 612.6 L207.6 622.1 L209.5 629.8 L211.4 643.2 L213.3 649.0 L216.2 650.9 L218.1 656.6 L220.0 668.1 L221.9 681.5 L224.8 684.4 L226.7 675.8 L228.6 683.4 L231.5 691.1 L234.4 696.9 L237.3 702.6 L240.1 710.3 L243.0 704.5 L245.9 696.9 L248.8 698.8 L251.6 698.8 L254.5 694.9 L256.4 683.4 L258.3 681.5 L261.2 681.5 L263.1 689.2 L265.0 694.9 L266.9 696.9 L268.9 706.4 L270.8 716.0 L273.8 719.6 L277.7 721.5 L280.5 731.1 L283.4 729.2 L286.3 729.2 L289.2 731.1 L291.1 736.9 L293.0 746.4 L296.8 748.4 L300.7 748.4 L302.6 738.8 L304.5 729.2 L306.4 731.1 L309.3 734.9 L312.1 736.9 L314.1 725.4 L316.0 715.8 L317.9 704.3 L319.8 696.6 L321.7 689.0 L324.6 687.0 L327.5 685.1 L331.3 679.4 L335.1 677.5 L339.0 679.4 L342.8 681.3 L350.5 681.3 L354.3 683.2 L358.1 685.1 L362.0 689.0 L365.8 694.7 L368.8 702.6 L372.7 702.6 L376.5 704.5 L380.3 706.4 L384.2 710.3 L388.0 712.2 L399.5 712.2 L402.4 708.4 L405.2 702.6 L408.1 694.9 L410.0 687.3 L411.9 675.8 L412.9 660.5 L413.9 649.0 L416.7 647.1 L418.6 639.4 L420.6 631.7 L423.4 629.8 L426.3 629.8 L428.2 633.6 L430.1 643.2 L431.9 655.6 L434.8 657.5 L437.7 655.6 L440.5 642.2 L442.5 636.4 L444.4 644.1 L446.3 655.6 L448.2 651.8 L450.1 642.2" fill="none" stroke="#cd2228" stroke-width="4.2" stroke-linejoin="round" stroke-linecap="round"/>
<path d="M506.6 619.2 L510.5 620.2 L514.3 621.1 L518.1 625.0 L520.0 626.2 L523.2 624.1 L525.4 604.7 L528.6 602.5 L531.9 604.7 L534.0 617.6 L536.2 604.7 L538.3 600.3 L540.5 611.1 L542.6 628.4 L544.8 634.8 L546.9 643.4 L549.1 649.9 L551.3 652.1 L553.4 643.4 L555.6 639.1 L557.7 641.3 L559.9 649.9 L563.1 652.1 L566.3 647.8 L568.5 637.0 L570.6 617.6 L572.8 613.3 L576.0 615.4 L578.2 621.9 L580.3 630.5 L583.6 631.6 L586.8 632.7 L589.0 654.2 L591.1 680.1 L593.3 688.7 L595.4 693.0 L597.6 697.3 L600.8 699.5 L604.1 706.0 L607.3 708.1 L610.1 702.1 L612.6 698.8 L615.9 698.8 L626.0 697.1 L627.7 687.1 L631.0 683.7 L633.5 680.4 L636.0 673.7 L637.7 665.3 L639.4 657.0 L641.0 646.9 L642.7 638.5 L645.2 636.9 L648.6 636.9 L651.9 638.5 L654.4 640.2 L656.1 646.9 L657.8 650.3 L660.3 651.9 L663.6 652.8 L667.0 653.6" fill="none" stroke="#cd2228" stroke-width="4.2" stroke-linejoin="round" stroke-linecap="round"/>
<path d="M82.5 625.3 L85.0 627.0 L88.4 633.7 L91.7 640.4 L94.2 647.1 L96.8 640.4 L99.3 638.7 L101.8 645.4 L104.3 650.4 L106.8 645.4 L109.3 633.7 L112.7 620.3 L115.2 616.9 L118.5 618.6 L121.0 637.0 L122.7 655.4 L123.6 670.5 L125.2 637.0 L126.9 620.3 L129.4 625.3 L131.1 645.4 L133.6 667.2 L135.3 678.9 L137.0 688.9 L139.5 678.9 L141.1 670.5 L142.8 637.0 L145.3 601.8 L147.0 610.2 L148.7 620.3 L150.4 621.9 L152.0 627.0 L153.7 608.5 L156.2 601.8 L158.7 603.5 L160.4 598.5 L162.9 597.6 L165.4 600.2 L167.1 605.2 L168.8 613.6 L170.5 628.6 L172.1 637.0 L174.6 630.3 L176.3 638.7 L177.9 643.2 L180.7 650.9 L183.6 662.4 L186.5 670.0 L188.4 670.0 L190.3 656.6 L192.2 643.2 L195.1 618.3 L197.0 633.6 L198.9 645.1 L200.9 641.3 L202.8 618.3 L204.7 595.3 L206.6 591.5 L208.5 591.5 L210.4 603.0 L212.4 614.5 L214.3 629.8 L216.2 645.1 L218.1 654.7 L221.0 658.5 L224.8 662.4 L228.6 662.4 L232.5 656.6 L236.3 654.7 L240.1 649.0 L243.0 650.9 L245.9 652.8 L248.8 654.7 L250.7 672.0 L252.6 687.3 L255.5 691.1 L257.4 679.6 L259.3 666.2 L262.2 660.5 L273.8 662.1 L277.7 669.8 L280.5 677.5 L282.5 689.0 L284.4 700.5 L287.2 708.1 L291.1 710.0 L305.4 710.0 L308.3 696.6 L310.2 692.8 L312.1 704.3 L315.0 704.3 L317.9 702.4 L320.8 704.3 L324.6 700.5 L327.5 704.3 L330.3 706.2 L334.2 708.1 L338.0 708.1 L341.8 710.0 L345.7 715.8 L348.5 719.6 L351.4 717.7 L354.3 715.8 L358.1 713.9 L362.0 710.0 L365.8 708.1 L370.7 712.2 L376.5 712.2 L382.2 710.3 L386.1 710.3 L389.9 706.4 L392.8 702.6 L394.7 691.1 L396.6 681.5 L399.5 679.6 L402.4 668.1 L405.2 662.4 L409.1 666.2 L411.9 664.3 L414.8 660.5 L417.7 647.1 L419.6 639.4 L422.5 650.9 L424.4 658.5 L427.3 658.5 L429.2 643.2 L430.0 617.3 L432.9 609.6 L435.7 602.0 L438.6 584.7 L440.5 582.8 L442.5 596.2 L444.4 586.6 L446.3 575.1 L448.2 573.2 L450.1 584.7 L452.0 605.8 L453.9 623.0 L456.8 628.8 L460.7 634.5 L465.4 635.5 L470.2 634.5 L473.1 628.8 L475.0 617.3 L476.9 598.1 L478.9 582.8 L480.8 576.1 L483.6 573.2 L485.6 561.7 L488.4 559.8 L491.3 564.6 L494.2 565.6 L496.1 559.8 L498.0 556.9" fill="none" stroke="#e8be35" stroke-width="2.8" stroke-linejoin="round" stroke-linecap="round"/>
<path d="M83.0 458.0 V779.4 H668.0" fill="none" stroke="#8c8c8c" stroke-width="1.6"/>
<line x1="83.00" y1="779.4" x2="83.00" y2="773.4" stroke="#8c8c8c" stroke-width="1.3"/>
<line x1="132.68" y1="779.4" x2="132.68" y2="773.4" stroke="#8c8c8c" stroke-width="1.3"/>
<line x1="177.56" y1="779.4" x2="177.56" y2="773.4" stroke="#8c8c8c" stroke-width="1.3"/>
<line x1="227.25" y1="779.4" x2="227.25" y2="773.4" stroke="#8c8c8c" stroke-width="1.3"/>
<line x1="275.33" y1="779.4" x2="275.33" y2="773.4" stroke="#8c8c8c" stroke-width="1.3"/>
<line x1="325.01" y1="779.4" x2="325.01" y2="773.4" stroke="#8c8c8c" stroke-width="1.3"/>
<line x1="373.10" y1="779.4" x2="373.10" y2="773.4" stroke="#8c8c8c" stroke-width="1.3"/>
<line x1="422.78" y1="779.4" x2="422.78" y2="773.4" stroke="#8c8c8c" stroke-width="1.3"/>
<line x1="472.47" y1="779.4" x2="472.47" y2="773.4" stroke="#8c8c8c" stroke-width="1.3"/>
<line x1="520.55" y1="779.4" x2="520.55" y2="773.4" stroke="#8c8c8c" stroke-width="1.3"/>
<line x1="570.23" y1="779.4" x2="570.23" y2="773.4" stroke="#8c8c8c" stroke-width="1.3"/>
<line x1="618.32" y1="779.4" x2="618.32" y2="773.4" stroke="#8c8c8c" stroke-width="1.3"/>
<line x1="668.00" y1="779.4" x2="668.00" y2="773.4" stroke="#8c8c8c" stroke-width="1.3"/>
<line x1="83.0" y1="779.40" x2="89.0" y2="779.40" stroke="#8c8c8c" stroke-width="1.3"/>
<text x="75.0" y="788.80" font-size="23" text-anchor="end">75</text>
<line x1="83.0" y1="725.83" x2="89.0" y2="725.83" stroke="#8c8c8c" stroke-width="1.3"/>
<text x="75.0" y="735.23" font-size="23" text-anchor="end">80</text>
<line x1="83.0" y1="672.27" x2="89.0" y2="672.27" stroke="#8c8c8c" stroke-width="1.3"/>
<text x="75.0" y="681.67" font-size="23" text-anchor="end">85</text>
<line x1="83.0" y1="618.70" x2="89.0" y2="618.70" stroke="#8c8c8c" stroke-width="1.3"/>
<text x="75.0" y="628.10" font-size="23" text-anchor="end">90</text>
<line x1="83.0" y1="565.13" x2="89.0" y2="565.13" stroke="#8c8c8c" stroke-width="1.3"/>
<text x="75.0" y="574.53" font-size="23" text-anchor="end">95</text>
<line x1="83.0" y1="511.57" x2="89.0" y2="511.57" stroke="#8c8c8c" stroke-width="1.3"/>
<text x="75.0" y="520.97" font-size="23" text-anchor="end">100</text>
<line x1="83.0" y1="458.00" x2="89.0" y2="458.00" stroke="#8c8c8c" stroke-width="1.3"/>
<text x="75.0" y="467.40" font-size="23" text-anchor="end">105</text>
<text transform="translate(98.60,803.1999999999999) rotate(-45)" font-size="23.6" text-anchor="end">Jan</text>
<text transform="translate(148.28,803.1999999999999) rotate(-45)" font-size="23.6" text-anchor="end">Feb</text>
<text transform="translate(193.16,803.1999999999999) rotate(-45)" font-size="23.6" text-anchor="end">Mar</text>
<text transform="translate(242.85,803.1999999999999) rotate(-45)" font-size="23.6" text-anchor="end">Apr</text>
<text transform="translate(290.93,803.1999999999999) rotate(-45)" font-size="23.6" text-anchor="end">May</text>
<text transform="translate(340.61,803.1999999999999) rotate(-45)" font-size="23.6" text-anchor="end">Jun</text>
<text transform="translate(388.70,803.1999999999999) rotate(-45)" font-size="23.6" text-anchor="end">Jul</text>
<text transform="translate(438.38,803.1999999999999) rotate(-45)" font-size="23.6" text-anchor="end">Aug</text>
<text transform="translate(488.07,803.1999999999999) rotate(-45)" font-size="23.6" text-anchor="end">Sep</text>
<text transform="translate(536.15,803.1999999999999) rotate(-45)" font-size="23.6" text-anchor="end">Oct</text>
<text transform="translate(585.83,803.1999999999999) rotate(-45)" font-size="23.6" text-anchor="end">Nov</text>
<text transform="translate(633.92,803.1999999999999) rotate(-45)" font-size="23.6" text-anchor="end">Dec</text>
<text transform="translate(683.60,803.1999999999999) rotate(-45)" font-size="23.6" text-anchor="end">Jan</text>
<text transform="translate(27,618.7) rotate(-90)" font-size="23.5" text-anchor="middle">dB re 1 <tspan font-family="Liberation Serif" font-style="italic">μ</tspan>Pa<tspan dy="-10" font-size="17">2</tspan><tspan dy="10"> at CF 125 Hz</tspan></text>
<rect x="275.5" y="14.3" width="101" height="132" fill="#fff" stroke="#7a7a7a" stroke-width="1"/>
<line x1="281.0" y1="29.3" x2="320.0" y2="29.3" stroke="#3b0f5e" stroke-width="2.8"/>
<text x="323.8" y="37.1" font-size="21.3">2018</text>
<line x1="281.0" y1="54.9" x2="320.0" y2="54.9" stroke="#36529c" stroke-width="2.8"/>
<text x="323.8" y="62.7" font-size="21.3">2019</text>
<line x1="281.0" y1="80.5" x2="320.0" y2="80.5" stroke="#cd2228" stroke-width="4.0"/>
<text x="323.8" y="88.3" font-size="21.3">2020</text>
<line x1="281.0" y1="106.1" x2="320.0" y2="106.1" stroke="#62d05e" stroke-width="2.8"/>
<text x="323.8" y="113.9" font-size="21.3">2021</text>
<line x1="281.0" y1="131.7" x2="320.0" y2="131.7" stroke="#e8be35" stroke-width="2.8"/>
<text x="323.8" y="139.5" font-size="21.3">2022</text>
<rect x="568" y="456" width="100.5" height="132.3" fill="#fff" stroke="#7a7a7a" stroke-width="1"/>
<line x1="573.5" y1="471.0" x2="612.5" y2="471.0" stroke="#3b0f5e" stroke-width="2.8"/>
<text x="616.3" y="478.8" font-size="21.3">2018</text>
<line x1="573.5" y1="496.6" x2="612.5" y2="496.6" stroke="#36529c" stroke-width="2.8"/>
<text x="616.3" y="504.4" font-size="21.3">2019</text>
<line x1="573.5" y1="522.2" x2="612.5" y2="522.2" stroke="#cd2228" stroke-width="4.0"/>
<text x="616.3" y="530.0" font-size="21.3">2020</text>
<line x1="573.5" y1="547.8" x2="612.5" y2="547.8" stroke="#62d05e" stroke-width="2.8"/>
<text x="616.3" y="555.6" font-size="21.3">2021</text>
<line x1="573.5" y1="573.4" x2="612.5" y2="573.4" stroke="#e8be35" stroke-width="2.8"/>
<text x="616.3" y="581.2" font-size="21.3">2022</text>
</svg></body></html>
